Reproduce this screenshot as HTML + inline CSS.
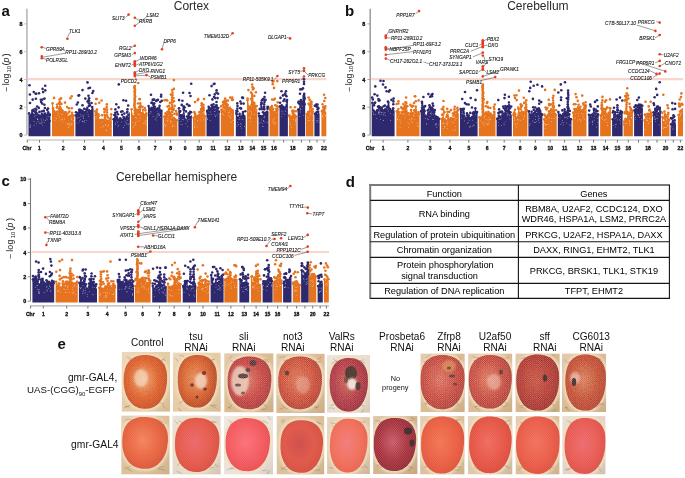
<!DOCTYPE html>
<html><head><meta charset="utf-8"><style>
html,body{margin:0;padding:0;background:#fff;}
body{width:685px;height:478px;overflow:hidden;font-family:"Liberation Sans",sans-serif;}
svg{display:block;font-family:"Liberation Sans",sans-serif;will-change:transform;}
</style></head><body>
<svg width="685" height="478" viewBox="0 0 685 478">
<line x1="26.9" y1="8.8" x2="26.9" y2="135.1" stroke="#bcbcbc" stroke-width="1.7"/>
<line x1="24.099999999999998" y1="135.1" x2="26.9" y2="135.1" stroke="#bcbcbc" stroke-width="0.9"/>
<text transform="translate(22.6,137.2) scale(0.9,1)" font-size="6.0" text-anchor="end" font-weight="bold" fill="#111" stroke="#111" stroke-width="0.35">0</text>
<line x1="24.099999999999998" y1="107.3" x2="26.9" y2="107.3" stroke="#bcbcbc" stroke-width="0.9"/>
<text transform="translate(22.6,109.4) scale(0.9,1)" font-size="6.0" text-anchor="end" font-weight="bold" fill="#111" stroke="#111" stroke-width="0.35">2</text>
<line x1="24.099999999999998" y1="79.5" x2="26.9" y2="79.5" stroke="#bcbcbc" stroke-width="0.9"/>
<text transform="translate(22.6,81.6) scale(0.9,1)" font-size="6.0" text-anchor="end" font-weight="bold" fill="#111" stroke="#111" stroke-width="0.35">4</text>
<line x1="24.099999999999998" y1="51.7" x2="26.9" y2="51.7" stroke="#bcbcbc" stroke-width="0.9"/>
<text transform="translate(22.6,53.8) scale(0.9,1)" font-size="6.0" text-anchor="end" font-weight="bold" fill="#111" stroke="#111" stroke-width="0.35">6</text>
<line x1="24.099999999999998" y1="23.9" x2="26.9" y2="23.9" stroke="#bcbcbc" stroke-width="0.9"/>
<text transform="translate(22.6,26.0) scale(0.9,1)" font-size="6.0" text-anchor="end" font-weight="bold" fill="#111" stroke="#111" stroke-width="0.35">8</text>
<line x1="27.9" y1="79.1" x2="326.3" y2="79.1" stroke="#f9d6cc" stroke-width="2.2"/>
<line x1="27.0" y1="140.0" x2="326.3" y2="140.0" stroke="#b4b4b4" stroke-width="1.1"/>
<line x1="27.3" y1="140.0" x2="27.3" y2="142.6" stroke="#666" stroke-width="0.9"/>
<text transform="translate(27.0,150.2) scale(0.85,1)" font-size="6.0" text-anchor="middle" font-weight="bold" fill="#111" stroke="#111" stroke-width="0.35">Chr</text>
<line x1="39.5" y1="140.0" x2="39.5" y2="142.6" stroke="#666" stroke-width="0.9"/>
<text transform="translate(39.5,150.2) scale(0.85,1)" font-size="6.0" text-anchor="middle" font-weight="bold" fill="#111" stroke="#111" stroke-width="0.35">1</text>
<line x1="63.1" y1="140.0" x2="63.1" y2="142.6" stroke="#666" stroke-width="0.9"/>
<text transform="translate(63.1,150.2) scale(0.85,1)" font-size="6.0" text-anchor="middle" font-weight="bold" fill="#111" stroke="#111" stroke-width="0.35">2</text>
<line x1="84.5" y1="140.0" x2="84.5" y2="142.6" stroke="#666" stroke-width="0.9"/>
<text transform="translate(84.5,150.2) scale(0.85,1)" font-size="6.0" text-anchor="middle" font-weight="bold" fill="#111" stroke="#111" stroke-width="0.35">3</text>
<line x1="103.3" y1="140.0" x2="103.3" y2="142.6" stroke="#666" stroke-width="0.9"/>
<text transform="translate(103.3,150.2) scale(0.85,1)" font-size="6.0" text-anchor="middle" font-weight="bold" fill="#111" stroke="#111" stroke-width="0.35">4</text>
<line x1="121.4" y1="140.0" x2="121.4" y2="142.6" stroke="#666" stroke-width="0.9"/>
<text transform="translate(121.4,150.2) scale(0.85,1)" font-size="6.0" text-anchor="middle" font-weight="bold" fill="#111" stroke="#111" stroke-width="0.35">5</text>
<line x1="138.9" y1="140.0" x2="138.9" y2="142.6" stroke="#666" stroke-width="0.9"/>
<text transform="translate(138.9,150.2) scale(0.85,1)" font-size="6.0" text-anchor="middle" font-weight="bold" fill="#111" stroke="#111" stroke-width="0.35">6</text>
<line x1="155.2" y1="140.0" x2="155.2" y2="142.6" stroke="#666" stroke-width="0.9"/>
<text transform="translate(155.2,150.2) scale(0.85,1)" font-size="6.0" text-anchor="middle" font-weight="bold" fill="#111" stroke="#111" stroke-width="0.35">7</text>
<line x1="170.6" y1="140.0" x2="170.6" y2="142.6" stroke="#666" stroke-width="0.9"/>
<text transform="translate(170.6,150.2) scale(0.85,1)" font-size="6.0" text-anchor="middle" font-weight="bold" fill="#111" stroke="#111" stroke-width="0.35">8</text>
<line x1="185.1" y1="140.0" x2="185.1" y2="142.6" stroke="#666" stroke-width="0.9"/>
<text transform="translate(185.1,150.2) scale(0.85,1)" font-size="6.0" text-anchor="middle" font-weight="bold" fill="#111" stroke="#111" stroke-width="0.35">9</text>
<line x1="199.2" y1="140.0" x2="199.2" y2="142.6" stroke="#666" stroke-width="0.9"/>
<text transform="translate(199.2,150.2) scale(0.85,1)" font-size="6.0" text-anchor="middle" font-weight="bold" fill="#111" stroke="#111" stroke-width="0.35">10</text>
<line x1="213.1" y1="140.0" x2="213.1" y2="142.6" stroke="#666" stroke-width="0.9"/>
<text transform="translate(213.1,150.2) scale(0.85,1)" font-size="6.0" text-anchor="middle" font-weight="bold" fill="#111" stroke="#111" stroke-width="0.35">11</text>
<line x1="227.4" y1="140.0" x2="227.4" y2="142.6" stroke="#666" stroke-width="0.9"/>
<text transform="translate(227.4,150.2) scale(0.85,1)" font-size="6.0" text-anchor="middle" font-weight="bold" fill="#111" stroke="#111" stroke-width="0.35">12</text>
<line x1="240.8" y1="140.0" x2="240.8" y2="142.6" stroke="#666" stroke-width="0.9"/>
<text transform="translate(240.8,150.2) scale(0.85,1)" font-size="6.0" text-anchor="middle" font-weight="bold" fill="#111" stroke="#111" stroke-width="0.35">13</text>
<line x1="252.2" y1="140.0" x2="252.2" y2="142.6" stroke="#666" stroke-width="0.9"/>
<text transform="translate(252.2,150.2) scale(0.85,1)" font-size="6.0" text-anchor="middle" font-weight="bold" fill="#111" stroke="#111" stroke-width="0.35">14</text>
<line x1="263.5" y1="140.0" x2="263.5" y2="142.6" stroke="#666" stroke-width="0.9"/>
<text transform="translate(263.5,150.2) scale(0.85,1)" font-size="6.0" text-anchor="middle" font-weight="bold" fill="#111" stroke="#111" stroke-width="0.35">15</text>
<line x1="273.9" y1="140.0" x2="273.9" y2="142.6" stroke="#666" stroke-width="0.9"/>
<text transform="translate(273.9,150.2) scale(0.85,1)" font-size="6.0" text-anchor="middle" font-weight="bold" fill="#111" stroke="#111" stroke-width="0.35">16</text>
<line x1="283.7" y1="140.0" x2="283.7" y2="142.6" stroke="#666" stroke-width="0.9"/>
<line x1="292.8" y1="140.0" x2="292.8" y2="142.6" stroke="#666" stroke-width="0.9"/>
<text transform="translate(292.8,150.2) scale(0.85,1)" font-size="6.0" text-anchor="middle" font-weight="bold" fill="#111" stroke="#111" stroke-width="0.35">18</text>
<line x1="301.4" y1="140.0" x2="301.4" y2="142.6" stroke="#666" stroke-width="0.9"/>
<line x1="309.7" y1="140.0" x2="309.7" y2="142.6" stroke="#666" stroke-width="0.9"/>
<text transform="translate(309.7,150.2) scale(0.85,1)" font-size="6.0" text-anchor="middle" font-weight="bold" fill="#111" stroke="#111" stroke-width="0.35">20</text>
<line x1="317.0" y1="140.0" x2="317.0" y2="142.6" stroke="#666" stroke-width="0.9"/>
<line x1="323.9" y1="140.0" x2="323.9" y2="142.6" stroke="#666" stroke-width="0.9"/>
<text transform="translate(323.9,150.2) scale(0.85,1)" font-size="6.0" text-anchor="middle" font-weight="bold" fill="#111" stroke="#111" stroke-width="0.35">22</text>
<path d="M28.5,136.3 L28.5,113.0 L29.1,113.0 L29.9,115.8 L30.7,114.8 L31.5,110.6 L32.3,110.2 L33.1,112.7 L33.9,114.4 L34.7,114.0 L35.5,111.4 L36.3,110.7 L37.1,113.1 L37.9,115.3 L38.7,114.9 L39.5,114.4 L40.2,116.0 L41.0,115.5 L41.8,113.8 L42.6,114.6 L43.4,115.8 L44.2,115.1 L45.0,114.5 L45.8,115.2 L46.6,114.7 L47.4,112.3 L48.2,111.8 L49.0,113.4 L49.8,114.4 L50.4,114.4 L50.4,136.3Z" fill="#2e296e"/>
<g fill="#fff" opacity="0.85"><circle cx="35.9" cy="115.2" r="0.42"/><circle cx="39.3" cy="123.1" r="0.42"/><circle cx="43.3" cy="119.9" r="0.42"/><circle cx="40.2" cy="123.7" r="0.42"/><circle cx="38.1" cy="121.5" r="0.42"/><circle cx="34.4" cy="116.2" r="0.42"/><circle cx="42.6" cy="125.1" r="0.42"/><circle cx="41.7" cy="121.0" r="0.42"/><circle cx="47.6" cy="119.8" r="0.42"/><circle cx="46.3" cy="118.8" r="0.42"/><circle cx="44.5" cy="122.1" r="0.42"/><circle cx="48.8" cy="116.7" r="0.42"/><circle cx="34.1" cy="125.3" r="0.42"/><circle cx="30.3" cy="124.8" r="0.42"/><circle cx="29.8" cy="127.1" r="0.42"/><circle cx="41.4" cy="122.9" r="0.42"/><circle cx="34.0" cy="121.7" r="0.42"/><circle cx="37.6" cy="119.6" r="0.42"/><circle cx="36.5" cy="123.4" r="0.42"/><circle cx="30.6" cy="127.0" r="0.42"/><circle cx="37.9" cy="119.7" r="0.42"/><circle cx="37.7" cy="119.4" r="0.42"/><circle cx="45.6" cy="120.5" r="0.42"/><circle cx="41.1" cy="119.0" r="0.42"/><circle cx="30.3" cy="125.8" r="0.42"/><circle cx="37.2" cy="118.4" r="0.42"/><circle cx="47.0" cy="116.3" r="0.42"/><circle cx="42.2" cy="122.8" r="0.42"/></g>
<g fill="#2e296e"><circle cx="36.3" cy="109.8" r="1.3"/><circle cx="41.1" cy="102.0" r="1.3"/><circle cx="44.4" cy="104.7" r="1.3"/><circle cx="33.2" cy="110.8" r="1.3"/><circle cx="34.8" cy="111.9" r="1.3"/><circle cx="35.4" cy="108.7" r="1.3"/><circle cx="37.2" cy="106.6" r="1.3"/><circle cx="38.8" cy="107.9" r="1.3"/><circle cx="39.4" cy="111.9" r="1.3"/><circle cx="41.6" cy="111.5" r="1.3"/><circle cx="42.7" cy="114.5" r="1.3"/><circle cx="43.7" cy="110.9" r="1.3"/><circle cx="45.0" cy="113.5" r="1.3"/><circle cx="47.2" cy="109.9" r="1.3"/><circle cx="48.0" cy="108.6" r="1.3"/><circle cx="49.7" cy="114.5" r="1.3"/><circle cx="29.5" cy="85.2" r="1.3"/><circle cx="29.9" cy="94.5" r="1.3"/><circle cx="30.0" cy="103.0" r="1.3"/><circle cx="33.8" cy="92.1" r="1.3"/><circle cx="36.2" cy="93.8" r="1.3"/><circle cx="35.9" cy="98.8" r="1.3"/><circle cx="39.0" cy="93.2" r="1.3"/><circle cx="42.6" cy="88.9" r="1.3"/><circle cx="43.1" cy="92.1" r="1.3"/><circle cx="42.4" cy="99.6" r="1.3"/><circle cx="44.5" cy="98.6" r="1.3"/><circle cx="42.2" cy="103.6" r="1.3"/><circle cx="44.9" cy="108.0" r="1.3"/><circle cx="49.6" cy="121.0" r="1.3"/><circle cx="33.4" cy="109.9" r="1.3"/><circle cx="40.8" cy="99.8" r="1.3"/><circle cx="45.3" cy="90.4" r="1.3"/><circle cx="35.7" cy="93.8" r="1.3"/><circle cx="43.4" cy="111.1" r="1.3"/><circle cx="32.7" cy="99.6" r="1.3"/><circle cx="45.2" cy="85.7" r="1.3"/><circle cx="29.1" cy="113.4" r="1.3"/><circle cx="30.7" cy="115.2" r="1.3"/><circle cx="32.3" cy="110.6" r="1.3"/><circle cx="33.9" cy="114.8" r="1.3"/><circle cx="35.5" cy="111.8" r="1.3"/><circle cx="37.1" cy="113.5" r="1.3"/><circle cx="38.7" cy="115.3" r="1.3"/><circle cx="40.2" cy="116.4" r="1.3"/><circle cx="41.8" cy="114.2" r="1.3"/><circle cx="43.4" cy="116.2" r="1.3"/><circle cx="45.0" cy="114.9" r="1.3"/><circle cx="46.6" cy="115.1" r="1.3"/><circle cx="48.2" cy="112.2" r="1.3"/><circle cx="49.8" cy="114.8" r="1.3"/></g>
<path d="M52.0,136.3 L52.0,103.0 L52.6,103.0 L53.4,107.4 L54.2,110.7 L55.0,112.0 L55.8,112.1 L56.6,110.6 L57.4,111.2 L58.3,110.9 L59.1,108.6 L59.9,109.4 L60.7,110.2 L61.5,110.5 L62.3,109.9 L63.1,109.9 L63.9,113.3 L64.7,114.2 L65.5,111.9 L66.3,110.9 L67.1,113.9 L67.9,116.5 L68.8,116.4 L69.6,116.0 L70.4,115.3 L71.2,113.9 L72.0,112.4 L72.8,113.4 L73.6,115.1 L74.2,115.1 L74.2,136.3Z" fill="#e6741f"/>
<g fill="#fff" opacity="0.85"><circle cx="59.4" cy="116.8" r="0.42"/><circle cx="58.4" cy="113.0" r="0.42"/><circle cx="71.4" cy="118.1" r="0.42"/><circle cx="64.5" cy="119.0" r="0.42"/><circle cx="53.0" cy="107.9" r="0.42"/><circle cx="62.5" cy="114.6" r="0.42"/><circle cx="55.2" cy="120.2" r="0.42"/><circle cx="62.5" cy="119.7" r="0.42"/><circle cx="67.0" cy="123.8" r="0.42"/><circle cx="55.9" cy="117.8" r="0.42"/><circle cx="70.0" cy="125.8" r="0.42"/><circle cx="62.8" cy="121.8" r="0.42"/><circle cx="57.7" cy="115.0" r="0.42"/><circle cx="69.1" cy="125.3" r="0.42"/><circle cx="65.9" cy="114.7" r="0.42"/><circle cx="71.0" cy="124.7" r="0.42"/><circle cx="71.5" cy="124.1" r="0.42"/><circle cx="73.3" cy="120.6" r="0.42"/><circle cx="67.8" cy="124.1" r="0.42"/><circle cx="68.8" cy="124.0" r="0.42"/><circle cx="62.0" cy="118.8" r="0.42"/><circle cx="69.4" cy="123.5" r="0.42"/><circle cx="61.1" cy="114.2" r="0.42"/><circle cx="56.6" cy="118.4" r="0.42"/><circle cx="60.8" cy="120.0" r="0.42"/><circle cx="68.5" cy="127.5" r="0.42"/><circle cx="72.0" cy="123.3" r="0.42"/><circle cx="71.3" cy="119.2" r="0.42"/></g>
<g fill="#e6741f"><circle cx="54.1" cy="97.9" r="1.3"/><circle cx="64.2" cy="112.3" r="1.3"/><circle cx="68.7" cy="112.5" r="1.3"/><circle cx="53.1" cy="108.2" r="1.3"/><circle cx="56.0" cy="114.4" r="1.3"/><circle cx="56.9" cy="107.6" r="1.3"/><circle cx="59.1" cy="103.3" r="1.3"/><circle cx="60.7" cy="108.3" r="1.3"/><circle cx="61.4" cy="103.9" r="1.3"/><circle cx="65.6" cy="113.8" r="1.3"/><circle cx="67.1" cy="107.0" r="1.3"/><circle cx="69.3" cy="111.6" r="1.3"/><circle cx="71.8" cy="108.2" r="1.3"/><circle cx="59.8" cy="107.0" r="1.3"/><circle cx="59.7" cy="104.5" r="1.3"/><circle cx="59.8" cy="102.0" r="1.3"/><circle cx="59.6" cy="99.6" r="1.3"/><circle cx="57.2" cy="107.0" r="1.3"/><circle cx="57.1" cy="104.6" r="1.3"/><circle cx="71.7" cy="96.2" r="1.3"/><circle cx="70.4" cy="98.3" r="1.3"/><circle cx="65.0" cy="102.6" r="1.3"/><circle cx="61.0" cy="98.4" r="1.3"/><circle cx="68.9" cy="108.2" r="1.3"/><circle cx="52.6" cy="103.4" r="1.3"/><circle cx="54.2" cy="111.1" r="1.3"/><circle cx="55.8" cy="112.5" r="1.3"/><circle cx="57.4" cy="111.6" r="1.3"/><circle cx="59.1" cy="109.0" r="1.3"/><circle cx="60.7" cy="110.6" r="1.3"/><circle cx="62.3" cy="110.3" r="1.3"/><circle cx="63.9" cy="113.7" r="1.3"/><circle cx="65.5" cy="112.3" r="1.3"/><circle cx="67.1" cy="114.3" r="1.3"/><circle cx="68.8" cy="116.8" r="1.3"/><circle cx="70.4" cy="115.7" r="1.3"/><circle cx="72.0" cy="112.8" r="1.3"/><circle cx="73.6" cy="115.5" r="1.3"/></g>
<path d="M75.4,136.3 L75.4,114.8 L76.0,114.8 L76.8,112.7 L77.6,112.6 L78.4,111.1 L79.2,109.4 L80.0,110.6 L80.9,111.3 L81.7,110.5 L82.5,110.5 L83.3,111.5 L84.1,111.7 L84.9,112.0 L85.7,111.6 L86.5,109.0 L87.3,107.3 L88.1,109.4 L89.0,109.9 L89.8,109.4 L90.6,110.8 L91.4,108.8 L92.2,106.6 L93.0,108.2 L93.6,108.2 L93.6,136.3Z" fill="#2e296e"/>
<g fill="#fff" opacity="0.85"><circle cx="83.3" cy="118.7" r="0.42"/><circle cx="78.6" cy="113.2" r="0.42"/><circle cx="83.8" cy="121.3" r="0.42"/><circle cx="82.9" cy="116.6" r="0.42"/><circle cx="79.7" cy="121.0" r="0.42"/><circle cx="82.2" cy="121.1" r="0.42"/><circle cx="80.9" cy="116.1" r="0.42"/><circle cx="86.5" cy="120.3" r="0.42"/><circle cx="80.9" cy="114.2" r="0.42"/><circle cx="84.7" cy="122.6" r="0.42"/><circle cx="79.0" cy="117.7" r="0.42"/><circle cx="80.7" cy="119.8" r="0.42"/><circle cx="84.5" cy="120.7" r="0.42"/><circle cx="88.6" cy="116.4" r="0.42"/><circle cx="84.1" cy="114.0" r="0.42"/><circle cx="78.0" cy="123.1" r="0.42"/><circle cx="83.4" cy="117.2" r="0.42"/><circle cx="82.7" cy="121.5" r="0.42"/><circle cx="77.6" cy="117.9" r="0.42"/><circle cx="83.1" cy="115.7" r="0.42"/><circle cx="86.4" cy="112.7" r="0.42"/><circle cx="87.7" cy="111.9" r="0.42"/><circle cx="88.1" cy="114.7" r="0.42"/></g>
<g fill="#2e296e"><circle cx="77.9" cy="102.5" r="1.3"/><circle cx="78.5" cy="95.6" r="1.3"/><circle cx="79.1" cy="95.3" r="1.3"/><circle cx="79.9" cy="109.7" r="1.3"/><circle cx="92.4" cy="93.0" r="1.3"/><circle cx="93.2" cy="91.1" r="1.3"/><circle cx="76.0" cy="112.2" r="1.3"/><circle cx="76.8" cy="104.5" r="1.3"/><circle cx="81.0" cy="110.4" r="1.3"/><circle cx="82.5" cy="105.2" r="1.3"/><circle cx="83.6" cy="113.2" r="1.3"/><circle cx="84.2" cy="108.7" r="1.3"/><circle cx="85.8" cy="109.5" r="1.3"/><circle cx="90.5" cy="114.7" r="1.3"/><circle cx="91.5" cy="103.0" r="1.3"/><circle cx="87.5" cy="82.4" r="1.3"/><circle cx="88.9" cy="105.9" r="1.3"/><circle cx="88.9" cy="103.3" r="1.3"/><circle cx="89.1" cy="100.8" r="1.3"/><circle cx="89.1" cy="98.3" r="1.3"/><circle cx="88.5" cy="95.8" r="1.3"/><circle cx="85.3" cy="98.6" r="1.3"/><circle cx="89.9" cy="105.4" r="1.3"/><circle cx="90.0" cy="87.8" r="1.3"/><circle cx="88.5" cy="100.4" r="1.3"/><circle cx="82.5" cy="90.1" r="1.3"/><circle cx="88.6" cy="88.2" r="1.3"/><circle cx="87.5" cy="101.5" r="1.3"/><circle cx="76.0" cy="115.2" r="1.3"/><circle cx="77.6" cy="113.0" r="1.3"/><circle cx="79.2" cy="109.8" r="1.3"/><circle cx="80.9" cy="111.7" r="1.3"/><circle cx="82.5" cy="110.9" r="1.3"/><circle cx="84.1" cy="112.1" r="1.3"/><circle cx="85.7" cy="112.0" r="1.3"/><circle cx="87.3" cy="107.7" r="1.3"/><circle cx="89.0" cy="110.3" r="1.3"/><circle cx="90.6" cy="111.2" r="1.3"/><circle cx="92.2" cy="107.0" r="1.3"/></g>
<path d="M94.8,136.3 L94.8,111.0 L95.4,111.0 L96.2,110.4 L97.0,109.1 L97.8,112.1 L98.6,115.9 L99.3,118.4 L100.1,119.9 L100.9,119.2 L101.7,119.4 L102.5,119.8 L103.3,119.7 L104.1,119.3 L104.9,117.0 L105.7,116.6 L106.5,120.1 L107.2,121.9 L108.0,120.6 L108.8,119.6 L109.6,118.3 L110.4,116.6 L111.2,114.0 L111.8,114.0 L111.8,136.3Z" fill="#e6741f"/>
<g fill="#fff" opacity="0.85"><circle cx="99.4" cy="122.5" r="0.42"/><circle cx="106.2" cy="130.0" r="0.42"/><circle cx="108.4" cy="124.2" r="0.42"/><circle cx="107.4" cy="126.7" r="0.42"/><circle cx="102.0" cy="122.2" r="0.42"/><circle cx="96.1" cy="116.8" r="0.42"/><circle cx="97.2" cy="113.0" r="0.42"/><circle cx="96.0" cy="118.8" r="0.42"/><circle cx="109.2" cy="121.3" r="0.42"/><circle cx="108.5" cy="125.5" r="0.42"/><circle cx="101.1" cy="127.7" r="0.42"/><circle cx="105.6" cy="125.7" r="0.42"/><circle cx="105.8" cy="124.5" r="0.42"/><circle cx="97.1" cy="116.6" r="0.42"/><circle cx="106.8" cy="130.3" r="0.42"/><circle cx="103.9" cy="125.8" r="0.42"/><circle cx="110.9" cy="120.2" r="0.42"/><circle cx="103.6" cy="126.8" r="0.42"/><circle cx="110.4" cy="128.2" r="0.42"/><circle cx="105.9" cy="120.8" r="0.42"/></g>
<g fill="#e6741f"><circle cx="96.7" cy="99.0" r="1.3"/><circle cx="99.2" cy="102.7" r="1.3"/><circle cx="105.8" cy="109.7" r="1.3"/><circle cx="95.6" cy="103.8" r="1.3"/><circle cx="96.3" cy="112.5" r="1.3"/><circle cx="98.4" cy="114.2" r="1.3"/><circle cx="100.4" cy="122.2" r="1.3"/><circle cx="107.8" cy="117.4" r="1.3"/><circle cx="111.3" cy="109.1" r="1.3"/><circle cx="104.5" cy="114.8" r="1.3"/><circle cx="104.5" cy="111.9" r="1.3"/><circle cx="104.4" cy="109.0" r="1.3"/><circle cx="107.1" cy="114.8" r="1.3"/><circle cx="107.0" cy="112.2" r="1.3"/><circle cx="107.1" cy="109.6" r="1.3"/><circle cx="106.7" cy="107.0" r="1.3"/><circle cx="106.8" cy="104.4" r="1.3"/><circle cx="96.2" cy="99.0" r="1.3"/><circle cx="105.7" cy="115.8" r="1.3"/><circle cx="101.6" cy="100.5" r="1.3"/><circle cx="95.7" cy="115.1" r="1.3"/><circle cx="104.2" cy="109.1" r="1.3"/><circle cx="102.0" cy="115.3" r="1.3"/><circle cx="95.4" cy="111.4" r="1.3"/><circle cx="97.0" cy="109.5" r="1.3"/><circle cx="98.6" cy="116.3" r="1.3"/><circle cx="100.1" cy="120.3" r="1.3"/><circle cx="101.7" cy="119.8" r="1.3"/><circle cx="103.3" cy="120.1" r="1.3"/><circle cx="104.9" cy="117.4" r="1.3"/><circle cx="106.5" cy="120.5" r="1.3"/><circle cx="108.0" cy="121.0" r="1.3"/><circle cx="109.6" cy="118.7" r="1.3"/><circle cx="111.2" cy="114.4" r="1.3"/></g>
<path d="M113.0,136.3 L113.0,118.8 L113.6,118.8 L114.4,116.0 L115.2,112.4 L116.1,112.6 L116.9,116.8 L117.7,119.0 L118.5,119.5 L119.3,119.3 L120.2,117.8 L121.0,118.2 L121.8,119.6 L122.6,119.1 L123.5,116.7 L124.3,116.3 L125.1,118.2 L125.9,118.0 L126.7,116.3 L127.6,115.3 L128.4,114.4 L129.2,112.2 L129.8,112.2 L129.8,136.3Z" fill="#2e296e"/>
<g fill="#fff" opacity="0.85"><circle cx="126.0" cy="120.3" r="0.42"/><circle cx="126.9" cy="123.7" r="0.42"/><circle cx="125.9" cy="120.1" r="0.42"/><circle cx="123.6" cy="127.5" r="0.42"/><circle cx="128.9" cy="123.9" r="0.42"/><circle cx="115.3" cy="124.5" r="0.42"/><circle cx="128.2" cy="124.3" r="0.42"/><circle cx="126.9" cy="124.6" r="0.42"/><circle cx="118.1" cy="126.0" r="0.42"/><circle cx="116.9" cy="121.1" r="0.42"/><circle cx="128.7" cy="116.6" r="0.42"/><circle cx="127.3" cy="120.2" r="0.42"/><circle cx="116.4" cy="118.3" r="0.42"/><circle cx="125.5" cy="121.4" r="0.42"/><circle cx="118.3" cy="125.1" r="0.42"/><circle cx="121.6" cy="121.9" r="0.42"/><circle cx="125.9" cy="122.2" r="0.42"/><circle cx="117.7" cy="122.3" r="0.42"/><circle cx="115.3" cy="122.9" r="0.42"/><circle cx="124.7" cy="125.3" r="0.42"/><circle cx="124.3" cy="121.1" r="0.42"/></g>
<g fill="#2e296e"><circle cx="116.3" cy="104.3" r="1.3"/><circle cx="118.6" cy="107.4" r="1.3"/><circle cx="122.4" cy="111.3" r="1.3"/><circle cx="123.4" cy="100.3" r="1.3"/><circle cx="126.1" cy="100.8" r="1.3"/><circle cx="127.0" cy="112.5" r="1.3"/><circle cx="128.2" cy="105.5" r="1.3"/><circle cx="114.3" cy="115.0" r="1.3"/><circle cx="115.4" cy="109.4" r="1.3"/><circle cx="117.0" cy="119.3" r="1.3"/><circle cx="121.7" cy="119.9" r="1.3"/><circle cx="124.3" cy="113.6" r="1.3"/><circle cx="125.1" cy="120.5" r="1.3"/><circle cx="127.3" cy="111.8" r="1.3"/><circle cx="118.8" cy="84.4" r="1.3"/><circle cx="117.9" cy="114.3" r="1.3"/><circle cx="121.1" cy="111.7" r="1.3"/><circle cx="117.1" cy="112.1" r="1.3"/><circle cx="122.1" cy="114.7" r="1.3"/><circle cx="127.5" cy="109.3" r="1.3"/><circle cx="113.6" cy="119.2" r="1.3"/><circle cx="115.2" cy="112.8" r="1.3"/><circle cx="116.9" cy="117.2" r="1.3"/><circle cx="118.5" cy="119.9" r="1.3"/><circle cx="120.2" cy="118.2" r="1.3"/><circle cx="121.8" cy="120.0" r="1.3"/><circle cx="123.5" cy="117.1" r="1.3"/><circle cx="125.1" cy="118.6" r="1.3"/><circle cx="126.7" cy="116.7" r="1.3"/><circle cx="128.4" cy="114.8" r="1.3"/></g>
<path d="M131.0,136.3 L131.0,108.9 L131.6,108.9 L132.4,113.1 L133.2,115.8 L134.1,115.6 L134.9,113.1 L135.7,112.4 L136.5,111.7 L137.3,110.1 L138.1,110.4 L138.9,110.5 L139.8,109.5 L140.6,109.9 L141.4,112.9 L142.2,111.5 L143.0,109.4 L143.9,112.9 L144.7,114.5 L145.5,114.0 L146.3,114.9 L146.9,114.9 L146.9,136.3Z" fill="#e6741f"/>
<g fill="#fff" opacity="0.85"><circle cx="138.6" cy="114.1" r="0.42"/><circle cx="137.0" cy="113.2" r="0.42"/><circle cx="140.0" cy="114.7" r="0.42"/><circle cx="137.3" cy="121.6" r="0.42"/><circle cx="146.0" cy="121.7" r="0.42"/><circle cx="135.4" cy="117.5" r="0.42"/><circle cx="146.1" cy="124.6" r="0.42"/><circle cx="136.2" cy="118.0" r="0.42"/><circle cx="135.7" cy="124.0" r="0.42"/><circle cx="138.5" cy="114.6" r="0.42"/><circle cx="143.5" cy="123.7" r="0.42"/><circle cx="133.4" cy="127.0" r="0.42"/><circle cx="140.8" cy="117.9" r="0.42"/><circle cx="134.5" cy="125.2" r="0.42"/><circle cx="135.3" cy="122.5" r="0.42"/><circle cx="144.1" cy="122.0" r="0.42"/><circle cx="139.8" cy="120.8" r="0.42"/><circle cx="145.2" cy="123.7" r="0.42"/><circle cx="145.9" cy="120.2" r="0.42"/><circle cx="132.3" cy="122.3" r="0.42"/></g>
<g fill="#e6741f"><circle cx="139.9" cy="99.0" r="1.3"/><circle cx="144.8" cy="108.1" r="1.3"/><circle cx="135.0" cy="110.8" r="1.3"/><circle cx="135.9" cy="109.8" r="1.3"/><circle cx="138.3" cy="111.7" r="1.3"/><circle cx="139.1" cy="107.2" r="1.3"/><circle cx="140.3" cy="106.4" r="1.3"/><circle cx="142.5" cy="106.8" r="1.3"/><circle cx="145.4" cy="110.4" r="1.3"/><circle cx="146.3" cy="113.3" r="1.3"/><circle cx="138.3" cy="83.0" r="1.3"/><circle cx="135.1" cy="113.3" r="1.3"/><circle cx="135.1" cy="112.0" r="1.3"/><circle cx="134.9" cy="110.7" r="1.3"/><circle cx="134.9" cy="109.4" r="1.3"/><circle cx="134.9" cy="108.1" r="1.3"/><circle cx="134.5" cy="106.8" r="1.3"/><circle cx="134.5" cy="105.5" r="1.3"/><circle cx="134.4" cy="104.2" r="1.3"/><circle cx="134.6" cy="102.9" r="1.3"/><circle cx="134.8" cy="101.6" r="1.3"/><circle cx="134.8" cy="100.3" r="1.3"/><circle cx="134.7" cy="99.0" r="1.3"/><circle cx="134.7" cy="97.7" r="1.3"/><circle cx="135.2" cy="96.4" r="1.3"/><circle cx="134.7" cy="95.1" r="1.3"/><circle cx="134.9" cy="93.8" r="1.3"/><circle cx="134.8" cy="92.5" r="1.3"/><circle cx="134.6" cy="91.2" r="1.3"/><circle cx="135.1" cy="89.9" r="1.3"/><circle cx="134.6" cy="88.6" r="1.3"/><circle cx="134.3" cy="87.3" r="1.3"/><circle cx="134.8" cy="86.0" r="1.3"/><circle cx="139.8" cy="110.1" r="1.3"/><circle cx="140.4" cy="107.8" r="1.3"/><circle cx="140.5" cy="105.5" r="1.3"/><circle cx="137.6" cy="109.8" r="1.3"/><circle cx="140.2" cy="103.4" r="1.3"/><circle cx="137.9" cy="103.5" r="1.3"/><circle cx="139.6" cy="99.3" r="1.3"/><circle cx="131.6" cy="109.3" r="1.3"/><circle cx="133.2" cy="116.2" r="1.3"/><circle cx="134.9" cy="113.5" r="1.3"/><circle cx="136.5" cy="112.1" r="1.3"/><circle cx="138.1" cy="110.8" r="1.3"/><circle cx="139.8" cy="109.9" r="1.3"/><circle cx="141.4" cy="113.3" r="1.3"/><circle cx="143.0" cy="109.8" r="1.3"/><circle cx="144.7" cy="114.9" r="1.3"/><circle cx="146.3" cy="115.3" r="1.3"/></g>
<path d="M148.0,136.3 L148.0,105.6 L148.6,105.6 L149.4,107.1 L150.2,108.3 L150.9,108.1 L151.7,107.4 L152.5,107.0 L153.3,104.4 L154.1,103.2 L154.9,106.4 L155.6,108.6 L156.4,108.7 L157.2,107.9 L158.0,108.0 L158.8,107.4 L159.6,105.5 L160.3,107.8 L161.1,110.5 L161.9,109.6 L162.5,109.6 L162.5,136.3Z" fill="#2e296e"/>
<g fill="#fff" opacity="0.85"><circle cx="158.9" cy="115.6" r="0.42"/><circle cx="159.6" cy="115.3" r="0.42"/><circle cx="156.8" cy="117.8" r="0.42"/><circle cx="151.5" cy="111.9" r="0.42"/><circle cx="159.6" cy="114.3" r="0.42"/><circle cx="149.9" cy="113.5" r="0.42"/><circle cx="158.2" cy="113.8" r="0.42"/><circle cx="157.4" cy="111.6" r="0.42"/><circle cx="159.3" cy="111.8" r="0.42"/><circle cx="155.1" cy="119.0" r="0.42"/><circle cx="158.1" cy="113.4" r="0.42"/><circle cx="157.0" cy="116.0" r="0.42"/><circle cx="150.4" cy="111.8" r="0.42"/><circle cx="160.7" cy="117.4" r="0.42"/><circle cx="159.8" cy="110.2" r="0.42"/><circle cx="156.6" cy="120.1" r="0.42"/><circle cx="157.9" cy="114.2" r="0.42"/><circle cx="153.2" cy="116.4" r="0.42"/></g>
<g fill="#2e296e"><circle cx="151.0" cy="94.8" r="1.3"/><circle cx="152.7" cy="99.9" r="1.3"/><circle cx="153.4" cy="99.8" r="1.3"/><circle cx="157.9" cy="99.8" r="1.3"/><circle cx="156.2" cy="100.9" r="1.3"/><circle cx="157.3" cy="100.2" r="1.3"/><circle cx="158.8" cy="111.1" r="1.3"/><circle cx="161.8" cy="100.7" r="1.3"/><circle cx="154.2" cy="103.4" r="1.3"/><circle cx="154.1" cy="99.6" r="1.3"/><circle cx="161.2" cy="94.8" r="1.3"/><circle cx="152.0" cy="102.7" r="1.3"/><circle cx="151.5" cy="102.9" r="1.3"/><circle cx="161.1" cy="96.6" r="1.3"/><circle cx="160.3" cy="102.0" r="1.3"/><circle cx="148.6" cy="106.0" r="1.3"/><circle cx="150.2" cy="108.7" r="1.3"/><circle cx="151.7" cy="107.8" r="1.3"/><circle cx="153.3" cy="104.8" r="1.3"/><circle cx="154.9" cy="106.8" r="1.3"/><circle cx="156.4" cy="109.1" r="1.3"/><circle cx="158.0" cy="108.4" r="1.3"/><circle cx="159.6" cy="105.9" r="1.3"/><circle cx="161.1" cy="110.9" r="1.3"/></g>
<path d="M163.7,136.3 L163.7,116.1 L164.3,116.1 L165.1,116.2 L165.9,114.1 L166.6,112.4 L167.4,111.4 L168.2,109.7 L169.0,109.2 L169.8,110.1 L170.6,112.4 L171.3,114.0 L172.1,114.7 L172.9,117.6 L173.7,117.5 L174.5,116.7 L175.2,118.8 L176.0,119.3 L176.8,119.9 L177.4,119.9 L177.4,136.3Z" fill="#e6741f"/>
<g fill="#fff" opacity="0.85"><circle cx="170.6" cy="121.3" r="0.42"/><circle cx="171.5" cy="121.6" r="0.42"/><circle cx="167.7" cy="118.3" r="0.42"/><circle cx="172.9" cy="125.0" r="0.42"/><circle cx="171.8" cy="117.6" r="0.42"/><circle cx="170.6" cy="122.8" r="0.42"/><circle cx="166.5" cy="124.3" r="0.42"/><circle cx="168.1" cy="119.9" r="0.42"/><circle cx="172.5" cy="126.5" r="0.42"/><circle cx="165.1" cy="125.8" r="0.42"/><circle cx="166.9" cy="120.4" r="0.42"/><circle cx="170.4" cy="120.3" r="0.42"/><circle cx="168.3" cy="115.3" r="0.42"/><circle cx="174.1" cy="126.2" r="0.42"/><circle cx="167.7" cy="121.1" r="0.42"/><circle cx="165.4" cy="126.4" r="0.42"/><circle cx="164.5" cy="124.2" r="0.42"/></g>
<g fill="#e6741f"><circle cx="164.6" cy="100.2" r="1.3"/><circle cx="167.6" cy="106.6" r="1.3"/><circle cx="172.1" cy="102.2" r="1.3"/><circle cx="173.5" cy="109.9" r="1.3"/><circle cx="176.1" cy="111.0" r="1.3"/><circle cx="166.0" cy="100.1" r="1.3"/><circle cx="169.1" cy="105.8" r="1.3"/><circle cx="169.8" cy="108.2" r="1.3"/><circle cx="172.8" cy="120.1" r="1.3"/><circle cx="174.3" cy="113.7" r="1.3"/><circle cx="176.8" cy="114.8" r="1.3"/><circle cx="173.9" cy="80.1" r="1.3"/><circle cx="173.9" cy="88.9" r="1.3"/><circle cx="173.5" cy="98.0" r="1.3"/><circle cx="174.0" cy="101.0" r="1.3"/><circle cx="172.1" cy="112.0" r="1.3"/><circle cx="172.1" cy="109.6" r="1.3"/><circle cx="172.2" cy="107.1" r="1.3"/><circle cx="172.1" cy="104.7" r="1.3"/><circle cx="172.4" cy="102.3" r="1.3"/><circle cx="171.9" cy="99.8" r="1.3"/><circle cx="172.1" cy="97.4" r="1.3"/><circle cx="172.5" cy="94.9" r="1.3"/><circle cx="172.5" cy="92.5" r="1.3"/><circle cx="172.2" cy="90.1" r="1.3"/><circle cx="173.5" cy="108.5" r="1.3"/><circle cx="172.2" cy="102.0" r="1.3"/><circle cx="165.6" cy="113.2" r="1.3"/><circle cx="174.6" cy="105.9" r="1.3"/><circle cx="176.5" cy="113.4" r="1.3"/><circle cx="171.2" cy="108.8" r="1.3"/><circle cx="170.9" cy="94.6" r="1.3"/><circle cx="167.2" cy="100.4" r="1.3"/><circle cx="169.9" cy="102.9" r="1.3"/><circle cx="164.3" cy="116.5" r="1.3"/><circle cx="165.9" cy="114.5" r="1.3"/><circle cx="167.4" cy="111.8" r="1.3"/><circle cx="169.0" cy="109.6" r="1.3"/><circle cx="170.6" cy="112.8" r="1.3"/><circle cx="172.1" cy="115.1" r="1.3"/><circle cx="173.7" cy="117.9" r="1.3"/><circle cx="175.2" cy="119.2" r="1.3"/><circle cx="176.8" cy="120.3" r="1.3"/></g>
<path d="M178.4,136.3 L178.4,107.8 L179.0,107.8 L179.8,112.8 L180.6,114.8 L181.4,114.8 L182.3,114.9 L183.1,111.8 L183.9,109.6 L184.7,113.2 L185.5,119.3 L186.3,120.4 L187.1,116.2 L187.9,113.1 L188.8,112.8 L189.6,115.1 L190.4,116.7 L191.2,115.2 L191.8,115.2 L191.8,136.3Z" fill="#2e296e"/>
<g fill="#fff" opacity="0.85"><circle cx="182.2" cy="124.3" r="0.42"/><circle cx="183.9" cy="112.0" r="0.42"/><circle cx="179.6" cy="117.7" r="0.42"/><circle cx="179.6" cy="115.3" r="0.42"/><circle cx="185.9" cy="123.4" r="0.42"/><circle cx="182.5" cy="118.8" r="0.42"/><circle cx="187.7" cy="121.0" r="0.42"/><circle cx="187.6" cy="126.3" r="0.42"/><circle cx="189.0" cy="119.4" r="0.42"/><circle cx="182.3" cy="117.1" r="0.42"/><circle cx="181.0" cy="124.3" r="0.42"/><circle cx="183.6" cy="119.8" r="0.42"/><circle cx="182.7" cy="119.3" r="0.42"/><circle cx="183.3" cy="114.7" r="0.42"/><circle cx="181.0" cy="121.3" r="0.42"/><circle cx="179.6" cy="119.2" r="0.42"/></g>
<g fill="#2e296e"><circle cx="184.6" cy="107.5" r="1.3"/><circle cx="187.1" cy="104.2" r="1.3"/><circle cx="179.1" cy="100.1" r="1.3"/><circle cx="181.7" cy="104.9" r="1.3"/><circle cx="182.4" cy="117.5" r="1.3"/><circle cx="183.8" cy="106.5" r="1.3"/><circle cx="188.9" cy="105.8" r="1.3"/><circle cx="189.6" cy="113.7" r="1.3"/><circle cx="190.2" cy="111.9" r="1.3"/><circle cx="191.1" cy="112.3" r="1.3"/><circle cx="191.2" cy="83.8" r="1.3"/><circle cx="189.5" cy="93.0" r="1.3"/><circle cx="190.5" cy="96.0" r="1.3"/><circle cx="180.3" cy="111.0" r="1.3"/><circle cx="182.4" cy="100.8" r="1.3"/><circle cx="179.9" cy="111.7" r="1.3"/><circle cx="185.9" cy="111.4" r="1.3"/><circle cx="183.6" cy="106.7" r="1.3"/><circle cx="183.6" cy="108.9" r="1.3"/><circle cx="183.1" cy="92.7" r="1.3"/><circle cx="189.5" cy="105.7" r="1.3"/><circle cx="179.0" cy="108.2" r="1.3"/><circle cx="180.6" cy="115.2" r="1.3"/><circle cx="182.3" cy="115.3" r="1.3"/><circle cx="183.9" cy="110.0" r="1.3"/><circle cx="185.5" cy="119.7" r="1.3"/><circle cx="187.1" cy="116.6" r="1.3"/><circle cx="188.8" cy="113.2" r="1.3"/><circle cx="190.4" cy="117.1" r="1.3"/></g>
<path d="M193.0,136.3 L193.0,117.4 L193.6,117.4 L194.4,115.5 L195.2,114.4 L196.0,115.2 L196.8,116.1 L197.6,115.6 L198.4,115.2 L199.2,113.7 L200.1,111.3 L200.9,110.0 L201.7,110.3 L202.5,110.3 L203.3,107.4 L204.1,109.3 L204.9,115.9 L205.5,115.9 L205.5,136.3Z" fill="#e6741f"/>
<g fill="#fff" opacity="0.85"><circle cx="197.0" cy="126.9" r="0.42"/><circle cx="194.9" cy="123.0" r="0.42"/><circle cx="204.1" cy="117.1" r="0.42"/><circle cx="194.3" cy="127.5" r="0.42"/><circle cx="203.7" cy="113.0" r="0.42"/><circle cx="197.5" cy="120.3" r="0.42"/><circle cx="200.2" cy="119.9" r="0.42"/><circle cx="202.1" cy="117.1" r="0.42"/><circle cx="203.4" cy="119.9" r="0.42"/><circle cx="197.5" cy="120.9" r="0.42"/><circle cx="194.5" cy="118.8" r="0.42"/><circle cx="195.0" cy="119.1" r="0.42"/><circle cx="202.7" cy="112.8" r="0.42"/><circle cx="194.8" cy="125.6" r="0.42"/><circle cx="200.9" cy="114.1" r="0.42"/><circle cx="203.3" cy="114.2" r="0.42"/></g>
<g fill="#e6741f"><circle cx="201.1" cy="109.0" r="1.3"/><circle cx="204.0" cy="99.0" r="1.3"/><circle cx="194.3" cy="112.0" r="1.3"/><circle cx="195.0" cy="113.6" r="1.3"/><circle cx="199.3" cy="112.2" r="1.3"/><circle cx="201.7" cy="105.2" r="1.3"/><circle cx="202.4" cy="114.8" r="1.3"/><circle cx="203.5" cy="110.1" r="1.3"/><circle cx="203.4" cy="107.4" r="1.3"/><circle cx="203.5" cy="104.8" r="1.3"/><circle cx="201.8" cy="110.1" r="1.3"/><circle cx="202.2" cy="107.8" r="1.3"/><circle cx="202.0" cy="105.5" r="1.3"/><circle cx="201.7" cy="103.2" r="1.3"/><circle cx="198.3" cy="99.0" r="1.3"/><circle cx="195.0" cy="102.1" r="1.3"/><circle cx="202.4" cy="108.1" r="1.3"/><circle cx="197.7" cy="100.3" r="1.3"/><circle cx="203.5" cy="109.4" r="1.3"/><circle cx="193.6" cy="117.8" r="1.3"/><circle cx="195.2" cy="114.8" r="1.3"/><circle cx="196.8" cy="116.5" r="1.3"/><circle cx="198.4" cy="115.6" r="1.3"/><circle cx="200.1" cy="111.7" r="1.3"/><circle cx="201.7" cy="110.7" r="1.3"/><circle cx="203.3" cy="107.8" r="1.3"/><circle cx="204.9" cy="116.3" r="1.3"/></g>
<path d="M206.5,136.3 L206.5,110.6 L207.1,110.6 L207.9,107.7 L208.7,106.3 L209.5,107.1 L210.3,108.2 L211.1,107.0 L211.9,105.7 L212.7,106.5 L213.4,108.6 L214.2,108.4 L215.0,106.6 L215.8,105.4 L216.6,105.0 L217.4,105.9 L218.2,107.6 L219.0,111.5 L219.6,111.5 L219.6,136.3Z" fill="#2e296e"/>
<g fill="#fff" opacity="0.85"><circle cx="214.3" cy="114.8" r="0.42"/><circle cx="217.2" cy="108.8" r="0.42"/><circle cx="218.1" cy="113.0" r="0.42"/><circle cx="217.0" cy="115.0" r="0.42"/><circle cx="210.4" cy="112.0" r="0.42"/><circle cx="215.5" cy="108.5" r="0.42"/><circle cx="207.7" cy="119.5" r="0.42"/><circle cx="215.5" cy="116.1" r="0.42"/><circle cx="215.7" cy="116.2" r="0.42"/><circle cx="207.7" cy="118.6" r="0.42"/><circle cx="210.3" cy="120.4" r="0.42"/><circle cx="212.2" cy="109.7" r="0.42"/><circle cx="208.8" cy="111.6" r="0.42"/><circle cx="215.1" cy="111.2" r="0.42"/><circle cx="211.1" cy="114.3" r="0.42"/><circle cx="208.9" cy="114.7" r="0.42"/><circle cx="214.7" cy="111.7" r="0.42"/></g>
<g fill="#2e296e"><circle cx="209.5" cy="95.3" r="1.3"/><circle cx="211.6" cy="86.1" r="1.3"/><circle cx="213.2" cy="106.7" r="1.3"/><circle cx="218.1" cy="93.8" r="1.3"/><circle cx="207.3" cy="111.6" r="1.3"/><circle cx="212.4" cy="99.4" r="1.3"/><circle cx="214.8" cy="94.4" r="1.3"/><circle cx="216.5" cy="102.0" r="1.3"/><circle cx="219.1" cy="111.7" r="1.3"/><circle cx="214.5" cy="83.8" r="1.3"/><circle cx="216.5" cy="92.6" r="1.3"/><circle cx="214.0" cy="97.0" r="1.3"/><circle cx="215.3" cy="98.1" r="1.3"/><circle cx="213.8" cy="84.0" r="1.3"/><circle cx="211.6" cy="105.0" r="1.3"/><circle cx="217.6" cy="98.1" r="1.3"/><circle cx="213.5" cy="104.3" r="1.3"/><circle cx="215.9" cy="105.9" r="1.3"/><circle cx="216.6" cy="90.2" r="1.3"/><circle cx="207.1" cy="111.0" r="1.3"/><circle cx="208.7" cy="106.7" r="1.3"/><circle cx="210.3" cy="108.6" r="1.3"/><circle cx="211.9" cy="106.1" r="1.3"/><circle cx="213.4" cy="109.0" r="1.3"/><circle cx="215.0" cy="107.0" r="1.3"/><circle cx="216.6" cy="105.4" r="1.3"/><circle cx="218.2" cy="108.0" r="1.3"/></g>
<path d="M220.8,136.3 L220.8,109.4 L221.4,109.4 L222.2,108.5 L223.0,104.4 L223.8,101.4 L224.6,100.2 L225.4,100.1 L226.2,102.8 L227.0,104.1 L227.8,104.7 L228.6,107.8 L229.4,107.5 L230.2,105.9 L231.0,108.8 L231.8,110.6 L232.6,110.0 L233.4,110.8 L234.0,110.8 L234.0,136.3Z" fill="#e6741f"/>
<g fill="#fff" opacity="0.85"><circle cx="225.0" cy="110.9" r="0.42"/><circle cx="229.7" cy="110.8" r="0.42"/><circle cx="224.9" cy="109.7" r="0.42"/><circle cx="222.7" cy="113.9" r="0.42"/><circle cx="230.4" cy="117.8" r="0.42"/><circle cx="230.3" cy="117.4" r="0.42"/><circle cx="228.6" cy="112.3" r="0.42"/><circle cx="231.6" cy="122.6" r="0.42"/><circle cx="229.6" cy="116.2" r="0.42"/><circle cx="223.1" cy="114.2" r="0.42"/><circle cx="233.1" cy="120.7" r="0.42"/><circle cx="223.5" cy="108.9" r="0.42"/><circle cx="223.2" cy="109.7" r="0.42"/><circle cx="228.7" cy="115.3" r="0.42"/><circle cx="229.0" cy="112.7" r="0.42"/><circle cx="224.7" cy="105.6" r="0.42"/><circle cx="231.2" cy="114.2" r="0.42"/></g>
<g fill="#e6741f"><circle cx="227.9" cy="100.6" r="1.3"/><circle cx="232.0" cy="99.7" r="1.3"/><circle cx="221.1" cy="106.4" r="1.3"/><circle cx="223.0" cy="102.1" r="1.3"/><circle cx="225.2" cy="98.6" r="1.3"/><circle cx="226.3" cy="100.7" r="1.3"/><circle cx="230.2" cy="97.6" r="1.3"/><circle cx="224.1" cy="103.5" r="1.3"/><circle cx="232.2" cy="97.6" r="1.3"/><circle cx="232.2" cy="99.9" r="1.3"/><circle cx="226.5" cy="104.4" r="1.3"/><circle cx="232.8" cy="99.8" r="1.3"/><circle cx="221.4" cy="109.8" r="1.3"/><circle cx="223.0" cy="104.8" r="1.3"/><circle cx="224.6" cy="100.6" r="1.3"/><circle cx="226.2" cy="103.2" r="1.3"/><circle cx="227.8" cy="105.1" r="1.3"/><circle cx="229.4" cy="107.9" r="1.3"/><circle cx="231.0" cy="109.2" r="1.3"/><circle cx="232.6" cy="110.4" r="1.3"/></g>
<path d="M235.8,136.3 L235.8,112.6 L236.4,112.6 L237.2,115.9 L238.0,117.3 L238.8,115.3 L239.6,113.5 L240.4,114.4 L241.1,116.5 L241.9,116.9 L242.7,113.7 L243.5,112.1 L244.3,115.6 L245.1,116.8 L245.7,116.8 L245.7,136.3Z" fill="#2e296e"/>
<g fill="#fff" opacity="0.85"><circle cx="238.6" cy="119.1" r="0.42"/><circle cx="239.8" cy="119.4" r="0.42"/><circle cx="239.5" cy="117.5" r="0.42"/><circle cx="241.1" cy="124.4" r="0.42"/><circle cx="238.5" cy="124.5" r="0.42"/><circle cx="240.6" cy="123.2" r="0.42"/><circle cx="237.0" cy="126.0" r="0.42"/><circle cx="237.3" cy="122.6" r="0.42"/><circle cx="241.7" cy="128.1" r="0.42"/><circle cx="244.4" cy="126.5" r="0.42"/><circle cx="242.3" cy="119.7" r="0.42"/><circle cx="240.3" cy="126.4" r="0.42"/></g>
<g fill="#2e296e"><circle cx="243.0" cy="112.0" r="1.3"/><circle cx="245.3" cy="111.2" r="1.3"/><circle cx="236.4" cy="110.7" r="1.3"/><circle cx="236.9" cy="114.3" r="1.3"/><circle cx="238.2" cy="117.9" r="1.3"/><circle cx="241.1" cy="108.6" r="1.3"/><circle cx="242.2" cy="116.3" r="1.3"/><circle cx="237.4" cy="111.2" r="1.3"/><circle cx="237.4" cy="108.6" r="1.3"/><circle cx="237.5" cy="106.0" r="1.3"/><circle cx="237.3" cy="103.4" r="1.3"/><circle cx="242.2" cy="97.6" r="1.3"/><circle cx="243.0" cy="97.9" r="1.3"/><circle cx="241.1" cy="103.6" r="1.3"/><circle cx="240.2" cy="108.1" r="1.3"/><circle cx="243.6" cy="103.6" r="1.3"/><circle cx="240.4" cy="101.5" r="1.3"/><circle cx="236.4" cy="113.0" r="1.3"/><circle cx="238.0" cy="117.7" r="1.3"/><circle cx="239.6" cy="113.9" r="1.3"/><circle cx="241.1" cy="116.9" r="1.3"/><circle cx="242.7" cy="114.1" r="1.3"/><circle cx="244.3" cy="116.0" r="1.3"/></g>
<path d="M247.0,136.3 L247.0,99.8 L247.6,99.8 L248.4,102.5 L249.3,107.7 L250.1,109.6 L250.9,107.7 L251.7,106.1 L252.6,103.6 L253.4,101.7 L254.2,102.5 L255.0,103.4 L255.9,105.9 L256.7,109.1 L257.3,109.1 L257.3,136.3Z" fill="#e6741f"/>
<g fill="#fff" opacity="0.85"><circle cx="248.9" cy="117.6" r="0.42"/><circle cx="251.1" cy="111.7" r="0.42"/><circle cx="247.8" cy="110.4" r="0.42"/><circle cx="251.2" cy="114.7" r="0.42"/><circle cx="250.1" cy="116.2" r="0.42"/><circle cx="249.1" cy="110.9" r="0.42"/><circle cx="251.8" cy="112.9" r="0.42"/><circle cx="250.5" cy="118.7" r="0.42"/><circle cx="250.3" cy="121.4" r="0.42"/><circle cx="256.0" cy="110.0" r="0.42"/><circle cx="248.4" cy="112.0" r="0.42"/><circle cx="250.2" cy="118.4" r="0.42"/><circle cx="254.6" cy="114.3" r="0.42"/></g>
<g fill="#e6741f"><circle cx="255.9" cy="92.3" r="1.3"/><circle cx="247.6" cy="98.5" r="1.3"/><circle cx="250.1" cy="106.6" r="1.3"/><circle cx="251.0" cy="98.7" r="1.3"/><circle cx="251.6" cy="104.6" r="1.3"/><circle cx="252.4" cy="104.7" r="1.3"/><circle cx="254.1" cy="104.1" r="1.3"/><circle cx="256.7" cy="106.0" r="1.3"/><circle cx="252.2" cy="84.5" r="1.3"/><circle cx="252.5" cy="87.0" r="1.3"/><circle cx="252.8" cy="89.5" r="1.3"/><circle cx="252.4" cy="102.7" r="1.3"/><circle cx="252.1" cy="100.4" r="1.3"/><circle cx="252.2" cy="98.2" r="1.3"/><circle cx="252.2" cy="95.9" r="1.3"/><circle cx="252.1" cy="93.7" r="1.3"/><circle cx="252.3" cy="101.7" r="1.3"/><circle cx="251.9" cy="99.8" r="1.3"/><circle cx="254.3" cy="95.9" r="1.3"/><circle cx="253.6" cy="88.4" r="1.3"/><circle cx="248.4" cy="90.1" r="1.3"/><circle cx="251.0" cy="92.5" r="1.3"/><circle cx="247.6" cy="100.2" r="1.3"/><circle cx="249.3" cy="108.1" r="1.3"/><circle cx="250.9" cy="108.1" r="1.3"/><circle cx="252.6" cy="104.0" r="1.3"/><circle cx="254.2" cy="102.9" r="1.3"/><circle cx="255.9" cy="106.3" r="1.3"/></g>
<path d="M258.5,136.3 L258.5,115.6 L259.1,115.6 L259.9,115.2 L260.7,115.6 L261.5,116.1 L262.3,115.8 L263.1,114.1 L263.9,112.6 L264.7,113.0 L265.5,112.4 L266.3,110.9 L267.1,111.4 L267.9,111.7 L268.5,111.7 L268.5,136.3Z" fill="#2e296e"/>
<g fill="#fff" opacity="0.85"><circle cx="262.6" cy="123.8" r="0.42"/><circle cx="261.7" cy="119.9" r="0.42"/><circle cx="264.4" cy="116.2" r="0.42"/><circle cx="263.0" cy="126.7" r="0.42"/><circle cx="263.6" cy="120.5" r="0.42"/><circle cx="263.5" cy="121.3" r="0.42"/><circle cx="259.5" cy="123.1" r="0.42"/><circle cx="261.0" cy="122.4" r="0.42"/><circle cx="264.0" cy="117.7" r="0.42"/><circle cx="262.8" cy="126.3" r="0.42"/><circle cx="264.8" cy="121.9" r="0.42"/><circle cx="267.2" cy="122.5" r="0.42"/><circle cx="264.2" cy="117.2" r="0.42"/></g>
<g fill="#2e296e"><circle cx="265.5" cy="99.9" r="1.3"/><circle cx="267.8" cy="106.8" r="1.3"/><circle cx="258.9" cy="113.5" r="1.3"/><circle cx="259.7" cy="109.1" r="1.3"/><circle cx="263.0" cy="112.3" r="1.3"/><circle cx="264.2" cy="109.1" r="1.3"/><circle cx="264.1" cy="109.3" r="1.3"/><circle cx="264.2" cy="106.8" r="1.3"/><circle cx="264.1" cy="104.4" r="1.3"/><circle cx="264.5" cy="101.9" r="1.3"/><circle cx="263.9" cy="99.5" r="1.3"/><circle cx="264.5" cy="97.0" r="1.3"/><circle cx="261.8" cy="109.3" r="1.3"/><circle cx="261.4" cy="107.0" r="1.3"/><circle cx="261.1" cy="104.8" r="1.3"/><circle cx="261.4" cy="102.5" r="1.3"/><circle cx="261.9" cy="100.2" r="1.3"/><circle cx="265.1" cy="92.7" r="1.3"/><circle cx="267.6" cy="107.4" r="1.3"/><circle cx="261.6" cy="103.4" r="1.3"/><circle cx="263.6" cy="107.9" r="1.3"/><circle cx="267.6" cy="108.9" r="1.3"/><circle cx="262.9" cy="99.1" r="1.3"/><circle cx="259.1" cy="116.0" r="1.3"/><circle cx="260.7" cy="116.0" r="1.3"/><circle cx="262.3" cy="116.2" r="1.3"/><circle cx="263.9" cy="113.0" r="1.3"/><circle cx="265.5" cy="112.8" r="1.3"/><circle cx="267.1" cy="111.8" r="1.3"/></g>
<path d="M269.5,136.3 L269.5,109.2 L270.1,109.2 L270.9,106.1 L271.6,107.7 L272.4,110.0 L273.2,111.1 L273.9,112.8 L274.7,112.3 L275.5,109.6 L276.3,108.4 L277.0,108.2 L277.8,106.3 L278.4,106.3 L278.4,136.3Z" fill="#e6741f"/>
<g fill="#fff" opacity="0.85"><circle cx="276.9" cy="112.6" r="0.42"/><circle cx="275.1" cy="122.3" r="0.42"/><circle cx="273.3" cy="121.0" r="0.42"/><circle cx="275.0" cy="123.3" r="0.42"/><circle cx="270.9" cy="109.1" r="0.42"/><circle cx="272.2" cy="121.8" r="0.42"/><circle cx="274.9" cy="124.1" r="0.42"/><circle cx="274.5" cy="117.9" r="0.42"/><circle cx="273.5" cy="119.6" r="0.42"/><circle cx="275.8" cy="112.5" r="0.42"/><circle cx="273.7" cy="123.6" r="0.42"/></g>
<g fill="#e6741f"><circle cx="270.2" cy="108.1" r="1.3"/><circle cx="271.9" cy="106.1" r="1.3"/><circle cx="273.2" cy="108.9" r="1.3"/><circle cx="273.8" cy="112.5" r="1.3"/><circle cx="274.7" cy="112.2" r="1.3"/><circle cx="275.3" cy="105.2" r="1.3"/><circle cx="277.3" cy="109.6" r="1.3"/><circle cx="277.7" cy="102.4" r="1.3"/><circle cx="273.5" cy="81.1" r="1.3"/><circle cx="274.0" cy="87.9" r="1.3"/><circle cx="272.7" cy="81.7" r="1.3"/><circle cx="272.8" cy="84.3" r="1.3"/><circle cx="273.8" cy="99.7" r="1.3"/><circle cx="274.9" cy="98.7" r="1.3"/><circle cx="276.5" cy="105.8" r="1.3"/><circle cx="270.9" cy="107.3" r="1.3"/><circle cx="277.3" cy="81.1" r="1.3"/><circle cx="272.1" cy="99.5" r="1.3"/><circle cx="270.1" cy="109.6" r="1.3"/><circle cx="271.6" cy="108.1" r="1.3"/><circle cx="273.2" cy="111.5" r="1.3"/><circle cx="274.7" cy="112.7" r="1.3"/><circle cx="276.3" cy="108.8" r="1.3"/><circle cx="277.8" cy="106.7" r="1.3"/></g>
<path d="M279.5,136.3 L279.5,106.0 L280.1,106.0 L280.9,105.0 L281.7,105.0 L282.5,105.3 L283.3,106.5 L284.1,108.0 L284.9,107.5 L285.7,104.1 L286.5,100.8 L287.3,100.7 L287.9,100.7 L287.9,136.3Z" fill="#2e296e"/>
<g fill="#fff" opacity="0.85"><circle cx="282.9" cy="111.9" r="0.42"/><circle cx="285.1" cy="110.9" r="0.42"/><circle cx="282.0" cy="113.9" r="0.42"/><circle cx="285.6" cy="107.9" r="0.42"/><circle cx="284.3" cy="114.2" r="0.42"/><circle cx="281.8" cy="110.9" r="0.42"/><circle cx="281.9" cy="116.7" r="0.42"/><circle cx="285.7" cy="111.1" r="0.42"/><circle cx="286.6" cy="103.7" r="0.42"/><circle cx="286.7" cy="108.3" r="0.42"/></g>
<g fill="#2e296e"><circle cx="281.5" cy="91.3" r="1.3"/><circle cx="283.0" cy="95.4" r="1.3"/><circle cx="285.4" cy="94.9" r="1.3"/><circle cx="286.5" cy="96.2" r="1.3"/><circle cx="280.1" cy="102.7" r="1.3"/><circle cx="284.1" cy="108.2" r="1.3"/><circle cx="287.1" cy="100.0" r="1.3"/><circle cx="286.0" cy="91.3" r="1.3"/><circle cx="280.5" cy="97.9" r="1.3"/><circle cx="284.4" cy="99.4" r="1.3"/><circle cx="283.5" cy="101.0" r="1.3"/><circle cx="285.1" cy="93.6" r="1.3"/><circle cx="280.1" cy="106.4" r="1.3"/><circle cx="281.7" cy="105.4" r="1.3"/><circle cx="283.3" cy="106.9" r="1.3"/><circle cx="284.9" cy="107.9" r="1.3"/><circle cx="286.5" cy="101.2" r="1.3"/></g>
<path d="M289.0,136.3 L289.0,116.2 L289.6,116.2 L290.4,117.0 L291.2,116.7 L292.0,114.4 L292.8,112.4 L293.6,113.9 L294.4,114.7 L295.2,113.4 L296.0,116.1 L296.6,116.1 L296.6,136.3Z" fill="#e6741f"/>
<g fill="#fff" opacity="0.85"><circle cx="290.0" cy="122.6" r="0.42"/><circle cx="291.8" cy="127.4" r="0.42"/><circle cx="295.3" cy="121.5" r="0.42"/><circle cx="290.2" cy="124.5" r="0.42"/><circle cx="295.2" cy="124.1" r="0.42"/><circle cx="295.4" cy="117.6" r="0.42"/><circle cx="295.6" cy="120.4" r="0.42"/><circle cx="293.6" cy="119.6" r="0.42"/><circle cx="295.6" cy="119.7" r="0.42"/></g>
<g fill="#e6741f"><circle cx="290.6" cy="107.3" r="1.3"/><circle cx="292.3" cy="111.1" r="1.3"/><circle cx="289.4" cy="115.2" r="1.3"/><circle cx="294.3" cy="117.8" r="1.3"/><circle cx="296.0" cy="111.3" r="1.3"/><circle cx="295.0" cy="107.3" r="1.3"/><circle cx="292.9" cy="110.6" r="1.3"/><circle cx="294.4" cy="111.3" r="1.3"/><circle cx="293.2" cy="113.3" r="1.3"/><circle cx="289.6" cy="116.6" r="1.3"/><circle cx="291.2" cy="117.1" r="1.3"/><circle cx="292.8" cy="112.8" r="1.3"/><circle cx="294.4" cy="115.1" r="1.3"/><circle cx="296.0" cy="116.5" r="1.3"/></g>
<path d="M297.6,136.3 L297.6,109.1 L298.2,109.1 L299.0,108.3 L299.8,103.9 L300.6,101.2 L301.4,101.1 L302.2,100.7 L303.0,101.5 L303.8,104.4 L304.6,104.0 L305.2,104.0 L305.2,136.3Z" fill="#2e296e"/>
<g fill="#fff" opacity="0.85"><circle cx="300.2" cy="112.1" r="0.42"/><circle cx="299.8" cy="116.4" r="0.42"/><circle cx="300.2" cy="110.9" r="0.42"/><circle cx="303.8" cy="115.7" r="0.42"/><circle cx="302.0" cy="103.1" r="0.42"/><circle cx="301.3" cy="105.7" r="0.42"/><circle cx="300.5" cy="109.0" r="0.42"/><circle cx="300.8" cy="109.0" r="0.42"/><circle cx="302.4" cy="106.6" r="0.42"/></g>
<g fill="#2e296e"><circle cx="298.8" cy="101.5" r="1.3"/><circle cx="302.9" cy="88.2" r="1.3"/><circle cx="303.7" cy="103.0" r="1.3"/><circle cx="298.4" cy="102.7" r="1.3"/><circle cx="300.0" cy="93.8" r="1.3"/><circle cx="300.9" cy="100.1" r="1.3"/><circle cx="304.8" cy="98.4" r="1.3"/><circle cx="304.0" cy="79.3" r="1.3"/><circle cx="304.0" cy="81.7" r="1.3"/><circle cx="304.0" cy="84.0" r="1.3"/><circle cx="303.8" cy="104.3" r="1.3"/><circle cx="304.2" cy="103.0" r="1.3"/><circle cx="303.7" cy="101.7" r="1.3"/><circle cx="304.0" cy="100.4" r="1.3"/><circle cx="303.7" cy="99.1" r="1.3"/><circle cx="303.8" cy="97.8" r="1.3"/><circle cx="303.9" cy="96.5" r="1.3"/><circle cx="303.9" cy="95.2" r="1.3"/><circle cx="304.2" cy="93.9" r="1.3"/><circle cx="302.4" cy="103.3" r="1.3"/><circle cx="304.0" cy="96.6" r="1.3"/><circle cx="301.8" cy="104.3" r="1.3"/><circle cx="300.0" cy="103.5" r="1.3"/><circle cx="302.0" cy="89.3" r="1.3"/><circle cx="300.3" cy="89.4" r="1.3"/><circle cx="298.2" cy="109.5" r="1.3"/><circle cx="299.8" cy="104.3" r="1.3"/><circle cx="301.4" cy="101.5" r="1.3"/><circle cx="303.0" cy="101.9" r="1.3"/><circle cx="304.6" cy="104.4" r="1.3"/></g>
<path d="M306.0,136.3 L306.0,113.6 L306.6,113.6 L307.4,111.4 L308.1,111.6 L308.9,110.0 L309.7,104.9 L310.5,103.1 L311.2,106.2 L312.0,110.2 L312.8,111.2 L313.4,111.2 L313.4,136.3Z" fill="#e6741f"/>
<g fill="#fff" opacity="0.85"><circle cx="312.1" cy="115.7" r="0.42"/><circle cx="310.3" cy="112.2" r="0.42"/><circle cx="308.2" cy="117.5" r="0.42"/><circle cx="308.5" cy="120.7" r="0.42"/><circle cx="310.3" cy="113.1" r="0.42"/><circle cx="310.5" cy="114.0" r="0.42"/><circle cx="312.6" cy="120.2" r="0.42"/><circle cx="309.1" cy="120.3" r="0.42"/><circle cx="310.1" cy="109.9" r="0.42"/></g>
<g fill="#e6741f"><circle cx="310.6" cy="102.7" r="1.3"/><circle cx="309.7" cy="99.9" r="1.3"/><circle cx="311.3" cy="101.9" r="1.3"/><circle cx="311.9" cy="112.4" r="1.3"/><circle cx="312.7" cy="109.1" r="1.3"/><circle cx="308.6" cy="97.6" r="1.3"/><circle cx="311.4" cy="102.0" r="1.3"/><circle cx="308.6" cy="103.8" r="1.3"/><circle cx="310.4" cy="107.5" r="1.3"/><circle cx="311.4" cy="104.2" r="1.3"/><circle cx="306.6" cy="114.0" r="1.3"/><circle cx="308.1" cy="112.0" r="1.3"/><circle cx="309.7" cy="105.3" r="1.3"/><circle cx="311.2" cy="106.6" r="1.3"/><circle cx="312.8" cy="111.6" r="1.3"/></g>
<path d="M314.4,136.3 L314.4,113.3 L315.0,113.3 L315.8,112.2 L316.6,111.9 L317.4,111.5 L318.2,111.3 L319.0,113.2 L319.6,113.2 L319.6,136.3Z" fill="#2e296e"/>
<g fill="#fff" opacity="0.85"><circle cx="317.0" cy="122.3" r="0.42"/><circle cx="317.7" cy="120.8" r="0.42"/><circle cx="317.5" cy="113.7" r="0.42"/><circle cx="317.1" cy="118.3" r="0.42"/><circle cx="316.8" cy="120.5" r="0.42"/><circle cx="318.2" cy="121.8" r="0.42"/></g>
<g fill="#2e296e"><circle cx="314.8" cy="105.8" r="1.3"/><circle cx="316.5" cy="106.6" r="1.3"/><circle cx="317.5" cy="109.5" r="1.3"/><circle cx="318.4" cy="108.4" r="1.3"/><circle cx="316.3" cy="104.5" r="1.3"/><circle cx="317.9" cy="107.5" r="1.3"/><circle cx="315.6" cy="105.5" r="1.3"/><circle cx="317.5" cy="104.6" r="1.3"/><circle cx="315.0" cy="113.7" r="1.3"/><circle cx="316.6" cy="112.3" r="1.3"/><circle cx="318.2" cy="111.7" r="1.3"/></g>
<path d="M321.4,136.3 L321.4,110.8 L322.0,110.8 L322.7,108.9 L323.5,106.9 L324.2,105.8 L325.0,107.8 L325.7,111.7 L326.3,111.7 L326.3,136.3Z" fill="#e6741f"/>
<g fill="#fff" opacity="0.85"><circle cx="323.3" cy="118.1" r="0.42"/><circle cx="325.4" cy="115.6" r="0.42"/><circle cx="325.3" cy="115.8" r="0.42"/><circle cx="322.3" cy="116.0" r="0.42"/><circle cx="322.3" cy="116.4" r="0.42"/><circle cx="323.9" cy="114.4" r="0.42"/></g>
<g fill="#e6741f"><circle cx="322.3" cy="110.9" r="1.3"/><circle cx="323.4" cy="106.9" r="1.3"/><circle cx="324.1" cy="94.8" r="1.3"/><circle cx="325.3" cy="98.0" r="1.3"/><circle cx="322.5" cy="104.3" r="1.3"/><circle cx="324.3" cy="101.0" r="1.3"/><circle cx="325.3" cy="106.4" r="1.3"/><circle cx="323.8" cy="108.9" r="1.3"/><circle cx="322.0" cy="111.2" r="1.3"/><circle cx="323.5" cy="107.3" r="1.3"/><circle cx="325.0" cy="108.2" r="1.3"/></g>
<line x1="370.2" y1="8.8" x2="370.2" y2="135.1" stroke="#9a9a9a" stroke-width="1.5"/>
<line x1="367.4" y1="135.1" x2="370.2" y2="135.1" stroke="#9a9a9a" stroke-width="0.9"/>
<text transform="translate(365.3,137.2) scale(0.9,1)" font-size="6.0" text-anchor="end" font-weight="bold" fill="#111" stroke="#111" stroke-width="0.35">0</text>
<line x1="367.4" y1="107.3" x2="370.2" y2="107.3" stroke="#9a9a9a" stroke-width="0.9"/>
<text transform="translate(365.3,109.4) scale(0.9,1)" font-size="6.0" text-anchor="end" font-weight="bold" fill="#111" stroke="#111" stroke-width="0.35">2</text>
<line x1="367.4" y1="79.5" x2="370.2" y2="79.5" stroke="#9a9a9a" stroke-width="0.9"/>
<text transform="translate(365.3,81.6) scale(0.9,1)" font-size="6.0" text-anchor="end" font-weight="bold" fill="#111" stroke="#111" stroke-width="0.35">4</text>
<line x1="367.4" y1="51.7" x2="370.2" y2="51.7" stroke="#9a9a9a" stroke-width="0.9"/>
<text transform="translate(365.3,53.8) scale(0.9,1)" font-size="6.0" text-anchor="end" font-weight="bold" fill="#111" stroke="#111" stroke-width="0.35">6</text>
<line x1="367.4" y1="23.9" x2="370.2" y2="23.9" stroke="#9a9a9a" stroke-width="0.9"/>
<text transform="translate(365.3,26.0) scale(0.9,1)" font-size="6.0" text-anchor="end" font-weight="bold" fill="#111" stroke="#111" stroke-width="0.35">8</text>
<line x1="371.2" y1="79.1" x2="683.0" y2="79.1" stroke="#f9d6cc" stroke-width="2.2"/>
<line x1="370.2" y1="140.0" x2="683.0" y2="140.0" stroke="#b4b4b4" stroke-width="1.1"/>
<line x1="370.5" y1="140.0" x2="370.5" y2="142.6" stroke="#666" stroke-width="0.9"/>
<text transform="translate(370.2,150.2) scale(0.85,1)" font-size="6.0" text-anchor="middle" font-weight="bold" fill="#111" stroke="#111" stroke-width="0.35">Chr</text>
<line x1="383.1" y1="140.0" x2="383.1" y2="142.6" stroke="#666" stroke-width="0.9"/>
<text transform="translate(383.1,150.2) scale(0.85,1)" font-size="6.0" text-anchor="middle" font-weight="bold" fill="#111" stroke="#111" stroke-width="0.35">1</text>
<line x1="407.9" y1="140.0" x2="407.9" y2="142.6" stroke="#666" stroke-width="0.9"/>
<text transform="translate(407.9,150.2) scale(0.85,1)" font-size="6.0" text-anchor="middle" font-weight="bold" fill="#111" stroke="#111" stroke-width="0.35">2</text>
<line x1="430.2" y1="140.0" x2="430.2" y2="142.6" stroke="#666" stroke-width="0.9"/>
<text transform="translate(430.2,150.2) scale(0.85,1)" font-size="6.0" text-anchor="middle" font-weight="bold" fill="#111" stroke="#111" stroke-width="0.35">3</text>
<line x1="449.9" y1="140.0" x2="449.9" y2="142.6" stroke="#666" stroke-width="0.9"/>
<text transform="translate(449.9,150.2) scale(0.85,1)" font-size="6.0" text-anchor="middle" font-weight="bold" fill="#111" stroke="#111" stroke-width="0.35">4</text>
<line x1="468.8" y1="140.0" x2="468.8" y2="142.6" stroke="#666" stroke-width="0.9"/>
<text transform="translate(468.8,150.2) scale(0.85,1)" font-size="6.0" text-anchor="middle" font-weight="bold" fill="#111" stroke="#111" stroke-width="0.35">5</text>
<line x1="487.2" y1="140.0" x2="487.2" y2="142.6" stroke="#666" stroke-width="0.9"/>
<text transform="translate(487.2,150.2) scale(0.85,1)" font-size="6.0" text-anchor="middle" font-weight="bold" fill="#111" stroke="#111" stroke-width="0.35">6</text>
<line x1="504.2" y1="140.0" x2="504.2" y2="142.6" stroke="#666" stroke-width="0.9"/>
<text transform="translate(504.2,150.2) scale(0.85,1)" font-size="6.0" text-anchor="middle" font-weight="bold" fill="#111" stroke="#111" stroke-width="0.35">7</text>
<line x1="520.2" y1="140.0" x2="520.2" y2="142.6" stroke="#666" stroke-width="0.9"/>
<text transform="translate(520.2,150.2) scale(0.85,1)" font-size="6.0" text-anchor="middle" font-weight="bold" fill="#111" stroke="#111" stroke-width="0.35">8</text>
<line x1="535.4" y1="140.0" x2="535.4" y2="142.6" stroke="#666" stroke-width="0.9"/>
<text transform="translate(535.4,150.2) scale(0.85,1)" font-size="6.0" text-anchor="middle" font-weight="bold" fill="#111" stroke="#111" stroke-width="0.35">9</text>
<line x1="550.2" y1="140.0" x2="550.2" y2="142.6" stroke="#666" stroke-width="0.9"/>
<text transform="translate(550.2,150.2) scale(0.85,1)" font-size="6.0" text-anchor="middle" font-weight="bold" fill="#111" stroke="#111" stroke-width="0.35">10</text>
<line x1="564.6" y1="140.0" x2="564.6" y2="142.6" stroke="#666" stroke-width="0.9"/>
<text transform="translate(564.6,150.2) scale(0.85,1)" font-size="6.0" text-anchor="middle" font-weight="bold" fill="#111" stroke="#111" stroke-width="0.35">11</text>
<line x1="579.6" y1="140.0" x2="579.6" y2="142.6" stroke="#666" stroke-width="0.9"/>
<text transform="translate(579.6,150.2) scale(0.85,1)" font-size="6.0" text-anchor="middle" font-weight="bold" fill="#111" stroke="#111" stroke-width="0.35">12</text>
<line x1="593.6" y1="140.0" x2="593.6" y2="142.6" stroke="#666" stroke-width="0.9"/>
<text transform="translate(593.6,150.2) scale(0.85,1)" font-size="6.0" text-anchor="middle" font-weight="bold" fill="#111" stroke="#111" stroke-width="0.35">13</text>
<line x1="605.5" y1="140.0" x2="605.5" y2="142.6" stroke="#666" stroke-width="0.9"/>
<text transform="translate(605.5,150.2) scale(0.85,1)" font-size="6.0" text-anchor="middle" font-weight="bold" fill="#111" stroke="#111" stroke-width="0.35">14</text>
<line x1="617.4" y1="140.0" x2="617.4" y2="142.6" stroke="#666" stroke-width="0.9"/>
<text transform="translate(617.4,150.2) scale(0.85,1)" font-size="6.0" text-anchor="middle" font-weight="bold" fill="#111" stroke="#111" stroke-width="0.35">15</text>
<line x1="628.3" y1="140.0" x2="628.3" y2="142.6" stroke="#666" stroke-width="0.9"/>
<text transform="translate(628.3,150.2) scale(0.85,1)" font-size="6.0" text-anchor="middle" font-weight="bold" fill="#111" stroke="#111" stroke-width="0.35">16</text>
<line x1="638.5" y1="140.0" x2="638.5" y2="142.6" stroke="#666" stroke-width="0.9"/>
<line x1="648.0" y1="140.0" x2="648.0" y2="142.6" stroke="#666" stroke-width="0.9"/>
<text transform="translate(648.0,150.2) scale(0.85,1)" font-size="6.0" text-anchor="middle" font-weight="bold" fill="#111" stroke="#111" stroke-width="0.35">18</text>
<line x1="657.0" y1="140.0" x2="657.0" y2="142.6" stroke="#666" stroke-width="0.9"/>
<line x1="665.6" y1="140.0" x2="665.6" y2="142.6" stroke="#666" stroke-width="0.9"/>
<text transform="translate(665.6,150.2) scale(0.85,1)" font-size="6.0" text-anchor="middle" font-weight="bold" fill="#111" stroke="#111" stroke-width="0.35">20</text>
<line x1="673.3" y1="140.0" x2="673.3" y2="142.6" stroke="#666" stroke-width="0.9"/>
<line x1="680.4" y1="140.0" x2="680.4" y2="142.6" stroke="#666" stroke-width="0.9"/>
<text transform="translate(680.4,150.2) scale(0.85,1)" font-size="6.0" text-anchor="middle" font-weight="bold" fill="#111" stroke="#111" stroke-width="0.35">22</text>
<path d="M371.7,136.3 L371.7,102.4 L372.3,102.4 L373.1,107.1 L373.9,110.4 L374.7,111.2 L375.5,111.8 L376.3,111.0 L377.1,109.9 L377.9,108.4 L378.7,105.8 L379.5,104.9 L380.3,107.0 L381.1,108.3 L381.9,107.3 L382.7,108.6 L383.5,110.1 L384.4,108.9 L385.2,109.0 L386.0,109.3 L386.8,106.7 L387.6,104.3 L388.4,102.1 L389.2,103.2 L390.0,108.6 L390.8,111.5 L391.6,110.6 L392.4,108.2 L393.2,108.0 L394.0,110.2 L394.6,110.2 L394.6,136.3Z" fill="#2e296e"/>
<g fill="#fff" opacity="0.85"><circle cx="373.5" cy="113.2" r="0.42"/><circle cx="379.2" cy="112.3" r="0.42"/><circle cx="385.2" cy="112.8" r="0.42"/><circle cx="383.9" cy="114.9" r="0.42"/><circle cx="388.4" cy="111.1" r="0.42"/><circle cx="385.4" cy="115.4" r="0.42"/><circle cx="382.9" cy="112.8" r="0.42"/><circle cx="381.3" cy="112.7" r="0.42"/><circle cx="379.7" cy="110.0" r="0.42"/><circle cx="390.6" cy="113.7" r="0.42"/><circle cx="380.6" cy="119.3" r="0.42"/><circle cx="383.6" cy="120.6" r="0.42"/><circle cx="378.7" cy="111.6" r="0.42"/><circle cx="383.7" cy="114.1" r="0.42"/><circle cx="376.7" cy="118.7" r="0.42"/><circle cx="379.1" cy="113.9" r="0.42"/><circle cx="378.5" cy="113.4" r="0.42"/><circle cx="381.0" cy="114.6" r="0.42"/><circle cx="387.9" cy="109.1" r="0.42"/><circle cx="384.4" cy="112.9" r="0.42"/><circle cx="372.6" cy="111.8" r="0.42"/><circle cx="373.8" cy="114.3" r="0.42"/><circle cx="393.8" cy="114.6" r="0.42"/><circle cx="378.7" cy="112.5" r="0.42"/><circle cx="375.7" cy="114.7" r="0.42"/><circle cx="390.6" cy="120.5" r="0.42"/><circle cx="380.0" cy="111.8" r="0.42"/><circle cx="383.7" cy="120.2" r="0.42"/><circle cx="381.1" cy="112.3" r="0.42"/></g>
<g fill="#2e296e"><circle cx="372.8" cy="99.4" r="1.3"/><circle cx="374.6" cy="94.3" r="1.3"/><circle cx="388.9" cy="91.6" r="1.3"/><circle cx="372.2" cy="97.6" r="1.3"/><circle cx="377.3" cy="95.6" r="1.3"/><circle cx="378.0" cy="106.8" r="1.3"/><circle cx="378.5" cy="99.1" r="1.3"/><circle cx="379.5" cy="100.4" r="1.3"/><circle cx="383.7" cy="106.3" r="1.3"/><circle cx="384.9" cy="105.5" r="1.3"/><circle cx="386.0" cy="114.0" r="1.3"/><circle cx="386.6" cy="91.3" r="1.3"/><circle cx="387.9" cy="101.6" r="1.3"/><circle cx="390.7" cy="110.6" r="1.3"/><circle cx="391.5" cy="99.9" r="1.3"/><circle cx="380.5" cy="80.7" r="1.3"/><circle cx="383.5" cy="81.0" r="1.3"/><circle cx="383.0" cy="84.5" r="1.3"/><circle cx="385.5" cy="87.4" r="1.3"/><circle cx="393.3" cy="104.2" r="1.3"/><circle cx="393.4" cy="101.4" r="1.3"/><circle cx="393.6" cy="98.6" r="1.3"/><circle cx="375.1" cy="102.5" r="1.3"/><circle cx="374.6" cy="103.2" r="1.3"/><circle cx="378.7" cy="100.4" r="1.3"/><circle cx="389.8" cy="90.2" r="1.3"/><circle cx="373.9" cy="105.2" r="1.3"/><circle cx="373.5" cy="105.3" r="1.3"/><circle cx="375.3" cy="86.4" r="1.3"/><circle cx="372.3" cy="102.8" r="1.3"/><circle cx="373.9" cy="110.8" r="1.3"/><circle cx="375.5" cy="112.2" r="1.3"/><circle cx="377.1" cy="110.3" r="1.3"/><circle cx="378.7" cy="106.2" r="1.3"/><circle cx="380.3" cy="107.4" r="1.3"/><circle cx="381.9" cy="107.7" r="1.3"/><circle cx="383.5" cy="110.5" r="1.3"/><circle cx="385.2" cy="109.4" r="1.3"/><circle cx="386.8" cy="107.1" r="1.3"/><circle cx="388.4" cy="102.5" r="1.3"/><circle cx="390.0" cy="109.0" r="1.3"/><circle cx="391.6" cy="111.0" r="1.3"/><circle cx="393.2" cy="108.4" r="1.3"/></g>
<path d="M396.3,136.3 L396.3,110.8 L396.9,110.8 L397.7,109.6 L398.4,108.7 L399.2,112.1 L400.0,115.7 L400.8,114.2 L401.6,111.6 L402.4,110.7 L403.2,108.3 L403.9,106.8 L404.7,107.0 L405.5,103.8 L406.3,102.5 L407.1,107.5 L407.9,113.1 L408.7,115.9 L409.4,115.4 L410.2,112.4 L411.0,109.6 L411.8,110.5 L412.6,113.0 L413.4,111.6 L414.2,109.9 L414.9,109.1 L415.7,106.1 L416.5,106.7 L417.3,113.1 L418.1,116.1 L418.9,113.9 L419.5,113.9 L419.5,136.3Z" fill="#e6741f"/>
<g fill="#fff" opacity="0.85"><circle cx="417.2" cy="123.1" r="0.42"/><circle cx="411.7" cy="118.5" r="0.42"/><circle cx="405.0" cy="114.3" r="0.42"/><circle cx="397.7" cy="119.0" r="0.42"/><circle cx="397.3" cy="119.5" r="0.42"/><circle cx="409.1" cy="123.9" r="0.42"/><circle cx="412.0" cy="119.1" r="0.42"/><circle cx="411.1" cy="121.0" r="0.42"/><circle cx="408.6" cy="127.2" r="0.42"/><circle cx="413.3" cy="115.0" r="0.42"/><circle cx="406.8" cy="109.7" r="0.42"/><circle cx="412.7" cy="122.5" r="0.42"/><circle cx="400.1" cy="127.4" r="0.42"/><circle cx="408.1" cy="122.2" r="0.42"/><circle cx="414.9" cy="119.3" r="0.42"/><circle cx="414.7" cy="113.7" r="0.42"/><circle cx="403.9" cy="110.0" r="0.42"/><circle cx="403.0" cy="113.4" r="0.42"/><circle cx="416.9" cy="113.4" r="0.42"/><circle cx="413.8" cy="116.0" r="0.42"/><circle cx="418.2" cy="126.7" r="0.42"/><circle cx="398.6" cy="116.6" r="0.42"/><circle cx="417.7" cy="125.3" r="0.42"/><circle cx="400.1" cy="120.9" r="0.42"/><circle cx="405.0" cy="117.8" r="0.42"/><circle cx="399.9" cy="119.8" r="0.42"/><circle cx="414.0" cy="112.8" r="0.42"/><circle cx="409.7" cy="119.3" r="0.42"/><circle cx="403.0" cy="114.5" r="0.42"/><circle cx="400.4" cy="122.9" r="0.42"/></g>
<g fill="#e6741f"><circle cx="396.7" cy="104.1" r="1.3"/><circle cx="403.4" cy="104.1" r="1.3"/><circle cx="415.1" cy="96.2" r="1.3"/><circle cx="398.4" cy="103.5" r="1.3"/><circle cx="399.2" cy="112.4" r="1.3"/><circle cx="401.0" cy="114.9" r="1.3"/><circle cx="401.3" cy="107.4" r="1.3"/><circle cx="402.1" cy="108.4" r="1.3"/><circle cx="404.6" cy="107.3" r="1.3"/><circle cx="406.1" cy="97.5" r="1.3"/><circle cx="407.3" cy="106.0" r="1.3"/><circle cx="408.6" cy="113.3" r="1.3"/><circle cx="410.4" cy="104.9" r="1.3"/><circle cx="411.8" cy="106.5" r="1.3"/><circle cx="413.1" cy="105.7" r="1.3"/><circle cx="414.0" cy="103.0" r="1.3"/><circle cx="415.8" cy="101.3" r="1.3"/><circle cx="417.9" cy="117.7" r="1.3"/><circle cx="418.6" cy="112.1" r="1.3"/><circle cx="404.9" cy="105.6" r="1.3"/><circle cx="405.5" cy="102.2" r="1.3"/><circle cx="414.9" cy="96.2" r="1.3"/><circle cx="412.0" cy="106.6" r="1.3"/><circle cx="407.0" cy="106.2" r="1.3"/><circle cx="418.6" cy="100.4" r="1.3"/><circle cx="398.4" cy="101.2" r="1.3"/><circle cx="396.9" cy="111.2" r="1.3"/><circle cx="398.4" cy="109.1" r="1.3"/><circle cx="400.0" cy="116.1" r="1.3"/><circle cx="401.6" cy="112.0" r="1.3"/><circle cx="403.2" cy="108.7" r="1.3"/><circle cx="404.7" cy="107.4" r="1.3"/><circle cx="406.3" cy="102.9" r="1.3"/><circle cx="407.9" cy="113.5" r="1.3"/><circle cx="409.4" cy="115.8" r="1.3"/><circle cx="411.0" cy="110.0" r="1.3"/><circle cx="412.6" cy="113.4" r="1.3"/><circle cx="414.2" cy="110.3" r="1.3"/><circle cx="415.7" cy="106.5" r="1.3"/><circle cx="417.3" cy="113.5" r="1.3"/><circle cx="418.9" cy="114.3" r="1.3"/></g>
<path d="M420.7,136.3 L420.7,111.1 L421.3,111.1 L422.1,107.8 L422.9,110.4 L423.8,111.6 L424.6,110.9 L425.4,114.0 L426.2,116.1 L427.0,113.6 L427.8,109.8 L428.6,107.0 L429.4,104.9 L430.2,104.6 L431.0,107.1 L431.9,108.6 L432.7,108.7 L433.5,109.8 L434.3,111.6 L435.1,113.8 L435.9,116.1 L436.7,117.7 L437.5,117.0 L438.3,116.7 L439.2,118.4 L439.8,118.4 L439.8,136.3Z" fill="#2e296e"/>
<g fill="#fff" opacity="0.85"><circle cx="429.6" cy="110.3" r="0.42"/><circle cx="435.7" cy="123.9" r="0.42"/><circle cx="436.3" cy="124.9" r="0.42"/><circle cx="436.4" cy="123.2" r="0.42"/><circle cx="433.8" cy="114.1" r="0.42"/><circle cx="429.6" cy="109.0" r="0.42"/><circle cx="431.8" cy="112.0" r="0.42"/><circle cx="426.8" cy="123.7" r="0.42"/><circle cx="428.4" cy="110.4" r="0.42"/><circle cx="432.7" cy="119.4" r="0.42"/><circle cx="435.1" cy="125.0" r="0.42"/><circle cx="426.4" cy="124.4" r="0.42"/><circle cx="430.5" cy="113.2" r="0.42"/><circle cx="438.8" cy="124.9" r="0.42"/><circle cx="432.4" cy="110.8" r="0.42"/><circle cx="430.1" cy="113.7" r="0.42"/><circle cx="436.9" cy="127.5" r="0.42"/><circle cx="433.3" cy="119.4" r="0.42"/><circle cx="431.7" cy="114.0" r="0.42"/><circle cx="428.7" cy="111.2" r="0.42"/><circle cx="429.9" cy="116.2" r="0.42"/><circle cx="427.6" cy="119.0" r="0.42"/><circle cx="425.4" cy="118.4" r="0.42"/><circle cx="428.6" cy="119.3" r="0.42"/></g>
<g fill="#2e296e"><circle cx="421.4" cy="110.9" r="1.3"/><circle cx="425.2" cy="106.0" r="1.3"/><circle cx="428.4" cy="94.1" r="1.3"/><circle cx="421.9" cy="101.7" r="1.3"/><circle cx="423.6" cy="107.4" r="1.3"/><circle cx="430.2" cy="96.8" r="1.3"/><circle cx="432.0" cy="108.1" r="1.3"/><circle cx="433.2" cy="105.8" r="1.3"/><circle cx="434.8" cy="110.0" r="1.3"/><circle cx="436.7" cy="117.2" r="1.3"/><circle cx="424.1" cy="110.1" r="1.3"/><circle cx="424.0" cy="107.4" r="1.3"/><circle cx="422.5" cy="110.1" r="1.3"/><circle cx="422.0" cy="107.7" r="1.3"/><circle cx="422.3" cy="105.4" r="1.3"/><circle cx="422.1" cy="103.0" r="1.3"/><circle cx="432.5" cy="94.1" r="1.3"/><circle cx="431.5" cy="95.0" r="1.3"/><circle cx="432.3" cy="110.3" r="1.3"/><circle cx="432.0" cy="96.3" r="1.3"/><circle cx="432.7" cy="103.6" r="1.3"/><circle cx="423.4" cy="97.0" r="1.3"/><circle cx="421.3" cy="111.5" r="1.3"/><circle cx="422.9" cy="110.8" r="1.3"/><circle cx="424.6" cy="111.3" r="1.3"/><circle cx="426.2" cy="116.5" r="1.3"/><circle cx="427.8" cy="110.2" r="1.3"/><circle cx="429.4" cy="105.3" r="1.3"/><circle cx="431.0" cy="107.5" r="1.3"/><circle cx="432.7" cy="109.1" r="1.3"/><circle cx="434.3" cy="112.0" r="1.3"/><circle cx="435.9" cy="116.5" r="1.3"/><circle cx="437.5" cy="117.4" r="1.3"/><circle cx="439.2" cy="118.8" r="1.3"/></g>
<path d="M441.0,136.3 L441.0,118.7 L441.6,118.7 L442.4,116.4 L443.2,114.2 L444.0,117.4 L444.8,120.9 L445.6,121.3 L446.3,120.7 L447.1,118.3 L447.9,116.1 L448.7,116.9 L449.5,119.7 L450.3,119.3 L451.1,117.7 L451.9,118.5 L452.7,118.3 L453.4,117.2 L454.2,118.6 L455.0,120.9 L455.8,116.8 L456.6,108.5 L457.4,107.5 L458.2,113.4 L458.8,113.4 L458.8,136.3Z" fill="#e6741f"/>
<g fill="#fff" opacity="0.85"><circle cx="454.7" cy="130.8" r="0.42"/><circle cx="454.3" cy="122.3" r="0.42"/><circle cx="447.2" cy="123.9" r="0.42"/><circle cx="455.4" cy="129.3" r="0.42"/><circle cx="447.0" cy="120.8" r="0.42"/><circle cx="456.5" cy="118.4" r="0.42"/><circle cx="451.5" cy="121.8" r="0.42"/><circle cx="444.9" cy="126.9" r="0.42"/><circle cx="443.0" cy="123.5" r="0.42"/><circle cx="446.2" cy="123.5" r="0.42"/><circle cx="447.1" cy="128.6" r="0.42"/><circle cx="443.2" cy="123.8" r="0.42"/><circle cx="447.9" cy="122.8" r="0.42"/><circle cx="443.8" cy="128.3" r="0.42"/><circle cx="452.2" cy="130.2" r="0.42"/><circle cx="453.9" cy="122.5" r="0.42"/><circle cx="443.7" cy="122.9" r="0.42"/><circle cx="454.0" cy="123.0" r="0.42"/><circle cx="444.5" cy="126.5" r="0.42"/><circle cx="447.3" cy="121.4" r="0.42"/><circle cx="455.1" cy="126.6" r="0.42"/><circle cx="447.4" cy="125.2" r="0.42"/></g>
<g fill="#e6741f"><circle cx="444.3" cy="111.9" r="1.3"/><circle cx="446.3" cy="116.7" r="1.3"/><circle cx="455.3" cy="122.4" r="1.3"/><circle cx="441.8" cy="109.1" r="1.3"/><circle cx="443.4" cy="106.9" r="1.3"/><circle cx="444.7" cy="119.4" r="1.3"/><circle cx="447.3" cy="116.0" r="1.3"/><circle cx="450.3" cy="118.7" r="1.3"/><circle cx="451.0" cy="110.1" r="1.3"/><circle cx="451.8" cy="123.6" r="1.3"/><circle cx="452.9" cy="113.5" r="1.3"/><circle cx="453.4" cy="115.8" r="1.3"/><circle cx="454.4" cy="112.9" r="1.3"/><circle cx="455.9" cy="115.6" r="1.3"/><circle cx="457.9" cy="110.4" r="1.3"/><circle cx="447.4" cy="114.6" r="1.3"/><circle cx="447.5" cy="111.7" r="1.3"/><circle cx="447.2" cy="108.7" r="1.3"/><circle cx="454.5" cy="114.6" r="1.3"/><circle cx="454.8" cy="112.0" r="1.3"/><circle cx="454.5" cy="109.4" r="1.3"/><circle cx="454.7" cy="106.8" r="1.3"/><circle cx="443.5" cy="101.0" r="1.3"/><circle cx="443.2" cy="109.6" r="1.3"/><circle cx="442.1" cy="114.7" r="1.3"/><circle cx="444.1" cy="112.5" r="1.3"/><circle cx="456.8" cy="112.4" r="1.3"/><circle cx="449.3" cy="111.9" r="1.3"/><circle cx="441.6" cy="119.1" r="1.3"/><circle cx="443.2" cy="114.6" r="1.3"/><circle cx="444.8" cy="121.3" r="1.3"/><circle cx="446.3" cy="121.1" r="1.3"/><circle cx="447.9" cy="116.5" r="1.3"/><circle cx="449.5" cy="120.1" r="1.3"/><circle cx="451.1" cy="118.1" r="1.3"/><circle cx="452.7" cy="118.7" r="1.3"/><circle cx="454.2" cy="119.0" r="1.3"/><circle cx="455.8" cy="117.2" r="1.3"/><circle cx="457.4" cy="107.9" r="1.3"/></g>
<path d="M460.0,136.3 L460.0,108.7 L460.6,108.7 L461.4,108.5 L462.3,108.7 L463.1,109.9 L463.9,108.3 L464.7,111.4 L465.5,117.4 L466.4,117.4 L467.2,114.9 L468.0,114.2 L468.8,115.2 L469.6,116.7 L470.4,117.7 L471.3,117.1 L472.1,116.6 L472.9,116.4 L473.7,115.0 L474.5,110.5 L475.4,108.0 L476.2,110.8 L477.0,111.7 L477.6,111.7 L477.6,136.3Z" fill="#2e296e"/>
<g fill="#fff" opacity="0.85"><circle cx="469.1" cy="120.6" r="0.42"/><circle cx="461.8" cy="111.0" r="0.42"/><circle cx="464.7" cy="120.9" r="0.42"/><circle cx="470.3" cy="126.2" r="0.42"/><circle cx="475.7" cy="114.8" r="0.42"/><circle cx="464.8" cy="117.5" r="0.42"/><circle cx="474.2" cy="124.9" r="0.42"/><circle cx="472.3" cy="120.2" r="0.42"/><circle cx="464.6" cy="114.2" r="0.42"/><circle cx="469.3" cy="127.0" r="0.42"/><circle cx="470.7" cy="126.8" r="0.42"/><circle cx="462.7" cy="113.7" r="0.42"/><circle cx="463.9" cy="114.3" r="0.42"/><circle cx="467.4" cy="123.3" r="0.42"/><circle cx="465.1" cy="118.6" r="0.42"/><circle cx="473.4" cy="125.2" r="0.42"/><circle cx="476.4" cy="122.3" r="0.42"/><circle cx="472.7" cy="126.1" r="0.42"/><circle cx="461.4" cy="118.1" r="0.42"/><circle cx="461.5" cy="113.8" r="0.42"/><circle cx="468.0" cy="122.5" r="0.42"/><circle cx="462.6" cy="111.8" r="0.42"/></g>
<g fill="#2e296e"><circle cx="461.4" cy="110.6" r="1.3"/><circle cx="462.2" cy="99.0" r="1.3"/><circle cx="472.0" cy="107.5" r="1.3"/><circle cx="463.0" cy="116.1" r="1.3"/><circle cx="464.9" cy="103.1" r="1.3"/><circle cx="467.0" cy="113.4" r="1.3"/><circle cx="473.8" cy="112.3" r="1.3"/><circle cx="475.5" cy="99.9" r="1.3"/><circle cx="477.0" cy="90.3" r="1.3"/><circle cx="465.0" cy="92.0" r="1.3"/><circle cx="466.6" cy="104.3" r="1.3"/><circle cx="468.6" cy="104.5" r="1.3"/><circle cx="470.3" cy="112.9" r="1.3"/><circle cx="473.3" cy="112.8" r="1.3"/><circle cx="472.8" cy="113.6" r="1.3"/><circle cx="470.7" cy="98.0" r="1.3"/><circle cx="460.6" cy="109.1" r="1.3"/><circle cx="462.3" cy="109.1" r="1.3"/><circle cx="463.9" cy="108.7" r="1.3"/><circle cx="465.5" cy="117.8" r="1.3"/><circle cx="467.2" cy="115.3" r="1.3"/><circle cx="468.8" cy="115.6" r="1.3"/><circle cx="470.4" cy="118.1" r="1.3"/><circle cx="472.1" cy="117.0" r="1.3"/><circle cx="473.7" cy="115.4" r="1.3"/><circle cx="475.4" cy="108.4" r="1.3"/><circle cx="477.0" cy="112.1" r="1.3"/></g>
<path d="M478.8,136.3 L478.8,116.9 L479.4,116.9 L480.3,118.0 L481.1,117.1 L481.9,113.3 L482.7,111.6 L483.5,113.0 L484.3,113.5 L485.1,113.2 L485.9,112.1 L486.8,111.4 L487.6,113.4 L488.4,115.0 L489.2,115.0 L490.0,115.0 L490.8,114.8 L491.6,114.7 L492.4,115.1 L493.2,113.7 L494.1,111.3 L494.9,111.2 L495.5,111.2 L495.5,136.3Z" fill="#e6741f"/>
<g fill="#fff" opacity="0.85"><circle cx="484.1" cy="123.2" r="0.42"/><circle cx="484.1" cy="116.5" r="0.42"/><circle cx="483.7" cy="121.4" r="0.42"/><circle cx="487.7" cy="124.0" r="0.42"/><circle cx="489.6" cy="119.9" r="0.42"/><circle cx="490.0" cy="119.7" r="0.42"/><circle cx="480.2" cy="120.6" r="0.42"/><circle cx="487.9" cy="120.1" r="0.42"/><circle cx="490.3" cy="119.1" r="0.42"/><circle cx="479.9" cy="127.7" r="0.42"/><circle cx="484.3" cy="125.8" r="0.42"/><circle cx="486.2" cy="123.1" r="0.42"/><circle cx="485.5" cy="115.8" r="0.42"/><circle cx="482.6" cy="124.1" r="0.42"/><circle cx="486.1" cy="119.3" r="0.42"/><circle cx="488.8" cy="123.9" r="0.42"/><circle cx="488.7" cy="117.8" r="0.42"/><circle cx="484.2" cy="118.0" r="0.42"/><circle cx="488.9" cy="122.4" r="0.42"/><circle cx="481.9" cy="122.8" r="0.42"/><circle cx="487.8" cy="124.8" r="0.42"/></g>
<g fill="#e6741f"><circle cx="483.5" cy="99.0" r="1.3"/><circle cx="486.9" cy="103.1" r="1.3"/><circle cx="485.8" cy="106.3" r="1.3"/><circle cx="487.8" cy="106.9" r="1.3"/><circle cx="488.4" cy="111.9" r="1.3"/><circle cx="489.3" cy="113.8" r="1.3"/><circle cx="490.1" cy="113.9" r="1.3"/><circle cx="490.7" cy="113.8" r="1.3"/><circle cx="482.8" cy="86.6" r="1.3"/><circle cx="482.8" cy="93.9" r="1.3"/><circle cx="483.0" cy="111.8" r="1.3"/><circle cx="483.1" cy="110.5" r="1.3"/><circle cx="482.6" cy="109.2" r="1.3"/><circle cx="482.7" cy="107.9" r="1.3"/><circle cx="482.8" cy="106.6" r="1.3"/><circle cx="482.7" cy="105.3" r="1.3"/><circle cx="482.7" cy="104.0" r="1.3"/><circle cx="483.3" cy="102.7" r="1.3"/><circle cx="482.7" cy="101.4" r="1.3"/><circle cx="482.9" cy="100.1" r="1.3"/><circle cx="482.6" cy="98.8" r="1.3"/><circle cx="482.7" cy="97.5" r="1.3"/><circle cx="483.1" cy="96.2" r="1.3"/><circle cx="482.7" cy="94.9" r="1.3"/><circle cx="483.1" cy="93.6" r="1.3"/><circle cx="483.1" cy="92.3" r="1.3"/><circle cx="482.7" cy="91.0" r="1.3"/><circle cx="482.7" cy="89.7" r="1.3"/><circle cx="482.8" cy="88.4" r="1.3"/><circle cx="482.5" cy="87.1" r="1.3"/><circle cx="482.6" cy="85.8" r="1.3"/><circle cx="483.0" cy="84.5" r="1.3"/><circle cx="494.3" cy="108.9" r="1.3"/><circle cx="493.9" cy="106.7" r="1.3"/><circle cx="494.8" cy="104.5" r="1.3"/><circle cx="483.6" cy="99.7" r="1.3"/><circle cx="487.3" cy="102.1" r="1.3"/><circle cx="490.4" cy="108.0" r="1.3"/><circle cx="488.4" cy="107.6" r="1.3"/><circle cx="479.4" cy="117.3" r="1.3"/><circle cx="481.1" cy="117.5" r="1.3"/><circle cx="482.7" cy="112.0" r="1.3"/><circle cx="484.3" cy="113.9" r="1.3"/><circle cx="485.9" cy="112.5" r="1.3"/><circle cx="487.6" cy="113.8" r="1.3"/><circle cx="489.2" cy="115.4" r="1.3"/><circle cx="490.8" cy="115.2" r="1.3"/><circle cx="492.4" cy="115.5" r="1.3"/><circle cx="494.1" cy="111.7" r="1.3"/></g>
<path d="M496.6,136.3 L496.6,118.4 L497.2,118.4 L498.0,115.7 L498.9,115.1 L499.7,116.0 L500.5,116.5 L501.3,114.4 L502.1,111.2 L503.0,111.6 L503.8,113.3 L504.6,112.1 L505.4,110.1 L506.2,110.0 L507.1,110.3 L507.9,108.0 L508.7,106.0 L509.5,107.9 L510.4,111.9 L511.2,114.5 L511.8,114.5 L511.8,136.3Z" fill="#2e296e"/>
<g fill="#fff" opacity="0.85"><circle cx="504.6" cy="114.9" r="0.42"/><circle cx="507.5" cy="113.9" r="0.42"/><circle cx="498.5" cy="125.3" r="0.42"/><circle cx="508.1" cy="114.5" r="0.42"/><circle cx="505.3" cy="121.8" r="0.42"/><circle cx="501.5" cy="116.0" r="0.42"/><circle cx="497.8" cy="119.2" r="0.42"/><circle cx="509.9" cy="115.5" r="0.42"/><circle cx="506.9" cy="112.8" r="0.42"/><circle cx="509.8" cy="118.9" r="0.42"/><circle cx="500.1" cy="119.7" r="0.42"/><circle cx="499.6" cy="119.2" r="0.42"/><circle cx="502.2" cy="113.9" r="0.42"/><circle cx="498.2" cy="122.3" r="0.42"/><circle cx="507.3" cy="115.8" r="0.42"/><circle cx="501.5" cy="125.6" r="0.42"/><circle cx="504.1" cy="124.9" r="0.42"/><circle cx="504.0" cy="123.8" r="0.42"/><circle cx="501.2" cy="118.2" r="0.42"/></g>
<g fill="#2e296e"><circle cx="500.6" cy="111.7" r="1.3"/><circle cx="511.2" cy="106.5" r="1.3"/><circle cx="498.3" cy="113.0" r="1.3"/><circle cx="499.5" cy="112.4" r="1.3"/><circle cx="501.3" cy="112.2" r="1.3"/><circle cx="503.2" cy="106.6" r="1.3"/><circle cx="503.9" cy="115.4" r="1.3"/><circle cx="505.6" cy="109.1" r="1.3"/><circle cx="506.0" cy="108.4" r="1.3"/><circle cx="507.0" cy="107.3" r="1.3"/><circle cx="507.8" cy="106.4" r="1.3"/><circle cx="508.9" cy="96.7" r="1.3"/><circle cx="510.0" cy="108.3" r="1.3"/><circle cx="509.1" cy="105.4" r="1.3"/><circle cx="508.9" cy="102.5" r="1.3"/><circle cx="503.9" cy="108.3" r="1.3"/><circle cx="504.9" cy="94.8" r="1.3"/><circle cx="499.1" cy="109.4" r="1.3"/><circle cx="505.3" cy="108.9" r="1.3"/><circle cx="505.4" cy="106.0" r="1.3"/><circle cx="498.3" cy="100.1" r="1.3"/><circle cx="504.5" cy="98.1" r="1.3"/><circle cx="497.2" cy="118.8" r="1.3"/><circle cx="498.9" cy="115.5" r="1.3"/><circle cx="500.5" cy="116.9" r="1.3"/><circle cx="502.1" cy="111.6" r="1.3"/><circle cx="503.8" cy="113.7" r="1.3"/><circle cx="505.4" cy="110.5" r="1.3"/><circle cx="507.1" cy="110.7" r="1.3"/><circle cx="508.7" cy="106.4" r="1.3"/><circle cx="510.4" cy="112.3" r="1.3"/></g>
<path d="M513.0,136.3 L513.0,114.8 L513.6,114.8 L514.4,114.8 L515.3,113.8 L516.1,115.7 L516.9,117.4 L517.7,113.1 L518.5,108.6 L519.4,110.8 L520.2,113.0 L521.0,112.1 L521.8,111.1 L522.6,111.1 L523.5,113.0 L524.3,111.9 L525.1,107.6 L525.9,107.1 L526.8,109.9 L527.4,109.9 L527.4,136.3Z" fill="#e6741f"/>
<g fill="#fff" opacity="0.85"><circle cx="514.7" cy="120.6" r="0.42"/><circle cx="521.9" cy="114.0" r="0.42"/><circle cx="516.3" cy="127.4" r="0.42"/><circle cx="519.0" cy="114.3" r="0.42"/><circle cx="517.6" cy="119.5" r="0.42"/><circle cx="515.8" cy="125.0" r="0.42"/><circle cx="520.3" cy="120.2" r="0.42"/><circle cx="514.6" cy="119.0" r="0.42"/><circle cx="514.4" cy="117.3" r="0.42"/><circle cx="515.0" cy="123.8" r="0.42"/><circle cx="523.6" cy="119.3" r="0.42"/><circle cx="524.4" cy="115.0" r="0.42"/><circle cx="517.3" cy="123.2" r="0.42"/><circle cx="524.5" cy="116.2" r="0.42"/><circle cx="518.2" cy="120.0" r="0.42"/><circle cx="522.0" cy="114.4" r="0.42"/><circle cx="524.4" cy="116.3" r="0.42"/><circle cx="523.5" cy="118.1" r="0.42"/></g>
<g fill="#e6741f"><circle cx="523.6" cy="112.3" r="1.3"/><circle cx="513.7" cy="113.7" r="1.3"/><circle cx="514.4" cy="112.3" r="1.3"/><circle cx="515.0" cy="109.7" r="1.3"/><circle cx="520.5" cy="113.8" r="1.3"/><circle cx="521.2" cy="105.8" r="1.3"/><circle cx="522.0" cy="105.5" r="1.3"/><circle cx="524.2" cy="102.9" r="1.3"/><circle cx="520.6" cy="109.3" r="1.3"/><circle cx="521.2" cy="106.9" r="1.3"/><circle cx="520.7" cy="104.4" r="1.3"/><circle cx="526.1" cy="109.3" r="1.3"/><circle cx="526.2" cy="107.0" r="1.3"/><circle cx="526.2" cy="104.7" r="1.3"/><circle cx="525.6" cy="102.5" r="1.3"/><circle cx="526.2" cy="100.2" r="1.3"/><circle cx="519.0" cy="90.6" r="1.3"/><circle cx="523.8" cy="97.8" r="1.3"/><circle cx="516.4" cy="95.2" r="1.3"/><circle cx="515.0" cy="98.0" r="1.3"/><circle cx="518.3" cy="107.5" r="1.3"/><circle cx="516.7" cy="100.1" r="1.3"/><circle cx="514.4" cy="95.6" r="1.3"/><circle cx="513.6" cy="115.2" r="1.3"/><circle cx="515.3" cy="114.2" r="1.3"/><circle cx="516.9" cy="117.8" r="1.3"/><circle cx="518.5" cy="109.0" r="1.3"/><circle cx="520.2" cy="113.4" r="1.3"/><circle cx="521.8" cy="111.5" r="1.3"/><circle cx="523.5" cy="113.4" r="1.3"/><circle cx="525.1" cy="108.0" r="1.3"/><circle cx="526.8" cy="110.3" r="1.3"/></g>
<path d="M528.4,136.3 L528.4,111.0 L529.0,111.0 L529.8,113.5 L530.6,115.4 L531.4,114.6 L532.2,114.0 L533.0,113.7 L533.8,112.8 L534.6,111.5 L535.4,111.4 L536.2,113.3 L537.0,113.3 L537.8,112.2 L538.6,111.5 L539.4,111.3 L540.2,111.5 L541.0,111.7 L541.8,113.8 L542.4,113.8 L542.4,136.3Z" fill="#2e296e"/>
<g fill="#fff" opacity="0.85"><circle cx="535.5" cy="122.3" r="0.42"/><circle cx="538.4" cy="116.8" r="0.42"/><circle cx="538.3" cy="120.2" r="0.42"/><circle cx="538.4" cy="118.9" r="0.42"/><circle cx="530.2" cy="123.8" r="0.42"/><circle cx="529.2" cy="118.3" r="0.42"/><circle cx="534.1" cy="122.1" r="0.42"/><circle cx="539.2" cy="122.2" r="0.42"/><circle cx="534.2" cy="122.1" r="0.42"/><circle cx="536.7" cy="121.6" r="0.42"/><circle cx="529.6" cy="116.2" r="0.42"/><circle cx="534.3" cy="114.2" r="0.42"/><circle cx="529.7" cy="125.0" r="0.42"/><circle cx="535.8" cy="116.5" r="0.42"/><circle cx="535.4" cy="119.5" r="0.42"/><circle cx="538.8" cy="115.9" r="0.42"/><circle cx="539.2" cy="118.6" r="0.42"/><circle cx="532.6" cy="120.9" r="0.42"/></g>
<g fill="#2e296e"><circle cx="532.9" cy="98.9" r="1.3"/><circle cx="536.3" cy="110.8" r="1.3"/><circle cx="537.0" cy="109.0" r="1.3"/><circle cx="530.3" cy="114.5" r="1.3"/><circle cx="531.6" cy="111.8" r="1.3"/><circle cx="533.8" cy="109.9" r="1.3"/><circle cx="535.2" cy="107.5" r="1.3"/><circle cx="537.9" cy="110.9" r="1.3"/><circle cx="538.7" cy="110.4" r="1.3"/><circle cx="539.2" cy="100.6" r="1.3"/><circle cx="540.0" cy="110.5" r="1.3"/><circle cx="541.2" cy="102.0" r="1.3"/><circle cx="541.7" cy="114.9" r="1.3"/><circle cx="530.7" cy="81.7" r="1.3"/><circle cx="542.1" cy="86.4" r="1.3"/><circle cx="538.8" cy="108.2" r="1.3"/><circle cx="539.2" cy="103.8" r="1.3"/><circle cx="533.2" cy="107.3" r="1.3"/><circle cx="530.2" cy="87.9" r="1.3"/><circle cx="539.0" cy="109.3" r="1.3"/><circle cx="533.7" cy="85.7" r="1.3"/><circle cx="537.4" cy="84.8" r="1.3"/><circle cx="529.3" cy="91.3" r="1.3"/><circle cx="529.0" cy="111.4" r="1.3"/><circle cx="530.6" cy="115.8" r="1.3"/><circle cx="532.2" cy="114.4" r="1.3"/><circle cx="533.8" cy="113.2" r="1.3"/><circle cx="535.4" cy="111.8" r="1.3"/><circle cx="537.0" cy="113.7" r="1.3"/><circle cx="538.6" cy="111.9" r="1.3"/><circle cx="540.2" cy="111.9" r="1.3"/><circle cx="541.8" cy="114.2" r="1.3"/></g>
<path d="M543.7,136.3 L543.7,118.9 L544.3,118.9 L545.0,117.0 L545.8,116.1 L546.6,116.5 L547.4,115.8 L548.2,113.4 L549.0,111.0 L549.8,110.5 L550.6,111.7 L551.4,113.9 L552.2,113.3 L553.0,108.6 L553.8,106.4 L554.5,109.7 L555.3,113.6 L556.1,114.2 L556.7,114.2 L556.7,136.3Z" fill="#e6741f"/>
<g fill="#fff" opacity="0.85"><circle cx="546.6" cy="124.4" r="0.42"/><circle cx="549.2" cy="118.0" r="0.42"/><circle cx="549.6" cy="112.7" r="0.42"/><circle cx="545.5" cy="125.0" r="0.42"/><circle cx="554.1" cy="118.4" r="0.42"/><circle cx="545.1" cy="128.7" r="0.42"/><circle cx="551.6" cy="121.5" r="0.42"/><circle cx="551.5" cy="118.6" r="0.42"/><circle cx="548.6" cy="124.2" r="0.42"/><circle cx="546.3" cy="118.9" r="0.42"/><circle cx="545.5" cy="119.4" r="0.42"/><circle cx="555.8" cy="116.9" r="0.42"/><circle cx="544.5" cy="123.7" r="0.42"/><circle cx="548.9" cy="117.2" r="0.42"/><circle cx="553.8" cy="109.1" r="0.42"/><circle cx="545.9" cy="124.8" r="0.42"/></g>
<g fill="#e6741f"><circle cx="544.3" cy="114.6" r="1.3"/><circle cx="547.2" cy="108.1" r="1.3"/><circle cx="549.3" cy="105.3" r="1.3"/><circle cx="551.2" cy="104.4" r="1.3"/><circle cx="545.1" cy="115.5" r="1.3"/><circle cx="546.5" cy="117.5" r="1.3"/><circle cx="548.2" cy="114.7" r="1.3"/><circle cx="550.0" cy="111.3" r="1.3"/><circle cx="552.1" cy="115.4" r="1.3"/><circle cx="554.7" cy="89.9" r="1.3"/><circle cx="555.3" cy="115.2" r="1.3"/><circle cx="556.1" cy="110.2" r="1.3"/><circle cx="552.5" cy="110.2" r="1.3"/><circle cx="552.9" cy="106.9" r="1.3"/><circle cx="553.7" cy="110.2" r="1.3"/><circle cx="553.6" cy="107.8" r="1.3"/><circle cx="553.3" cy="105.3" r="1.3"/><circle cx="553.3" cy="102.9" r="1.3"/><circle cx="553.1" cy="100.5" r="1.3"/><circle cx="552.9" cy="98.1" r="1.3"/><circle cx="553.4" cy="95.7" r="1.3"/><circle cx="545.1" cy="89.9" r="1.3"/><circle cx="548.7" cy="99.8" r="1.3"/><circle cx="545.6" cy="107.5" r="1.3"/><circle cx="549.1" cy="104.0" r="1.3"/><circle cx="552.7" cy="111.1" r="1.3"/><circle cx="551.1" cy="109.4" r="1.3"/><circle cx="546.3" cy="109.5" r="1.3"/><circle cx="544.3" cy="119.3" r="1.3"/><circle cx="545.8" cy="116.5" r="1.3"/><circle cx="547.4" cy="116.2" r="1.3"/><circle cx="549.0" cy="111.4" r="1.3"/><circle cx="550.6" cy="112.1" r="1.3"/><circle cx="552.2" cy="113.7" r="1.3"/><circle cx="553.8" cy="106.8" r="1.3"/><circle cx="555.3" cy="114.0" r="1.3"/></g>
<path d="M557.8,136.3 L557.8,111.7 L558.4,111.7 L559.2,113.4 L559.9,114.8 L560.7,115.8 L561.5,116.4 L562.3,115.3 L563.1,113.7 L563.8,110.0 L564.6,109.0 L565.4,112.9 L566.2,112.8 L567.0,108.5 L567.7,107.0 L568.5,109.6 L569.3,114.0 L570.1,117.4 L570.9,118.8 L571.5,118.8 L571.5,136.3Z" fill="#2e296e"/>
<g fill="#fff" opacity="0.85"><circle cx="565.0" cy="117.2" r="0.42"/><circle cx="560.5" cy="117.8" r="0.42"/><circle cx="570.5" cy="125.2" r="0.42"/><circle cx="562.5" cy="120.4" r="0.42"/><circle cx="564.5" cy="116.8" r="0.42"/><circle cx="565.0" cy="117.7" r="0.42"/><circle cx="558.7" cy="117.4" r="0.42"/><circle cx="568.0" cy="116.8" r="0.42"/><circle cx="563.2" cy="124.9" r="0.42"/><circle cx="566.2" cy="122.9" r="0.42"/><circle cx="566.3" cy="117.1" r="0.42"/><circle cx="563.2" cy="122.6" r="0.42"/><circle cx="569.3" cy="124.8" r="0.42"/><circle cx="567.7" cy="118.1" r="0.42"/><circle cx="568.9" cy="116.6" r="0.42"/><circle cx="562.0" cy="122.9" r="0.42"/><circle cx="560.3" cy="124.3" r="0.42"/></g>
<g fill="#2e296e"><circle cx="558.3" cy="92.5" r="1.3"/><circle cx="559.9" cy="114.9" r="1.3"/><circle cx="561.6" cy="115.8" r="1.3"/><circle cx="565.3" cy="111.9" r="1.3"/><circle cx="563.3" cy="116.4" r="1.3"/><circle cx="566.0" cy="114.2" r="1.3"/><circle cx="568.4" cy="108.4" r="1.3"/><circle cx="565.0" cy="82.2" r="1.3"/><circle cx="568.0" cy="110.9" r="1.3"/><circle cx="568.3" cy="108.7" r="1.3"/><circle cx="567.9" cy="106.4" r="1.3"/><circle cx="567.8" cy="104.2" r="1.3"/><circle cx="567.8" cy="101.9" r="1.3"/><circle cx="568.1" cy="99.6" r="1.3"/><circle cx="568.2" cy="97.4" r="1.3"/><circle cx="568.3" cy="95.1" r="1.3"/><circle cx="568.1" cy="92.9" r="1.3"/><circle cx="568.1" cy="90.6" r="1.3"/><circle cx="566.8" cy="98.2" r="1.3"/><circle cx="562.3" cy="110.4" r="1.3"/><circle cx="560.8" cy="84.4" r="1.3"/><circle cx="569.8" cy="110.9" r="1.3"/><circle cx="559.2" cy="105.5" r="1.3"/><circle cx="561.1" cy="97.5" r="1.3"/><circle cx="561.0" cy="100.0" r="1.3"/><circle cx="561.3" cy="90.2" r="1.3"/><circle cx="558.4" cy="112.1" r="1.3"/><circle cx="559.9" cy="115.2" r="1.3"/><circle cx="561.5" cy="116.8" r="1.3"/><circle cx="563.1" cy="114.1" r="1.3"/><circle cx="564.6" cy="109.4" r="1.3"/><circle cx="566.2" cy="113.2" r="1.3"/><circle cx="567.7" cy="107.4" r="1.3"/><circle cx="569.3" cy="114.4" r="1.3"/><circle cx="570.9" cy="119.2" r="1.3"/></g>
<path d="M572.7,136.3 L572.7,112.2 L573.3,112.2 L574.1,110.5 L574.9,109.0 L575.7,108.2 L576.5,108.8 L577.3,108.5 L578.0,107.0 L578.8,107.1 L579.6,107.8 L580.4,108.5 L581.2,110.3 L582.0,111.0 L582.8,109.9 L583.6,108.4 L584.3,107.4 L585.1,106.5 L585.9,105.2 L586.5,105.2 L586.5,136.3Z" fill="#e6741f"/>
<g fill="#fff" opacity="0.85"><circle cx="583.1" cy="116.8" r="0.42"/><circle cx="583.9" cy="114.9" r="0.42"/><circle cx="583.0" cy="114.1" r="0.42"/><circle cx="585.6" cy="109.9" r="0.42"/><circle cx="574.3" cy="118.2" r="0.42"/><circle cx="584.3" cy="119.2" r="0.42"/><circle cx="577.7" cy="120.1" r="0.42"/><circle cx="579.6" cy="119.3" r="0.42"/><circle cx="578.1" cy="113.4" r="0.42"/><circle cx="580.2" cy="120.0" r="0.42"/><circle cx="578.4" cy="115.9" r="0.42"/><circle cx="575.6" cy="117.8" r="0.42"/><circle cx="581.5" cy="113.5" r="0.42"/><circle cx="582.9" cy="118.6" r="0.42"/><circle cx="580.8" cy="121.6" r="0.42"/><circle cx="575.6" cy="113.9" r="0.42"/><circle cx="584.1" cy="110.7" r="0.42"/></g>
<g fill="#e6741f"><circle cx="575.4" cy="104.3" r="1.3"/><circle cx="578.6" cy="104.7" r="1.3"/><circle cx="574.4" cy="109.0" r="1.3"/><circle cx="577.8" cy="100.9" r="1.3"/><circle cx="580.4" cy="106.7" r="1.3"/><circle cx="582.8" cy="109.7" r="1.3"/><circle cx="583.6" cy="104.9" r="1.3"/><circle cx="585.3" cy="106.9" r="1.3"/><circle cx="585.6" cy="102.2" r="1.3"/><circle cx="573.8" cy="104.2" r="1.3"/><circle cx="575.6" cy="94.1" r="1.3"/><circle cx="584.5" cy="105.2" r="1.3"/><circle cx="582.2" cy="95.6" r="1.3"/><circle cx="576.5" cy="97.3" r="1.3"/><circle cx="583.4" cy="103.2" r="1.3"/><circle cx="573.3" cy="112.6" r="1.3"/><circle cx="574.9" cy="109.4" r="1.3"/><circle cx="576.5" cy="109.2" r="1.3"/><circle cx="578.0" cy="107.4" r="1.3"/><circle cx="579.6" cy="108.2" r="1.3"/><circle cx="581.2" cy="110.7" r="1.3"/><circle cx="582.8" cy="110.3" r="1.3"/><circle cx="584.3" cy="107.8" r="1.3"/><circle cx="585.9" cy="105.6" r="1.3"/></g>
<path d="M588.4,136.3 L588.4,114.5 L589.0,114.5 L589.8,116.8 L590.7,115.0 L591.5,114.4 L592.3,114.1 L593.2,110.9 L594.0,109.6 L594.8,112.0 L595.7,116.1 L596.5,117.1 L597.3,114.9 L598.1,115.3 L598.7,115.3 L598.7,136.3Z" fill="#2e296e"/>
<g fill="#fff" opacity="0.85"><circle cx="594.0" cy="113.3" r="0.42"/><circle cx="596.6" cy="127.0" r="0.42"/><circle cx="597.9" cy="122.7" r="0.42"/><circle cx="592.1" cy="121.5" r="0.42"/><circle cx="589.2" cy="122.4" r="0.42"/><circle cx="597.3" cy="118.7" r="0.42"/><circle cx="592.5" cy="124.7" r="0.42"/><circle cx="594.2" cy="114.8" r="0.42"/><circle cx="591.5" cy="116.6" r="0.42"/><circle cx="594.1" cy="120.2" r="0.42"/><circle cx="594.2" cy="117.3" r="0.42"/><circle cx="592.7" cy="122.4" r="0.42"/><circle cx="592.3" cy="121.1" r="0.42"/></g>
<g fill="#2e296e"><circle cx="589.2" cy="110.6" r="1.3"/><circle cx="590.0" cy="121.3" r="1.3"/><circle cx="590.8" cy="106.5" r="1.3"/><circle cx="592.6" cy="114.8" r="1.3"/><circle cx="595.0" cy="101.9" r="1.3"/><circle cx="595.6" cy="113.6" r="1.3"/><circle cx="597.5" cy="111.1" r="1.3"/><circle cx="597.9" cy="114.3" r="1.3"/><circle cx="596.2" cy="111.4" r="1.3"/><circle cx="596.9" cy="100.3" r="1.3"/><circle cx="597.8" cy="106.4" r="1.3"/><circle cx="595.7" cy="109.5" r="1.3"/><circle cx="590.2" cy="104.6" r="1.3"/><circle cx="593.9" cy="108.7" r="1.3"/><circle cx="589.0" cy="114.9" r="1.3"/><circle cx="590.7" cy="115.4" r="1.3"/><circle cx="592.3" cy="114.5" r="1.3"/><circle cx="594.0" cy="110.0" r="1.3"/><circle cx="595.7" cy="116.5" r="1.3"/><circle cx="597.3" cy="115.3" r="1.3"/></g>
<path d="M600.1,136.3 L600.1,115.0 L600.7,115.0 L601.5,110.6 L602.3,109.8 L603.1,110.8 L603.9,111.4 L604.7,111.0 L605.5,109.1 L606.3,110.7 L607.1,114.1 L607.9,114.4 L608.7,112.3 L609.5,109.6 L610.3,107.8 L610.9,107.8 L610.9,136.3Z" fill="#e6741f"/>
<g fill="#fff" opacity="0.85"><circle cx="602.4" cy="116.7" r="0.42"/><circle cx="607.8" cy="125.1" r="0.42"/><circle cx="606.5" cy="115.0" r="0.42"/><circle cx="607.2" cy="125.7" r="0.42"/><circle cx="602.4" cy="119.4" r="0.42"/><circle cx="606.1" cy="119.1" r="0.42"/><circle cx="604.7" cy="120.2" r="0.42"/><circle cx="601.9" cy="117.3" r="0.42"/><circle cx="601.2" cy="118.4" r="0.42"/><circle cx="605.1" cy="119.6" r="0.42"/><circle cx="606.9" cy="122.7" r="0.42"/><circle cx="604.3" cy="115.6" r="0.42"/><circle cx="606.3" cy="113.8" r="0.42"/></g>
<g fill="#e6741f"><circle cx="603.1" cy="108.8" r="1.3"/><circle cx="601.7" cy="105.4" r="1.3"/><circle cx="603.9" cy="109.3" r="1.3"/><circle cx="604.8" cy="113.8" r="1.3"/><circle cx="606.2" cy="108.8" r="1.3"/><circle cx="609.6" cy="108.1" r="1.3"/><circle cx="601.9" cy="107.4" r="1.3"/><circle cx="602.0" cy="105.1" r="1.3"/><circle cx="601.8" cy="102.8" r="1.3"/><circle cx="602.4" cy="100.4" r="1.3"/><circle cx="607.2" cy="107.4" r="1.3"/><circle cx="602.5" cy="96.9" r="1.3"/><circle cx="605.0" cy="101.8" r="1.3"/><circle cx="606.1" cy="100.2" r="1.3"/><circle cx="601.4" cy="108.7" r="1.3"/><circle cx="610.0" cy="99.4" r="1.3"/><circle cx="600.7" cy="115.4" r="1.3"/><circle cx="602.3" cy="110.2" r="1.3"/><circle cx="603.9" cy="111.8" r="1.3"/><circle cx="605.5" cy="109.5" r="1.3"/><circle cx="607.1" cy="114.5" r="1.3"/><circle cx="608.7" cy="112.7" r="1.3"/><circle cx="610.3" cy="108.2" r="1.3"/></g>
<path d="M612.1,136.3 L612.1,118.8 L612.7,118.8 L613.5,115.3 L614.3,114.7 L615.0,116.4 L615.8,116.1 L616.6,114.7 L617.4,115.2 L618.1,115.7 L618.9,115.1 L619.7,114.2 L620.4,112.9 L621.2,112.4 L622.0,111.7 L622.6,111.7 L622.6,136.3Z" fill="#2e296e"/>
<g fill="#fff" opacity="0.85"><circle cx="620.4" cy="123.8" r="0.42"/><circle cx="616.5" cy="117.4" r="0.42"/><circle cx="613.6" cy="125.3" r="0.42"/><circle cx="617.4" cy="119.9" r="0.42"/><circle cx="619.6" cy="119.8" r="0.42"/><circle cx="615.7" cy="126.9" r="0.42"/><circle cx="616.2" cy="124.2" r="0.42"/><circle cx="615.9" cy="118.7" r="0.42"/><circle cx="620.3" cy="120.9" r="0.42"/><circle cx="620.7" cy="115.7" r="0.42"/><circle cx="615.6" cy="124.5" r="0.42"/><circle cx="620.4" cy="118.5" r="0.42"/><circle cx="614.2" cy="118.1" r="0.42"/></g>
<g fill="#2e296e"><circle cx="622.3" cy="100.5" r="1.3"/><circle cx="612.8" cy="112.5" r="1.3"/><circle cx="613.3" cy="111.1" r="1.3"/><circle cx="614.0" cy="107.7" r="1.3"/><circle cx="614.9" cy="114.5" r="1.3"/><circle cx="618.1" cy="115.4" r="1.3"/><circle cx="620.5" cy="111.1" r="1.3"/><circle cx="621.1" cy="112.9" r="1.3"/><circle cx="617.4" cy="112.3" r="1.3"/><circle cx="617.7" cy="109.9" r="1.3"/><circle cx="617.4" cy="107.5" r="1.3"/><circle cx="617.4" cy="105.2" r="1.3"/><circle cx="620.0" cy="97.6" r="1.3"/><circle cx="616.6" cy="99.5" r="1.3"/><circle cx="615.0" cy="112.7" r="1.3"/><circle cx="619.7" cy="113.1" r="1.3"/><circle cx="615.0" cy="112.3" r="1.3"/><circle cx="617.4" cy="110.1" r="1.3"/><circle cx="612.7" cy="119.2" r="1.3"/><circle cx="614.3" cy="115.1" r="1.3"/><circle cx="615.8" cy="116.5" r="1.3"/><circle cx="617.4" cy="115.6" r="1.3"/><circle cx="618.9" cy="115.5" r="1.3"/><circle cx="620.4" cy="113.3" r="1.3"/><circle cx="622.0" cy="112.1" r="1.3"/></g>
<path d="M623.6,136.3 L623.6,121.2 L624.2,121.2 L625.0,116.9 L625.8,119.3 L626.7,119.6 L627.5,113.3 L628.3,110.8 L629.1,114.3 L629.9,115.0 L630.7,109.6 L631.5,106.8 L632.3,111.7 L632.9,111.7 L632.9,136.3Z" fill="#e6741f"/>
<g fill="#fff" opacity="0.85"><circle cx="629.9" cy="125.6" r="0.42"/><circle cx="629.6" cy="121.8" r="0.42"/><circle cx="631.6" cy="117.7" r="0.42"/><circle cx="629.8" cy="123.0" r="0.42"/><circle cx="631.2" cy="111.6" r="0.42"/><circle cx="629.5" cy="120.4" r="0.42"/><circle cx="626.1" cy="123.2" r="0.42"/><circle cx="625.0" cy="123.3" r="0.42"/><circle cx="631.9" cy="111.9" r="0.42"/><circle cx="631.4" cy="117.9" r="0.42"/><circle cx="631.7" cy="117.4" r="0.42"/><circle cx="625.6" cy="123.6" r="0.42"/></g>
<g fill="#e6741f"><circle cx="624.8" cy="100.4" r="1.3"/><circle cx="624.3" cy="124.6" r="1.3"/><circle cx="625.6" cy="118.9" r="1.3"/><circle cx="627.4" cy="112.0" r="1.3"/><circle cx="629.7" cy="112.6" r="1.3"/><circle cx="630.7" cy="108.8" r="1.3"/><circle cx="632.6" cy="110.6" r="1.3"/><circle cx="627.3" cy="88.2" r="1.3"/><circle cx="626.7" cy="113.6" r="1.3"/><circle cx="626.6" cy="111.3" r="1.3"/><circle cx="626.3" cy="109.1" r="1.3"/><circle cx="626.5" cy="106.8" r="1.3"/><circle cx="626.5" cy="104.6" r="1.3"/><circle cx="626.8" cy="102.4" r="1.3"/><circle cx="626.8" cy="100.1" r="1.3"/><circle cx="626.4" cy="97.9" r="1.3"/><circle cx="626.4" cy="95.7" r="1.3"/><circle cx="626.7" cy="93.4" r="1.3"/><circle cx="624.7" cy="113.3" r="1.3"/><circle cx="629.5" cy="103.8" r="1.3"/><circle cx="628.4" cy="98.5" r="1.3"/><circle cx="628.0" cy="95.4" r="1.3"/><circle cx="625.1" cy="100.3" r="1.3"/><circle cx="629.9" cy="107.0" r="1.3"/><circle cx="625.2" cy="96.1" r="1.3"/><circle cx="625.3" cy="111.8" r="1.3"/><circle cx="624.2" cy="121.6" r="1.3"/><circle cx="625.8" cy="119.7" r="1.3"/><circle cx="627.5" cy="113.7" r="1.3"/><circle cx="629.1" cy="114.7" r="1.3"/><circle cx="630.7" cy="110.0" r="1.3"/><circle cx="632.3" cy="112.1" r="1.3"/></g>
<path d="M634.1,136.3 L634.1,110.0 L634.7,110.0 L635.5,108.1 L636.4,108.5 L637.2,109.0 L638.0,106.7 L638.9,105.4 L639.7,106.3 L640.6,107.2 L641.4,107.8 L642.3,107.8 L642.9,107.8 L642.9,136.3Z" fill="#2e296e"/>
<g fill="#fff" opacity="0.85"><circle cx="639.5" cy="117.4" r="0.42"/><circle cx="638.6" cy="114.9" r="0.42"/><circle cx="638.5" cy="115.3" r="0.42"/><circle cx="635.6" cy="117.7" r="0.42"/><circle cx="638.1" cy="115.0" r="0.42"/><circle cx="637.8" cy="114.7" r="0.42"/><circle cx="635.7" cy="119.8" r="0.42"/><circle cx="641.4" cy="119.6" r="0.42"/><circle cx="634.9" cy="114.9" r="0.42"/><circle cx="640.3" cy="114.5" r="0.42"/><circle cx="641.9" cy="113.7" r="0.42"/></g>
<g fill="#2e296e"><circle cx="637.3" cy="100.0" r="1.3"/><circle cx="634.5" cy="107.1" r="1.3"/><circle cx="635.7" cy="105.4" r="1.3"/><circle cx="638.0" cy="105.9" r="1.3"/><circle cx="639.5" cy="106.0" r="1.3"/><circle cx="640.9" cy="104.9" r="1.3"/><circle cx="642.3" cy="105.7" r="1.3"/><circle cx="638.9" cy="97.6" r="1.3"/><circle cx="638.9" cy="104.5" r="1.3"/><circle cx="636.6" cy="106.1" r="1.3"/><circle cx="641.3" cy="105.7" r="1.3"/><circle cx="634.7" cy="110.4" r="1.3"/><circle cx="636.4" cy="108.9" r="1.3"/><circle cx="638.0" cy="107.1" r="1.3"/><circle cx="639.7" cy="106.7" r="1.3"/><circle cx="641.4" cy="108.2" r="1.3"/></g>
<path d="M644.0,136.3 L644.0,120.6 L644.6,120.6 L645.5,118.2 L646.3,116.8 L647.1,114.6 L648.0,113.4 L648.8,115.2 L649.7,113.6 L650.5,109.7 L651.4,112.3 L652.0,112.3 L652.0,136.3Z" fill="#e6741f"/>
<g fill="#fff" opacity="0.85"><circle cx="647.6" cy="120.7" r="0.42"/><circle cx="646.4" cy="120.2" r="0.42"/><circle cx="647.7" cy="118.0" r="0.42"/><circle cx="650.9" cy="119.0" r="0.42"/><circle cx="647.6" cy="120.3" r="0.42"/><circle cx="649.6" cy="118.5" r="0.42"/><circle cx="645.1" cy="129.5" r="0.42"/><circle cx="650.5" cy="121.3" r="0.42"/><circle cx="646.3" cy="119.0" r="0.42"/><circle cx="648.5" cy="123.5" r="0.42"/></g>
<g fill="#e6741f"><circle cx="644.9" cy="119.7" r="1.3"/><circle cx="645.3" cy="115.4" r="1.3"/><circle cx="648.7" cy="106.4" r="1.3"/><circle cx="649.5" cy="109.9" r="1.3"/><circle cx="650.7" cy="101.7" r="1.3"/><circle cx="651.7" cy="115.4" r="1.3"/><circle cx="645.5" cy="101.7" r="1.3"/><circle cx="649.3" cy="110.5" r="1.3"/><circle cx="644.9" cy="114.5" r="1.3"/><circle cx="647.6" cy="114.5" r="1.3"/><circle cx="647.2" cy="114.3" r="1.3"/><circle cx="644.6" cy="121.0" r="1.3"/><circle cx="646.3" cy="117.2" r="1.3"/><circle cx="648.0" cy="113.8" r="1.3"/><circle cx="649.7" cy="114.0" r="1.3"/><circle cx="651.4" cy="112.7" r="1.3"/></g>
<path d="M653.0,136.3 L653.0,111.9 L653.6,111.9 L654.4,111.9 L655.3,109.9 L656.1,108.1 L657.0,109.2 L657.8,110.8 L658.7,112.9 L659.5,113.1 L660.3,111.1 L660.9,111.1 L660.9,136.3Z" fill="#2e296e"/>
<g fill="#fff" opacity="0.85"><circle cx="657.0" cy="114.9" r="0.42"/><circle cx="655.6" cy="121.2" r="0.42"/><circle cx="657.7" cy="118.4" r="0.42"/><circle cx="657.1" cy="112.6" r="0.42"/><circle cx="654.2" cy="117.4" r="0.42"/><circle cx="654.0" cy="118.9" r="0.42"/><circle cx="656.0" cy="118.5" r="0.42"/><circle cx="654.5" cy="116.7" r="0.42"/><circle cx="655.2" cy="119.5" r="0.42"/><circle cx="659.0" cy="124.9" r="0.42"/></g>
<g fill="#2e296e"><circle cx="657.0" cy="106.9" r="1.3"/><circle cx="653.7" cy="103.3" r="1.3"/><circle cx="655.2" cy="108.7" r="1.3"/><circle cx="657.9" cy="106.6" r="1.3"/><circle cx="658.4" cy="108.9" r="1.3"/><circle cx="659.7" cy="109.6" r="1.3"/><circle cx="656.2" cy="88.9" r="1.3"/><circle cx="659.7" cy="82.3" r="1.3"/><circle cx="654.6" cy="97.3" r="1.3"/><circle cx="654.1" cy="105.0" r="1.3"/><circle cx="657.2" cy="94.9" r="1.3"/><circle cx="659.5" cy="108.3" r="1.3"/><circle cx="659.8" cy="107.8" r="1.3"/><circle cx="657.0" cy="109.7" r="1.3"/><circle cx="653.6" cy="112.3" r="1.3"/><circle cx="655.3" cy="110.3" r="1.3"/><circle cx="657.0" cy="109.6" r="1.3"/><circle cx="658.7" cy="113.3" r="1.3"/><circle cx="660.3" cy="111.5" r="1.3"/></g>
<path d="M661.8,136.3 L661.8,116.7 L662.4,116.7 L663.2,121.2 L664.0,121.7 L664.8,122.1 L665.6,124.2 L666.5,121.9 L667.3,116.1 L668.1,115.8 L668.9,119.6 L669.5,119.6 L669.5,136.3Z" fill="#e6741f"/>
<g fill="#fff" opacity="0.85"><circle cx="667.9" cy="120.6" r="0.42"/><circle cx="668.3" cy="119.3" r="0.42"/><circle cx="668.0" cy="125.6" r="0.42"/><circle cx="666.1" cy="127.7" r="0.42"/><circle cx="663.1" cy="127.0" r="0.42"/><circle cx="664.3" cy="127.7" r="0.42"/><circle cx="665.0" cy="127.3" r="0.42"/><circle cx="667.1" cy="126.6" r="0.42"/><circle cx="663.5" cy="128.7" r="0.42"/></g>
<g fill="#e6741f"><circle cx="662.3" cy="112.9" r="1.3"/><circle cx="663.7" cy="118.3" r="1.3"/><circle cx="665.1" cy="116.6" r="1.3"/><circle cx="665.4" cy="119.7" r="1.3"/><circle cx="666.2" cy="121.4" r="1.3"/><circle cx="667.5" cy="105.4" r="1.3"/><circle cx="668.3" cy="112.7" r="1.3"/><circle cx="669.1" cy="119.9" r="1.3"/><circle cx="663.3" cy="94.8" r="1.3"/><circle cx="664.5" cy="111.6" r="1.3"/><circle cx="668.2" cy="114.6" r="1.3"/><circle cx="668.1" cy="108.2" r="1.3"/><circle cx="665.1" cy="114.3" r="1.3"/><circle cx="665.2" cy="115.2" r="1.3"/><circle cx="665.6" cy="117.0" r="1.3"/><circle cx="665.8" cy="117.4" r="1.3"/><circle cx="662.4" cy="117.1" r="1.3"/><circle cx="664.0" cy="122.1" r="1.3"/><circle cx="665.6" cy="124.6" r="1.3"/><circle cx="667.3" cy="116.5" r="1.3"/><circle cx="668.9" cy="120.0" r="1.3"/></g>
<path d="M670.6,136.3 L670.6,123.7 L671.2,123.7 L672.0,120.7 L672.9,120.5 L673.7,121.9 L674.5,122.7 L675.4,124.1 L676.0,124.1 L676.0,136.3Z" fill="#2e296e"/>
<g fill="#fff" opacity="0.85"><circle cx="672.8" cy="129.6" r="0.42"/><circle cx="671.8" cy="126.8" r="0.42"/><circle cx="673.5" cy="128.1" r="0.42"/></g>
<g fill="#2e296e"><circle cx="671.0" cy="118.0" r="1.3"/><circle cx="671.8" cy="118.6" r="1.3"/><circle cx="673.5" cy="115.3" r="1.3"/><circle cx="674.7" cy="120.4" r="1.3"/><circle cx="672.3" cy="103.1" r="1.3"/><circle cx="674.2" cy="116.6" r="1.3"/><circle cx="675.1" cy="108.9" r="1.3"/><circle cx="672.6" cy="109.3" r="1.3"/><circle cx="673.2" cy="117.6" r="1.3"/><circle cx="675.1" cy="103.8" r="1.3"/><circle cx="671.2" cy="124.1" r="1.3"/><circle cx="672.9" cy="120.9" r="1.3"/><circle cx="674.5" cy="123.1" r="1.3"/></g>
<path d="M677.9,136.3 L677.9,114.6 L678.5,114.6 L679.3,113.2 L680.0,111.1 L680.8,110.6 L681.6,109.6 L682.4,107.9 L683.0,107.9 L683.0,136.3Z" fill="#e6741f"/>
<g fill="#fff" opacity="0.85"><circle cx="681.2" cy="112.5" r="0.42"/><circle cx="680.7" cy="114.5" r="0.42"/><circle cx="680.9" cy="113.6" r="0.42"/><circle cx="680.4" cy="115.9" r="0.42"/><circle cx="681.4" cy="120.1" r="0.42"/><circle cx="679.1" cy="116.5" r="0.42"/></g>
<g fill="#e6741f"><circle cx="679.3" cy="106.3" r="1.3"/><circle cx="681.6" cy="103.7" r="1.3"/><circle cx="680.7" cy="104.9" r="1.3"/><circle cx="682.4" cy="104.6" r="1.3"/><circle cx="681.4" cy="93.4" r="1.3"/><circle cx="679.1" cy="103.7" r="1.3"/><circle cx="679.8" cy="106.4" r="1.3"/><circle cx="679.1" cy="103.7" r="1.3"/><circle cx="681.0" cy="97.1" r="1.3"/><circle cx="679.7" cy="99.5" r="1.3"/><circle cx="678.5" cy="115.0" r="1.3"/><circle cx="680.0" cy="111.5" r="1.3"/><circle cx="681.6" cy="110.0" r="1.3"/></g>
<line x1="30.5" y1="178.2" x2="30.5" y2="301.2" stroke="#7a7a7a" stroke-width="1.1"/>
<line x1="27.7" y1="301.2" x2="30.5" y2="301.2" stroke="#7a7a7a" stroke-width="0.9"/>
<text transform="translate(26.2,303.3) scale(0.9,1)" font-size="6.0" text-anchor="end" font-weight="bold" fill="#111" stroke="#111" stroke-width="0.35">0</text>
<line x1="27.7" y1="276.8" x2="30.5" y2="276.8" stroke="#7a7a7a" stroke-width="0.9"/>
<text transform="translate(26.2,278.9) scale(0.9,1)" font-size="6.0" text-anchor="end" font-weight="bold" fill="#111" stroke="#111" stroke-width="0.35">2</text>
<line x1="27.7" y1="252.4" x2="30.5" y2="252.4" stroke="#7a7a7a" stroke-width="0.9"/>
<text transform="translate(26.2,254.5) scale(0.9,1)" font-size="6.0" text-anchor="end" font-weight="bold" fill="#111" stroke="#111" stroke-width="0.35">4</text>
<line x1="27.7" y1="228.0" x2="30.5" y2="228.0" stroke="#7a7a7a" stroke-width="0.9"/>
<text transform="translate(26.2,230.1) scale(0.9,1)" font-size="6.0" text-anchor="end" font-weight="bold" fill="#111" stroke="#111" stroke-width="0.35">6</text>
<line x1="27.7" y1="203.6" x2="30.5" y2="203.6" stroke="#7a7a7a" stroke-width="0.9"/>
<text transform="translate(26.2,205.7) scale(0.9,1)" font-size="6.0" text-anchor="end" font-weight="bold" fill="#111" stroke="#111" stroke-width="0.35">8</text>
<line x1="27.7" y1="179.2" x2="30.5" y2="179.2" stroke="#7a7a7a" stroke-width="0.9"/>
<text transform="translate(26.2,181.3) scale(0.9,1)" font-size="6.0" text-anchor="end" font-weight="bold" fill="#111" stroke="#111" stroke-width="0.35">10</text>
<line x1="31.5" y1="252.0" x2="329.0" y2="252.0" stroke="#f9d6cc" stroke-width="2.2"/>
<line x1="30.3" y1="305.9" x2="329.0" y2="305.9" stroke="#b4b4b4" stroke-width="1.1"/>
<line x1="30.6" y1="305.9" x2="30.6" y2="308.5" stroke="#666" stroke-width="0.9"/>
<text transform="translate(30.3,315.7) scale(0.85,1)" font-size="6.0" text-anchor="middle" font-weight="bold" fill="#111" stroke="#111" stroke-width="0.35">Chr</text>
<line x1="43.3" y1="305.9" x2="43.3" y2="308.5" stroke="#666" stroke-width="0.9"/>
<text transform="translate(43.3,315.7) scale(0.85,1)" font-size="6.0" text-anchor="middle" font-weight="bold" fill="#111" stroke="#111" stroke-width="0.35">1</text>
<line x1="66.7" y1="305.9" x2="66.7" y2="308.5" stroke="#666" stroke-width="0.9"/>
<text transform="translate(66.7,315.7) scale(0.85,1)" font-size="6.0" text-anchor="middle" font-weight="bold" fill="#111" stroke="#111" stroke-width="0.35">2</text>
<line x1="87.9" y1="305.9" x2="87.9" y2="308.5" stroke="#666" stroke-width="0.9"/>
<text transform="translate(87.9,315.7) scale(0.85,1)" font-size="6.0" text-anchor="middle" font-weight="bold" fill="#111" stroke="#111" stroke-width="0.35">3</text>
<line x1="107.1" y1="305.9" x2="107.1" y2="308.5" stroke="#666" stroke-width="0.9"/>
<text transform="translate(107.1,315.7) scale(0.85,1)" font-size="6.0" text-anchor="middle" font-weight="bold" fill="#111" stroke="#111" stroke-width="0.35">4</text>
<line x1="125.6" y1="305.9" x2="125.6" y2="308.5" stroke="#666" stroke-width="0.9"/>
<text transform="translate(125.6,315.7) scale(0.85,1)" font-size="6.0" text-anchor="middle" font-weight="bold" fill="#111" stroke="#111" stroke-width="0.35">5</text>
<line x1="142.7" y1="305.9" x2="142.7" y2="308.5" stroke="#666" stroke-width="0.9"/>
<text transform="translate(142.7,315.7) scale(0.85,1)" font-size="6.0" text-anchor="middle" font-weight="bold" fill="#111" stroke="#111" stroke-width="0.35">6</text>
<line x1="159.5" y1="305.9" x2="159.5" y2="308.5" stroke="#666" stroke-width="0.9"/>
<text transform="translate(159.5,315.7) scale(0.85,1)" font-size="6.0" text-anchor="middle" font-weight="bold" fill="#111" stroke="#111" stroke-width="0.35">7</text>
<line x1="174.2" y1="305.9" x2="174.2" y2="308.5" stroke="#666" stroke-width="0.9"/>
<text transform="translate(174.2,315.7) scale(0.85,1)" font-size="6.0" text-anchor="middle" font-weight="bold" fill="#111" stroke="#111" stroke-width="0.35">8</text>
<line x1="189.4" y1="305.9" x2="189.4" y2="308.5" stroke="#666" stroke-width="0.9"/>
<text transform="translate(189.4,315.7) scale(0.85,1)" font-size="6.0" text-anchor="middle" font-weight="bold" fill="#111" stroke="#111" stroke-width="0.35">9</text>
<line x1="203.0" y1="305.9" x2="203.0" y2="308.5" stroke="#666" stroke-width="0.9"/>
<text transform="translate(203.0,315.7) scale(0.85,1)" font-size="6.0" text-anchor="middle" font-weight="bold" fill="#111" stroke="#111" stroke-width="0.35">10</text>
<line x1="217.1" y1="305.9" x2="217.1" y2="308.5" stroke="#666" stroke-width="0.9"/>
<text transform="translate(217.1,315.7) scale(0.85,1)" font-size="6.0" text-anchor="middle" font-weight="bold" fill="#111" stroke="#111" stroke-width="0.35">11</text>
<line x1="230.9" y1="305.9" x2="230.9" y2="308.5" stroke="#666" stroke-width="0.9"/>
<text transform="translate(230.9,315.7) scale(0.85,1)" font-size="6.0" text-anchor="middle" font-weight="bold" fill="#111" stroke="#111" stroke-width="0.35">12</text>
<line x1="244.3" y1="305.9" x2="244.3" y2="308.5" stroke="#666" stroke-width="0.9"/>
<text transform="translate(244.3,315.7) scale(0.85,1)" font-size="6.0" text-anchor="middle" font-weight="bold" fill="#111" stroke="#111" stroke-width="0.35">13</text>
<line x1="256.1" y1="305.9" x2="256.1" y2="308.5" stroke="#666" stroke-width="0.9"/>
<text transform="translate(256.1,315.7) scale(0.85,1)" font-size="6.0" text-anchor="middle" font-weight="bold" fill="#111" stroke="#111" stroke-width="0.35">14</text>
<line x1="267.6" y1="305.9" x2="267.6" y2="308.5" stroke="#666" stroke-width="0.9"/>
<text transform="translate(267.6,315.7) scale(0.85,1)" font-size="6.0" text-anchor="middle" font-weight="bold" fill="#111" stroke="#111" stroke-width="0.35">15</text>
<line x1="277.6" y1="305.9" x2="277.6" y2="308.5" stroke="#666" stroke-width="0.9"/>
<text transform="translate(277.6,315.7) scale(0.85,1)" font-size="6.0" text-anchor="middle" font-weight="bold" fill="#111" stroke="#111" stroke-width="0.35">16</text>
<line x1="287.3" y1="305.9" x2="287.3" y2="308.5" stroke="#666" stroke-width="0.9"/>
<line x1="296.6" y1="305.9" x2="296.6" y2="308.5" stroke="#666" stroke-width="0.9"/>
<text transform="translate(296.6,315.7) scale(0.85,1)" font-size="6.0" text-anchor="middle" font-weight="bold" fill="#111" stroke="#111" stroke-width="0.35">18</text>
<line x1="304.9" y1="305.9" x2="304.9" y2="308.5" stroke="#666" stroke-width="0.9"/>
<line x1="312.7" y1="305.9" x2="312.7" y2="308.5" stroke="#666" stroke-width="0.9"/>
<text transform="translate(312.7,315.7) scale(0.85,1)" font-size="6.0" text-anchor="middle" font-weight="bold" fill="#111" stroke="#111" stroke-width="0.35">20</text>
<line x1="320.2" y1="305.9" x2="320.2" y2="308.5" stroke="#666" stroke-width="0.9"/>
<line x1="326.4" y1="305.9" x2="326.4" y2="308.5" stroke="#666" stroke-width="0.9"/>
<text transform="translate(326.4,315.7) scale(0.85,1)" font-size="6.0" text-anchor="middle" font-weight="bold" fill="#111" stroke="#111" stroke-width="0.35">22</text>
<path d="M32.4,302.4 L32.4,278.9 L33.0,278.9 L33.8,279.3 L34.6,277.5 L35.4,278.3 L36.2,279.0 L37.0,278.4 L37.8,281.0 L38.6,283.4 L39.3,284.4 L40.1,282.0 L40.9,279.1 L41.7,279.8 L42.5,278.3 L43.3,278.0 L44.1,282.1 L44.9,284.1 L45.7,283.4 L46.5,282.1 L47.3,281.0 L48.1,282.3 L48.9,281.9 L49.7,280.6 L50.5,282.7 L51.3,282.6 L52.0,280.5 L52.8,281.0 L53.6,282.8 L54.2,282.8 L54.2,302.4Z" fill="#2e296e"/>
<g fill="#fff" opacity="0.85"><circle cx="38.8" cy="292.2" r="0.42"/><circle cx="38.3" cy="293.1" r="0.42"/><circle cx="50.4" cy="291.2" r="0.42"/><circle cx="37.2" cy="285.4" r="0.42"/><circle cx="33.8" cy="281.6" r="0.42"/><circle cx="42.1" cy="283.1" r="0.42"/><circle cx="36.9" cy="285.8" r="0.42"/><circle cx="35.3" cy="287.3" r="0.42"/><circle cx="49.6" cy="285.1" r="0.42"/><circle cx="39.1" cy="289.9" r="0.42"/><circle cx="47.1" cy="291.0" r="0.42"/><circle cx="49.7" cy="286.6" r="0.42"/><circle cx="38.8" cy="289.4" r="0.42"/><circle cx="37.4" cy="283.3" r="0.42"/><circle cx="46.8" cy="286.5" r="0.42"/><circle cx="38.4" cy="291.7" r="0.42"/><circle cx="38.1" cy="284.6" r="0.42"/><circle cx="37.6" cy="289.6" r="0.42"/><circle cx="44.2" cy="292.5" r="0.42"/><circle cx="46.7" cy="287.2" r="0.42"/><circle cx="35.1" cy="281.5" r="0.42"/><circle cx="48.6" cy="288.7" r="0.42"/><circle cx="39.7" cy="292.0" r="0.42"/><circle cx="50.3" cy="287.6" r="0.42"/><circle cx="47.0" cy="290.0" r="0.42"/><circle cx="37.7" cy="285.5" r="0.42"/><circle cx="50.9" cy="290.6" r="0.42"/><circle cx="39.3" cy="293.5" r="0.42"/></g>
<g fill="#2e296e"><circle cx="38.6" cy="262.5" r="1.3"/><circle cx="45.9" cy="273.9" r="1.3"/><circle cx="51.9" cy="273.6" r="1.3"/><circle cx="33.0" cy="276.1" r="1.3"/><circle cx="33.8" cy="280.7" r="1.3"/><circle cx="35.7" cy="276.6" r="1.3"/><circle cx="36.3" cy="281.1" r="1.3"/><circle cx="37.9" cy="284.0" r="1.3"/><circle cx="41.0" cy="272.0" r="1.3"/><circle cx="41.6" cy="282.4" r="1.3"/><circle cx="43.1" cy="268.6" r="1.3"/><circle cx="44.9" cy="285.1" r="1.3"/><circle cx="46.5" cy="280.2" r="1.3"/><circle cx="49.0" cy="282.1" r="1.3"/><circle cx="49.8" cy="276.3" r="1.3"/><circle cx="51.2" cy="275.1" r="1.3"/><circle cx="53.7" cy="281.5" r="1.3"/><circle cx="38.8" cy="279.2" r="1.3"/><circle cx="39.1" cy="276.9" r="1.3"/><circle cx="38.8" cy="274.6" r="1.3"/><circle cx="38.7" cy="272.3" r="1.3"/><circle cx="38.7" cy="270.0" r="1.3"/><circle cx="50.3" cy="259.0" r="1.3"/><circle cx="49.9" cy="272.0" r="1.3"/><circle cx="38.4" cy="276.1" r="1.3"/><circle cx="36.3" cy="278.4" r="1.3"/><circle cx="51.4" cy="265.6" r="1.3"/><circle cx="36.1" cy="280.2" r="1.3"/><circle cx="36.1" cy="261.5" r="1.3"/><circle cx="50.9" cy="261.6" r="1.3"/><circle cx="33.0" cy="279.3" r="1.3"/><circle cx="34.6" cy="277.9" r="1.3"/><circle cx="36.2" cy="279.4" r="1.3"/><circle cx="37.8" cy="281.4" r="1.3"/><circle cx="39.3" cy="284.8" r="1.3"/><circle cx="40.9" cy="279.5" r="1.3"/><circle cx="42.5" cy="278.7" r="1.3"/><circle cx="44.1" cy="282.5" r="1.3"/><circle cx="45.7" cy="283.8" r="1.3"/><circle cx="47.3" cy="281.4" r="1.3"/><circle cx="48.9" cy="282.3" r="1.3"/><circle cx="50.5" cy="283.1" r="1.3"/><circle cx="52.0" cy="280.9" r="1.3"/><circle cx="53.6" cy="283.2" r="1.3"/></g>
<path d="M55.6,302.4 L55.6,281.3 L56.2,281.3 L57.0,284.0 L57.8,285.4 L58.6,285.0 L59.4,286.1 L60.3,288.1 L61.1,287.4 L61.9,285.1 L62.7,283.1 L63.5,282.3 L64.3,283.6 L65.1,283.4 L65.9,281.7 L66.7,281.4 L67.5,281.5 L68.3,282.1 L69.1,284.1 L69.9,284.3 L70.7,283.0 L71.5,283.4 L72.3,283.1 L73.1,281.4 L73.9,283.4 L74.7,285.8 L75.6,283.0 L76.4,280.5 L77.2,281.4 L77.8,281.4 L77.8,302.4Z" fill="#e6741f"/>
<g fill="#fff" opacity="0.85"><circle cx="74.2" cy="286.0" r="0.42"/><circle cx="57.3" cy="291.2" r="0.42"/><circle cx="67.9" cy="285.3" r="0.42"/><circle cx="64.2" cy="285.7" r="0.42"/><circle cx="65.3" cy="285.7" r="0.42"/><circle cx="58.8" cy="291.2" r="0.42"/><circle cx="57.8" cy="290.8" r="0.42"/><circle cx="72.4" cy="289.6" r="0.42"/><circle cx="64.5" cy="289.6" r="0.42"/><circle cx="75.2" cy="294.3" r="0.42"/><circle cx="65.4" cy="292.5" r="0.42"/><circle cx="72.5" cy="293.6" r="0.42"/><circle cx="73.7" cy="291.1" r="0.42"/><circle cx="67.7" cy="286.6" r="0.42"/><circle cx="73.9" cy="292.7" r="0.42"/><circle cx="60.8" cy="292.7" r="0.42"/><circle cx="67.0" cy="289.5" r="0.42"/><circle cx="76.2" cy="286.2" r="0.42"/><circle cx="63.8" cy="288.8" r="0.42"/><circle cx="73.0" cy="284.8" r="0.42"/><circle cx="59.4" cy="289.9" r="0.42"/><circle cx="67.9" cy="287.5" r="0.42"/><circle cx="72.9" cy="287.3" r="0.42"/><circle cx="72.0" cy="292.8" r="0.42"/><circle cx="65.7" cy="286.6" r="0.42"/><circle cx="67.0" cy="292.1" r="0.42"/><circle cx="69.6" cy="292.4" r="0.42"/></g>
<g fill="#e6741f"><circle cx="56.3" cy="271.7" r="1.3"/><circle cx="60.0" cy="279.4" r="1.3"/><circle cx="63.7" cy="277.1" r="1.3"/><circle cx="66.1" cy="277.1" r="1.3"/><circle cx="70.6" cy="277.3" r="1.3"/><circle cx="58.6" cy="283.8" r="1.3"/><circle cx="59.4" cy="283.6" r="1.3"/><circle cx="61.9" cy="278.0" r="1.3"/><circle cx="62.9" cy="281.3" r="1.3"/><circle cx="64.0" cy="283.9" r="1.3"/><circle cx="66.6" cy="281.7" r="1.3"/><circle cx="69.3" cy="284.6" r="1.3"/><circle cx="73.1" cy="275.3" r="1.3"/><circle cx="73.7" cy="278.5" r="1.3"/><circle cx="74.9" cy="289.1" r="1.3"/><circle cx="77.3" cy="277.0" r="1.3"/><circle cx="71.4" cy="282.2" r="1.3"/><circle cx="71.6" cy="279.4" r="1.3"/><circle cx="71.3" cy="276.5" r="1.3"/><circle cx="71.4" cy="273.6" r="1.3"/><circle cx="70.1" cy="282.2" r="1.3"/><circle cx="70.1" cy="280.0" r="1.3"/><circle cx="70.0" cy="277.7" r="1.3"/><circle cx="70.3" cy="275.4" r="1.3"/><circle cx="69.7" cy="273.2" r="1.3"/><circle cx="70.3" cy="270.9" r="1.3"/><circle cx="70.4" cy="268.6" r="1.3"/><circle cx="62.1" cy="259.7" r="1.3"/><circle cx="68.4" cy="277.8" r="1.3"/><circle cx="59.6" cy="261.2" r="1.3"/><circle cx="65.5" cy="277.3" r="1.3"/><circle cx="59.6" cy="275.9" r="1.3"/><circle cx="68.3" cy="282.4" r="1.3"/><circle cx="72.0" cy="260.1" r="1.3"/><circle cx="60.0" cy="270.1" r="1.3"/><circle cx="56.2" cy="281.7" r="1.3"/><circle cx="57.8" cy="285.8" r="1.3"/><circle cx="59.4" cy="286.5" r="1.3"/><circle cx="61.1" cy="287.8" r="1.3"/><circle cx="62.7" cy="283.5" r="1.3"/><circle cx="64.3" cy="284.0" r="1.3"/><circle cx="65.9" cy="282.1" r="1.3"/><circle cx="67.5" cy="281.9" r="1.3"/><circle cx="69.1" cy="284.5" r="1.3"/><circle cx="70.7" cy="283.4" r="1.3"/><circle cx="72.3" cy="283.5" r="1.3"/><circle cx="73.9" cy="283.8" r="1.3"/><circle cx="75.6" cy="283.4" r="1.3"/><circle cx="77.2" cy="281.8" r="1.3"/></g>
<path d="M78.9,302.4 L78.9,282.6 L79.5,282.6 L80.3,279.4 L81.1,279.3 L81.9,282.0 L82.7,283.5 L83.5,283.9 L84.3,283.4 L85.1,282.8 L85.9,283.8 L86.7,287.5 L87.5,288.3 L88.3,285.9 L89.1,283.2 L89.9,280.1 L90.8,280.5 L91.6,282.6 L92.4,283.4 L93.2,284.5 L94.0,284.5 L94.8,283.9 L95.6,285.8 L96.4,288.5 L97.0,288.5 L97.0,302.4Z" fill="#2e296e"/>
<g fill="#fff" opacity="0.85"><circle cx="93.6" cy="294.8" r="0.42"/><circle cx="88.3" cy="288.0" r="0.42"/><circle cx="81.3" cy="287.3" r="0.42"/><circle cx="92.3" cy="287.1" r="0.42"/><circle cx="87.6" cy="294.6" r="0.42"/><circle cx="85.4" cy="290.2" r="0.42"/><circle cx="83.6" cy="289.1" r="0.42"/><circle cx="83.8" cy="290.6" r="0.42"/><circle cx="83.0" cy="285.5" r="0.42"/><circle cx="85.3" cy="287.9" r="0.42"/><circle cx="82.4" cy="293.3" r="0.42"/><circle cx="80.6" cy="288.3" r="0.42"/><circle cx="89.3" cy="291.3" r="0.42"/><circle cx="83.9" cy="293.1" r="0.42"/><circle cx="88.2" cy="288.4" r="0.42"/><circle cx="83.0" cy="291.4" r="0.42"/><circle cx="94.2" cy="287.6" r="0.42"/><circle cx="85.5" cy="292.9" r="0.42"/><circle cx="92.2" cy="294.2" r="0.42"/><circle cx="80.4" cy="288.2" r="0.42"/><circle cx="87.6" cy="296.2" r="0.42"/><circle cx="79.8" cy="287.2" r="0.42"/></g>
<g fill="#2e296e"><circle cx="79.7" cy="277.0" r="1.3"/><circle cx="85.7" cy="269.5" r="1.3"/><circle cx="94.9" cy="276.2" r="1.3"/><circle cx="80.3" cy="277.8" r="1.3"/><circle cx="82.6" cy="278.1" r="1.3"/><circle cx="83.3" cy="282.3" r="1.3"/><circle cx="89.2" cy="286.8" r="1.3"/><circle cx="93.0" cy="282.7" r="1.3"/><circle cx="93.8" cy="282.0" r="1.3"/><circle cx="95.3" cy="284.7" r="1.3"/><circle cx="96.2" cy="284.2" r="1.3"/><circle cx="91.5" cy="281.6" r="1.3"/><circle cx="91.2" cy="278.9" r="1.3"/><circle cx="91.4" cy="276.2" r="1.3"/><circle cx="91.6" cy="273.5" r="1.3"/><circle cx="84.4" cy="281.6" r="1.3"/><circle cx="84.9" cy="278.9" r="1.3"/><circle cx="84.9" cy="276.1" r="1.3"/><circle cx="84.7" cy="273.4" r="1.3"/><circle cx="83.2" cy="269.5" r="1.3"/><circle cx="84.3" cy="280.3" r="1.3"/><circle cx="85.8" cy="276.6" r="1.3"/><circle cx="93.5" cy="279.1" r="1.3"/><circle cx="89.6" cy="279.4" r="1.3"/><circle cx="82.7" cy="270.4" r="1.3"/><circle cx="79.5" cy="283.0" r="1.3"/><circle cx="81.1" cy="279.7" r="1.3"/><circle cx="82.7" cy="283.9" r="1.3"/><circle cx="84.3" cy="283.8" r="1.3"/><circle cx="85.9" cy="284.2" r="1.3"/><circle cx="87.5" cy="288.7" r="1.3"/><circle cx="89.1" cy="283.6" r="1.3"/><circle cx="90.8" cy="280.9" r="1.3"/><circle cx="92.4" cy="283.8" r="1.3"/><circle cx="94.0" cy="284.9" r="1.3"/><circle cx="95.6" cy="286.2" r="1.3"/></g>
<path d="M98.6,302.4 L98.6,287.3 L99.2,287.3 L100.0,284.1 L100.8,284.2 L101.6,287.3 L102.3,288.3 L103.1,288.3 L103.9,288.3 L104.7,287.2 L105.5,286.2 L106.3,286.2 L107.1,286.8 L107.9,286.9 L108.6,287.3 L109.4,288.1 L110.2,287.4 L111.0,286.5 L111.8,287.5 L112.6,286.9 L113.4,285.2 L114.2,285.9 L114.9,287.0 L115.5,287.0 L115.5,302.4Z" fill="#e6741f"/>
<g fill="#fff" opacity="0.85"><circle cx="107.1" cy="293.4" r="0.42"/><circle cx="100.7" cy="294.0" r="0.42"/><circle cx="103.9" cy="292.5" r="0.42"/><circle cx="113.7" cy="293.8" r="0.42"/><circle cx="105.5" cy="295.0" r="0.42"/><circle cx="100.1" cy="293.8" r="0.42"/><circle cx="106.8" cy="295.9" r="0.42"/><circle cx="110.5" cy="290.6" r="0.42"/><circle cx="106.5" cy="297.2" r="0.42"/><circle cx="105.4" cy="296.8" r="0.42"/><circle cx="113.5" cy="294.1" r="0.42"/><circle cx="104.1" cy="297.2" r="0.42"/><circle cx="109.5" cy="293.6" r="0.42"/><circle cx="112.2" cy="294.7" r="0.42"/><circle cx="107.2" cy="289.1" r="0.42"/><circle cx="105.5" cy="292.4" r="0.42"/><circle cx="107.2" cy="292.6" r="0.42"/><circle cx="99.9" cy="295.3" r="0.42"/><circle cx="106.1" cy="295.1" r="0.42"/></g>
<g fill="#e6741f"><circle cx="103.8" cy="283.7" r="1.3"/><circle cx="111.3" cy="281.2" r="1.3"/><circle cx="99.9" cy="280.7" r="1.3"/><circle cx="100.6" cy="281.2" r="1.3"/><circle cx="101.5" cy="284.4" r="1.3"/><circle cx="102.8" cy="282.0" r="1.3"/><circle cx="105.7" cy="286.7" r="1.3"/><circle cx="106.3" cy="278.6" r="1.3"/><circle cx="108.0" cy="285.5" r="1.3"/><circle cx="109.7" cy="285.9" r="1.3"/><circle cx="111.6" cy="289.3" r="1.3"/><circle cx="112.6" cy="285.4" r="1.3"/><circle cx="113.3" cy="281.2" r="1.3"/><circle cx="114.8" cy="285.8" r="1.3"/><circle cx="107.9" cy="283.7" r="1.3"/><circle cx="107.5" cy="280.9" r="1.3"/><circle cx="108.2" cy="278.0" r="1.3"/><circle cx="107.6" cy="275.2" r="1.3"/><circle cx="100.5" cy="283.7" r="1.3"/><circle cx="100.7" cy="281.3" r="1.3"/><circle cx="101.2" cy="278.9" r="1.3"/><circle cx="100.8" cy="276.5" r="1.3"/><circle cx="100.9" cy="274.2" r="1.3"/><circle cx="100.7" cy="271.8" r="1.3"/><circle cx="110.5" cy="261.6" r="1.3"/><circle cx="101.0" cy="283.1" r="1.3"/><circle cx="102.4" cy="271.7" r="1.3"/><circle cx="103.9" cy="271.2" r="1.3"/><circle cx="100.8" cy="284.6" r="1.3"/><circle cx="109.1" cy="283.2" r="1.3"/><circle cx="113.5" cy="283.8" r="1.3"/><circle cx="107.1" cy="271.4" r="1.3"/><circle cx="99.2" cy="287.7" r="1.3"/><circle cx="100.8" cy="284.6" r="1.3"/><circle cx="102.3" cy="288.7" r="1.3"/><circle cx="103.9" cy="288.7" r="1.3"/><circle cx="105.5" cy="286.6" r="1.3"/><circle cx="107.1" cy="287.2" r="1.3"/><circle cx="108.6" cy="287.7" r="1.3"/><circle cx="110.2" cy="287.8" r="1.3"/><circle cx="111.8" cy="287.9" r="1.3"/><circle cx="113.4" cy="285.6" r="1.3"/><circle cx="114.9" cy="287.4" r="1.3"/></g>
<path d="M117.2,302.4 L117.2,281.4 L117.8,281.4 L118.7,280.7 L119.5,280.9 L120.3,282.0 L121.1,281.9 L121.9,280.6 L122.8,281.6 L123.6,283.8 L124.4,283.3 L125.2,281.5 L126.0,281.7 L126.8,282.4 L127.7,281.9 L128.5,282.1 L129.3,281.2 L130.1,280.5 L130.9,283.3 L131.8,285.0 L132.6,285.0 L133.4,285.5 L134.0,285.5 L134.0,302.4Z" fill="#2e296e"/>
<g fill="#fff" opacity="0.85"><circle cx="131.3" cy="289.0" r="0.42"/><circle cx="119.5" cy="289.7" r="0.42"/><circle cx="125.9" cy="287.4" r="0.42"/><circle cx="132.6" cy="294.5" r="0.42"/><circle cx="121.9" cy="289.2" r="0.42"/><circle cx="129.6" cy="288.7" r="0.42"/><circle cx="126.9" cy="286.8" r="0.42"/><circle cx="133.1" cy="287.5" r="0.42"/><circle cx="124.8" cy="289.1" r="0.42"/><circle cx="126.4" cy="291.4" r="0.42"/><circle cx="129.3" cy="284.0" r="0.42"/><circle cx="132.9" cy="293.9" r="0.42"/><circle cx="129.9" cy="286.4" r="0.42"/><circle cx="125.6" cy="286.5" r="0.42"/><circle cx="125.3" cy="288.6" r="0.42"/><circle cx="132.5" cy="293.8" r="0.42"/><circle cx="127.4" cy="291.9" r="0.42"/><circle cx="132.8" cy="295.6" r="0.42"/><circle cx="132.6" cy="289.6" r="0.42"/><circle cx="129.9" cy="286.8" r="0.42"/><circle cx="128.2" cy="288.1" r="0.42"/></g>
<g fill="#2e296e"><circle cx="119.7" cy="259.7" r="1.3"/><circle cx="125.8" cy="270.6" r="1.3"/><circle cx="126.5" cy="275.2" r="1.3"/><circle cx="127.9" cy="275.6" r="1.3"/><circle cx="128.7" cy="273.4" r="1.3"/><circle cx="130.8" cy="283.3" r="1.3"/><circle cx="133.2" cy="281.5" r="1.3"/><circle cx="117.8" cy="280.0" r="1.3"/><circle cx="123.3" cy="284.6" r="1.3"/><circle cx="125.4" cy="279.6" r="1.3"/><circle cx="130.3" cy="269.3" r="1.3"/><circle cx="131.9" cy="283.6" r="1.3"/><circle cx="132.7" cy="281.6" r="1.3"/><circle cx="119.3" cy="279.7" r="1.3"/><circle cx="119.5" cy="276.9" r="1.3"/><circle cx="118.9" cy="274.1" r="1.3"/><circle cx="131.7" cy="279.7" r="1.3"/><circle cx="131.5" cy="277.2" r="1.3"/><circle cx="131.3" cy="274.7" r="1.3"/><circle cx="131.3" cy="272.2" r="1.3"/><circle cx="132.1" cy="269.7" r="1.3"/><circle cx="125.9" cy="259.7" r="1.3"/><circle cx="128.1" cy="270.3" r="1.3"/><circle cx="131.7" cy="272.1" r="1.3"/><circle cx="126.5" cy="280.4" r="1.3"/><circle cx="129.3" cy="275.8" r="1.3"/><circle cx="124.5" cy="280.0" r="1.3"/><circle cx="124.7" cy="277.4" r="1.3"/><circle cx="129.8" cy="280.6" r="1.3"/><circle cx="117.8" cy="281.8" r="1.3"/><circle cx="119.5" cy="281.3" r="1.3"/><circle cx="121.1" cy="282.3" r="1.3"/><circle cx="122.8" cy="282.0" r="1.3"/><circle cx="124.4" cy="283.7" r="1.3"/><circle cx="126.0" cy="282.1" r="1.3"/><circle cx="127.7" cy="282.3" r="1.3"/><circle cx="129.3" cy="281.6" r="1.3"/><circle cx="130.9" cy="283.7" r="1.3"/><circle cx="132.6" cy="285.4" r="1.3"/></g>
<path d="M134.8,302.4 L134.8,285.6 L135.4,285.6 L136.2,285.1 L137.0,283.3 L137.8,282.1 L138.6,281.3 L139.5,282.0 L140.3,280.7 L141.1,277.8 L141.9,278.0 L142.7,278.4 L143.5,279.6 L144.3,280.7 L145.2,277.7 L146.0,278.0 L146.8,283.2 L147.6,283.9 L148.4,282.3 L149.2,282.5 L150.0,282.3 L150.6,282.3 L150.6,302.4Z" fill="#e6741f"/>
<g fill="#fff" opacity="0.85"><circle cx="137.0" cy="292.0" r="0.42"/><circle cx="141.3" cy="287.2" r="0.42"/><circle cx="149.0" cy="292.2" r="0.42"/><circle cx="137.7" cy="290.9" r="0.42"/><circle cx="144.7" cy="287.2" r="0.42"/><circle cx="139.3" cy="291.1" r="0.42"/><circle cx="148.2" cy="289.9" r="0.42"/><circle cx="146.4" cy="289.1" r="0.42"/><circle cx="142.9" cy="286.2" r="0.42"/><circle cx="146.2" cy="282.3" r="0.42"/><circle cx="137.9" cy="287.9" r="0.42"/><circle cx="141.3" cy="284.0" r="0.42"/><circle cx="145.3" cy="282.9" r="0.42"/><circle cx="138.1" cy="292.4" r="0.42"/><circle cx="145.9" cy="284.2" r="0.42"/><circle cx="148.8" cy="288.1" r="0.42"/><circle cx="138.1" cy="289.1" r="0.42"/><circle cx="145.7" cy="279.8" r="0.42"/><circle cx="144.1" cy="288.6" r="0.42"/><circle cx="143.3" cy="286.8" r="0.42"/></g>
<g fill="#e6741f"><circle cx="136.4" cy="286.5" r="1.3"/><circle cx="147.6" cy="273.3" r="1.3"/><circle cx="135.4" cy="280.3" r="1.3"/><circle cx="136.9" cy="277.7" r="1.3"/><circle cx="139.4" cy="283.3" r="1.3"/><circle cx="140.0" cy="279.6" r="1.3"/><circle cx="141.3" cy="263.4" r="1.3"/><circle cx="142.9" cy="277.8" r="1.3"/><circle cx="145.0" cy="272.0" r="1.3"/><circle cx="146.7" cy="287.2" r="1.3"/><circle cx="149.0" cy="279.9" r="1.3"/><circle cx="150.2" cy="280.7" r="1.3"/><circle cx="137.7" cy="282.6" r="1.3"/><circle cx="137.7" cy="281.3" r="1.3"/><circle cx="137.7" cy="280.0" r="1.3"/><circle cx="137.5" cy="278.7" r="1.3"/><circle cx="137.3" cy="277.4" r="1.3"/><circle cx="137.2" cy="276.1" r="1.3"/><circle cx="137.8" cy="274.8" r="1.3"/><circle cx="137.5" cy="273.5" r="1.3"/><circle cx="137.6" cy="272.2" r="1.3"/><circle cx="137.3" cy="270.9" r="1.3"/><circle cx="137.4" cy="269.6" r="1.3"/><circle cx="137.4" cy="268.3" r="1.3"/><circle cx="137.6" cy="267.0" r="1.3"/><circle cx="137.5" cy="265.7" r="1.3"/><circle cx="137.0" cy="264.4" r="1.3"/><circle cx="137.2" cy="263.1" r="1.3"/><circle cx="137.3" cy="261.8" r="1.3"/><circle cx="137.7" cy="260.5" r="1.3"/><circle cx="137.2" cy="259.2" r="1.3"/><circle cx="148.8" cy="278.5" r="1.3"/><circle cx="148.6" cy="275.7" r="1.3"/><circle cx="149.0" cy="273.0" r="1.3"/><circle cx="148.6" cy="270.2" r="1.3"/><circle cx="137.7" cy="275.4" r="1.3"/><circle cx="136.5" cy="272.1" r="1.3"/><circle cx="135.7" cy="279.0" r="1.3"/><circle cx="146.7" cy="278.3" r="1.3"/><circle cx="145.8" cy="271.3" r="1.3"/><circle cx="139.5" cy="263.2" r="1.3"/><circle cx="148.6" cy="271.6" r="1.3"/><circle cx="135.4" cy="286.0" r="1.3"/><circle cx="137.0" cy="283.7" r="1.3"/><circle cx="138.6" cy="281.7" r="1.3"/><circle cx="140.3" cy="281.1" r="1.3"/><circle cx="141.9" cy="278.4" r="1.3"/><circle cx="143.5" cy="280.0" r="1.3"/><circle cx="145.2" cy="278.1" r="1.3"/><circle cx="146.8" cy="283.6" r="1.3"/><circle cx="148.4" cy="282.7" r="1.3"/><circle cx="150.0" cy="282.7" r="1.3"/></g>
<path d="M152.2,302.4 L152.2,285.7 L152.8,285.7 L153.6,287.1 L154.4,288.3 L155.2,287.0 L156.0,286.3 L156.7,286.1 L157.5,284.9 L158.3,282.8 L159.1,281.8 L159.9,283.7 L160.6,284.2 L161.4,284.3 L162.2,285.6 L163.0,286.9 L163.8,287.9 L164.5,287.4 L165.3,286.5 L166.1,286.4 L166.7,286.4 L166.7,302.4Z" fill="#2e296e"/>
<g fill="#fff" opacity="0.85"><circle cx="165.7" cy="295.7" r="0.42"/><circle cx="158.6" cy="290.6" r="0.42"/><circle cx="162.0" cy="292.0" r="0.42"/><circle cx="164.3" cy="289.8" r="0.42"/><circle cx="164.5" cy="290.1" r="0.42"/><circle cx="159.5" cy="289.5" r="0.42"/><circle cx="161.6" cy="287.3" r="0.42"/><circle cx="154.4" cy="296.3" r="0.42"/><circle cx="157.2" cy="287.3" r="0.42"/><circle cx="158.5" cy="287.4" r="0.42"/><circle cx="163.4" cy="292.9" r="0.42"/><circle cx="163.8" cy="292.2" r="0.42"/><circle cx="161.2" cy="288.3" r="0.42"/><circle cx="155.5" cy="290.1" r="0.42"/><circle cx="162.3" cy="288.1" r="0.42"/><circle cx="165.1" cy="293.9" r="0.42"/><circle cx="156.3" cy="288.6" r="0.42"/><circle cx="159.3" cy="292.8" r="0.42"/></g>
<g fill="#2e296e"><circle cx="154.3" cy="280.3" r="1.3"/><circle cx="158.1" cy="277.6" r="1.3"/><circle cx="164.6" cy="282.5" r="1.3"/><circle cx="165.6" cy="267.6" r="1.3"/><circle cx="166.3" cy="279.2" r="1.3"/><circle cx="152.7" cy="283.5" r="1.3"/><circle cx="154.9" cy="283.9" r="1.3"/><circle cx="156.0" cy="280.9" r="1.3"/><circle cx="156.5" cy="286.9" r="1.3"/><circle cx="158.9" cy="275.8" r="1.3"/><circle cx="159.6" cy="283.5" r="1.3"/><circle cx="160.7" cy="278.9" r="1.3"/><circle cx="161.4" cy="284.8" r="1.3"/><circle cx="161.9" cy="281.0" r="1.3"/><circle cx="163.7" cy="285.1" r="1.3"/><circle cx="160.1" cy="282.3" r="1.3"/><circle cx="159.8" cy="279.7" r="1.3"/><circle cx="159.8" cy="277.2" r="1.3"/><circle cx="160.6" cy="274.6" r="1.3"/><circle cx="159.9" cy="272.1" r="1.3"/><circle cx="163.7" cy="282.3" r="1.3"/><circle cx="164.4" cy="279.7" r="1.3"/><circle cx="164.2" cy="277.2" r="1.3"/><circle cx="164.2" cy="274.6" r="1.3"/><circle cx="157.1" cy="267.6" r="1.3"/><circle cx="153.1" cy="268.8" r="1.3"/><circle cx="160.2" cy="268.1" r="1.3"/><circle cx="163.7" cy="281.9" r="1.3"/><circle cx="157.4" cy="281.5" r="1.3"/><circle cx="159.9" cy="278.2" r="1.3"/><circle cx="165.4" cy="267.8" r="1.3"/><circle cx="152.8" cy="286.1" r="1.3"/><circle cx="154.4" cy="288.7" r="1.3"/><circle cx="156.0" cy="286.7" r="1.3"/><circle cx="157.5" cy="285.3" r="1.3"/><circle cx="159.1" cy="282.2" r="1.3"/><circle cx="160.6" cy="284.6" r="1.3"/><circle cx="162.2" cy="286.0" r="1.3"/><circle cx="163.8" cy="288.3" r="1.3"/><circle cx="165.3" cy="286.9" r="1.3"/></g>
<path d="M167.4,302.4 L167.4,283.5 L168.0,283.5 L168.8,287.3 L169.5,286.4 L170.3,285.8 L171.1,286.9 L171.9,286.8 L172.7,286.2 L173.4,282.6 L174.2,278.8 L175.0,278.4 L175.8,279.8 L176.6,280.3 L177.3,278.6 L178.1,279.3 L178.9,283.4 L179.7,285.0 L180.4,283.8 L181.0,283.8 L181.0,302.4Z" fill="#e6741f"/>
<g fill="#fff" opacity="0.85"><circle cx="178.9" cy="293.2" r="0.42"/><circle cx="176.9" cy="282.2" r="0.42"/><circle cx="170.6" cy="289.1" r="0.42"/><circle cx="178.1" cy="281.4" r="0.42"/><circle cx="171.4" cy="290.3" r="0.42"/><circle cx="178.2" cy="289.9" r="0.42"/><circle cx="170.1" cy="289.8" r="0.42"/><circle cx="177.6" cy="284.1" r="0.42"/><circle cx="177.1" cy="284.6" r="0.42"/><circle cx="179.5" cy="289.6" r="0.42"/><circle cx="176.4" cy="283.3" r="0.42"/><circle cx="172.1" cy="295.2" r="0.42"/><circle cx="171.4" cy="296.3" r="0.42"/><circle cx="169.1" cy="294.4" r="0.42"/><circle cx="168.9" cy="289.4" r="0.42"/><circle cx="173.4" cy="284.9" r="0.42"/><circle cx="170.5" cy="295.5" r="0.42"/></g>
<g fill="#e6741f"><circle cx="170.2" cy="279.3" r="1.3"/><circle cx="172.1" cy="265.0" r="1.3"/><circle cx="170.9" cy="288.8" r="1.3"/><circle cx="172.8" cy="286.1" r="1.3"/><circle cx="173.5" cy="277.4" r="1.3"/><circle cx="174.0" cy="276.7" r="1.3"/><circle cx="177.2" cy="273.3" r="1.3"/><circle cx="178.3" cy="277.0" r="1.3"/><circle cx="179.2" cy="283.8" r="1.3"/><circle cx="179.7" cy="284.9" r="1.3"/><circle cx="180.7" cy="277.8" r="1.3"/><circle cx="179.4" cy="279.0" r="1.3"/><circle cx="179.4" cy="276.6" r="1.3"/><circle cx="179.4" cy="274.1" r="1.3"/><circle cx="179.2" cy="271.7" r="1.3"/><circle cx="174.8" cy="262.8" r="1.3"/><circle cx="169.3" cy="278.3" r="1.3"/><circle cx="172.1" cy="272.5" r="1.3"/><circle cx="174.7" cy="278.0" r="1.3"/><circle cx="177.7" cy="269.1" r="1.3"/><circle cx="179.2" cy="274.2" r="1.3"/><circle cx="171.6" cy="275.9" r="1.3"/><circle cx="168.0" cy="283.9" r="1.3"/><circle cx="169.5" cy="286.8" r="1.3"/><circle cx="171.1" cy="287.3" r="1.3"/><circle cx="172.7" cy="286.6" r="1.3"/><circle cx="174.2" cy="279.2" r="1.3"/><circle cx="175.8" cy="280.2" r="1.3"/><circle cx="177.3" cy="279.0" r="1.3"/><circle cx="178.9" cy="283.8" r="1.3"/><circle cx="180.4" cy="284.2" r="1.3"/></g>
<path d="M182.7,302.4 L182.7,285.6 L183.3,285.6 L184.2,281.7 L185.0,281.0 L185.8,282.4 L186.6,282.3 L187.4,283.4 L188.2,286.8 L189.0,287.3 L189.8,285.6 L190.6,286.7 L191.5,286.4 L192.3,283.3 L193.1,282.9 L193.9,285.1 L194.7,286.2 L195.5,287.0 L196.1,287.0 L196.1,302.4Z" fill="#2e296e"/>
<g fill="#fff" opacity="0.85"><circle cx="192.0" cy="288.0" r="0.42"/><circle cx="186.7" cy="285.4" r="0.42"/><circle cx="188.8" cy="294.1" r="0.42"/><circle cx="193.1" cy="287.7" r="0.42"/><circle cx="189.7" cy="295.2" r="0.42"/><circle cx="187.5" cy="289.1" r="0.42"/><circle cx="184.1" cy="292.4" r="0.42"/><circle cx="193.1" cy="288.4" r="0.42"/><circle cx="186.8" cy="288.8" r="0.42"/><circle cx="187.8" cy="288.6" r="0.42"/><circle cx="191.4" cy="288.6" r="0.42"/><circle cx="194.1" cy="291.1" r="0.42"/><circle cx="186.5" cy="287.8" r="0.42"/><circle cx="192.8" cy="285.6" r="0.42"/><circle cx="191.0" cy="290.0" r="0.42"/><circle cx="194.0" cy="295.0" r="0.42"/><circle cx="194.7" cy="296.8" r="0.42"/></g>
<g fill="#2e296e"><circle cx="183.9" cy="273.8" r="1.3"/><circle cx="185.2" cy="265.8" r="1.3"/><circle cx="186.0" cy="281.1" r="1.3"/><circle cx="190.6" cy="278.2" r="1.3"/><circle cx="192.4" cy="276.8" r="1.3"/><circle cx="183.6" cy="287.6" r="1.3"/><circle cx="187.7" cy="281.0" r="1.3"/><circle cx="191.3" cy="283.0" r="1.3"/><circle cx="194.7" cy="283.9" r="1.3"/><circle cx="195.2" cy="286.1" r="1.3"/><circle cx="190.1" cy="282.0" r="1.3"/><circle cx="190.4" cy="279.4" r="1.3"/><circle cx="190.5" cy="276.9" r="1.3"/><circle cx="190.3" cy="274.3" r="1.3"/><circle cx="190.5" cy="271.7" r="1.3"/><circle cx="190.5" cy="269.2" r="1.3"/><circle cx="193.9" cy="282.0" r="1.3"/><circle cx="194.1" cy="279.4" r="1.3"/><circle cx="193.7" cy="276.9" r="1.3"/><circle cx="193.7" cy="274.3" r="1.3"/><circle cx="193.6" cy="271.8" r="1.3"/><circle cx="193.8" cy="269.2" r="1.3"/><circle cx="193.9" cy="266.6" r="1.3"/><circle cx="193.3" cy="259.7" r="1.3"/><circle cx="193.3" cy="282.5" r="1.3"/><circle cx="190.4" cy="261.5" r="1.3"/><circle cx="193.1" cy="276.3" r="1.3"/><circle cx="188.2" cy="267.2" r="1.3"/><circle cx="185.1" cy="281.5" r="1.3"/><circle cx="193.0" cy="268.1" r="1.3"/><circle cx="194.8" cy="265.6" r="1.3"/><circle cx="183.3" cy="286.0" r="1.3"/><circle cx="185.0" cy="281.4" r="1.3"/><circle cx="186.6" cy="282.7" r="1.3"/><circle cx="188.2" cy="287.2" r="1.3"/><circle cx="189.8" cy="286.0" r="1.3"/><circle cx="191.5" cy="286.8" r="1.3"/><circle cx="193.1" cy="283.3" r="1.3"/><circle cx="194.7" cy="286.6" r="1.3"/></g>
<path d="M196.8,302.4 L196.8,287.4 L197.4,287.4 L198.2,285.4 L199.0,282.4 L199.8,281.2 L200.6,283.6 L201.4,283.1 L202.2,280.9 L203.0,283.0 L203.8,285.0 L204.6,281.9 L205.4,281.9 L206.3,285.0 L207.1,283.6 L207.9,282.4 L208.7,283.6 L209.3,283.6 L209.3,302.4Z" fill="#e6741f"/>
<g fill="#fff" opacity="0.85"><circle cx="205.7" cy="291.3" r="0.42"/><circle cx="206.0" cy="287.5" r="0.42"/><circle cx="201.9" cy="288.9" r="0.42"/><circle cx="205.6" cy="287.6" r="0.42"/><circle cx="202.0" cy="289.4" r="0.42"/><circle cx="207.4" cy="289.1" r="0.42"/><circle cx="207.5" cy="286.6" r="0.42"/><circle cx="202.8" cy="288.4" r="0.42"/><circle cx="208.4" cy="292.7" r="0.42"/><circle cx="199.5" cy="283.5" r="0.42"/><circle cx="201.1" cy="286.1" r="0.42"/><circle cx="206.9" cy="293.6" r="0.42"/><circle cx="198.6" cy="288.9" r="0.42"/><circle cx="203.0" cy="288.3" r="0.42"/><circle cx="203.1" cy="290.7" r="0.42"/><circle cx="199.4" cy="285.8" r="0.42"/></g>
<g fill="#e6741f"><circle cx="198.7" cy="283.7" r="1.3"/><circle cx="200.7" cy="285.6" r="1.3"/><circle cx="202.2" cy="280.0" r="1.3"/><circle cx="205.6" cy="273.6" r="1.3"/><circle cx="206.8" cy="281.0" r="1.3"/><circle cx="208.7" cy="281.6" r="1.3"/><circle cx="200.5" cy="281.1" r="1.3"/><circle cx="200.5" cy="276.8" r="1.3"/><circle cx="202.9" cy="265.2" r="1.3"/><circle cx="207.5" cy="276.5" r="1.3"/><circle cx="205.6" cy="280.3" r="1.3"/><circle cx="199.6" cy="278.4" r="1.3"/><circle cx="197.7" cy="269.5" r="1.3"/><circle cx="204.9" cy="279.5" r="1.3"/><circle cx="203.0" cy="280.2" r="1.3"/><circle cx="197.4" cy="287.8" r="1.3"/><circle cx="199.0" cy="282.8" r="1.3"/><circle cx="200.6" cy="284.0" r="1.3"/><circle cx="202.2" cy="281.3" r="1.3"/><circle cx="203.8" cy="285.4" r="1.3"/><circle cx="205.4" cy="282.3" r="1.3"/><circle cx="207.1" cy="284.0" r="1.3"/><circle cx="208.7" cy="284.0" r="1.3"/></g>
<path d="M210.6,302.4 L210.6,274.7 L211.2,274.7 L212.0,275.2 L212.7,279.3 L213.5,283.1 L214.3,283.8 L215.1,282.5 L215.9,281.9 L216.7,283.1 L217.5,283.0 L218.3,281.2 L219.1,281.4 L219.9,281.7 L220.7,279.3 L221.4,275.8 L222.2,275.1 L223.0,277.8 L223.6,277.8 L223.6,302.4Z" fill="#2e296e"/>
<g fill="#fff" opacity="0.85"><circle cx="220.9" cy="288.9" r="0.42"/><circle cx="211.6" cy="284.4" r="0.42"/><circle cx="220.9" cy="283.4" r="0.42"/><circle cx="219.2" cy="288.6" r="0.42"/><circle cx="220.2" cy="287.3" r="0.42"/><circle cx="218.6" cy="285.4" r="0.42"/><circle cx="211.5" cy="283.9" r="0.42"/><circle cx="216.0" cy="287.1" r="0.42"/><circle cx="215.8" cy="284.4" r="0.42"/><circle cx="217.7" cy="289.2" r="0.42"/><circle cx="219.1" cy="286.6" r="0.42"/><circle cx="218.2" cy="289.4" r="0.42"/><circle cx="222.7" cy="285.8" r="0.42"/><circle cx="216.4" cy="284.6" r="0.42"/><circle cx="214.7" cy="292.3" r="0.42"/><circle cx="220.0" cy="290.2" r="0.42"/></g>
<g fill="#2e296e"><circle cx="213.0" cy="267.0" r="1.3"/><circle cx="220.4" cy="268.2" r="1.3"/><circle cx="212.2" cy="272.5" r="1.3"/><circle cx="215.2" cy="275.5" r="1.3"/><circle cx="216.0" cy="279.8" r="1.3"/><circle cx="217.7" cy="284.1" r="1.3"/><circle cx="218.3" cy="273.9" r="1.3"/><circle cx="219.2" cy="277.4" r="1.3"/><circle cx="219.6" cy="279.0" r="1.3"/><circle cx="223.3" cy="274.5" r="1.3"/><circle cx="221.4" cy="279.1" r="1.3"/><circle cx="217.7" cy="279.1" r="1.3"/><circle cx="217.7" cy="276.5" r="1.3"/><circle cx="217.9" cy="274.0" r="1.3"/><circle cx="217.4" cy="271.4" r="1.3"/><circle cx="214.3" cy="267.0" r="1.3"/><circle cx="213.0" cy="278.7" r="1.3"/><circle cx="222.6" cy="270.0" r="1.3"/><circle cx="221.4" cy="276.5" r="1.3"/><circle cx="217.7" cy="275.0" r="1.3"/><circle cx="216.3" cy="269.1" r="1.3"/><circle cx="211.2" cy="275.1" r="1.3"/><circle cx="212.7" cy="279.7" r="1.3"/><circle cx="214.3" cy="284.2" r="1.3"/><circle cx="215.9" cy="282.3" r="1.3"/><circle cx="217.5" cy="283.4" r="1.3"/><circle cx="219.1" cy="281.8" r="1.3"/><circle cx="220.7" cy="279.7" r="1.3"/><circle cx="222.2" cy="275.5" r="1.3"/></g>
<path d="M224.3,302.4 L224.3,279.3 L224.9,279.3 L225.7,279.0 L226.5,278.7 L227.3,278.6 L228.1,277.1 L228.9,275.4 L229.7,275.9 L230.5,277.0 L231.3,278.1 L232.1,279.5 L232.9,279.5 L233.7,278.8 L234.5,276.4 L235.3,273.2 L236.1,275.3 L236.9,278.9 L237.5,278.9 L237.5,302.4Z" fill="#e6741f"/>
<g fill="#fff" opacity="0.85"><circle cx="234.4" cy="287.3" r="0.42"/><circle cx="231.2" cy="288.2" r="0.42"/><circle cx="234.8" cy="277.5" r="0.42"/><circle cx="229.2" cy="277.5" r="0.42"/><circle cx="234.7" cy="285.5" r="0.42"/><circle cx="231.9" cy="281.0" r="0.42"/><circle cx="236.0" cy="278.6" r="0.42"/><circle cx="230.5" cy="283.6" r="0.42"/><circle cx="235.6" cy="278.7" r="0.42"/><circle cx="236.4" cy="287.7" r="0.42"/><circle cx="225.2" cy="284.9" r="0.42"/><circle cx="230.9" cy="286.4" r="0.42"/><circle cx="233.6" cy="282.1" r="0.42"/><circle cx="225.4" cy="285.9" r="0.42"/><circle cx="225.6" cy="282.5" r="0.42"/><circle cx="231.6" cy="282.6" r="0.42"/><circle cx="228.5" cy="284.7" r="0.42"/></g>
<g fill="#e6741f"><circle cx="228.1" cy="269.8" r="1.3"/><circle cx="236.2" cy="266.3" r="1.3"/><circle cx="224.9" cy="273.8" r="1.3"/><circle cx="235.5" cy="265.2" r="1.3"/><circle cx="230.4" cy="275.3" r="1.3"/><circle cx="230.0" cy="272.1" r="1.3"/><circle cx="234.4" cy="265.2" r="1.3"/><circle cx="229.8" cy="274.6" r="1.3"/><circle cx="230.6" cy="272.9" r="1.3"/><circle cx="226.0" cy="272.6" r="1.3"/><circle cx="227.3" cy="274.2" r="1.3"/><circle cx="224.9" cy="279.7" r="1.3"/><circle cx="226.5" cy="279.1" r="1.3"/><circle cx="228.1" cy="277.5" r="1.3"/><circle cx="229.7" cy="276.3" r="1.3"/><circle cx="231.3" cy="278.5" r="1.3"/><circle cx="232.9" cy="279.9" r="1.3"/><circle cx="234.5" cy="276.8" r="1.3"/><circle cx="236.1" cy="275.7" r="1.3"/></g>
<path d="M239.4,302.4 L239.4,278.8 L240.0,278.8 L240.8,278.2 L241.5,280.0 L242.3,281.9 L243.1,282.8 L243.9,282.8 L244.7,282.3 L245.5,280.5 L246.3,278.7 L247.1,280.0 L247.9,283.4 L248.6,285.7 L249.2,285.7 L249.2,302.4Z" fill="#2e296e"/>
<g fill="#fff" opacity="0.85"><circle cx="246.1" cy="289.6" r="0.42"/><circle cx="246.8" cy="288.7" r="0.42"/><circle cx="245.9" cy="289.5" r="0.42"/><circle cx="242.9" cy="291.3" r="0.42"/><circle cx="245.9" cy="286.8" r="0.42"/><circle cx="240.5" cy="283.1" r="0.42"/><circle cx="243.3" cy="291.8" r="0.42"/><circle cx="244.0" cy="287.6" r="0.42"/><circle cx="245.4" cy="289.3" r="0.42"/><circle cx="241.6" cy="287.6" r="0.42"/><circle cx="247.7" cy="290.3" r="0.42"/><circle cx="246.0" cy="281.4" r="0.42"/></g>
<g fill="#2e296e"><circle cx="242.4" cy="267.0" r="1.3"/><circle cx="243.3" cy="276.9" r="1.3"/><circle cx="243.6" cy="268.5" r="1.3"/><circle cx="245.4" cy="276.3" r="1.3"/><circle cx="241.3" cy="280.6" r="1.3"/><circle cx="248.2" cy="277.9" r="1.3"/><circle cx="248.1" cy="274.8" r="1.3"/><circle cx="243.1" cy="277.9" r="1.3"/><circle cx="242.9" cy="274.6" r="1.3"/><circle cx="242.2" cy="267.0" r="1.3"/><circle cx="244.6" cy="278.7" r="1.3"/><circle cx="246.0" cy="276.8" r="1.3"/><circle cx="242.6" cy="273.0" r="1.3"/><circle cx="240.7" cy="274.4" r="1.3"/><circle cx="243.8" cy="270.1" r="1.3"/><circle cx="240.0" cy="279.2" r="1.3"/><circle cx="241.5" cy="280.4" r="1.3"/><circle cx="243.1" cy="283.2" r="1.3"/><circle cx="244.7" cy="282.7" r="1.3"/><circle cx="246.3" cy="279.1" r="1.3"/><circle cx="247.9" cy="283.8" r="1.3"/></g>
<path d="M250.9,302.4 L250.9,276.3 L251.5,276.3 L252.4,281.0 L253.2,282.7 L254.0,281.2 L254.8,278.9 L255.7,275.7 L256.5,276.7 L257.3,280.0 L258.1,280.3 L259.0,282.4 L259.8,284.8 L260.6,284.1 L261.2,284.1 L261.2,302.4Z" fill="#e6741f"/>
<g fill="#fff" opacity="0.85"><circle cx="253.3" cy="287.0" r="0.42"/><circle cx="257.2" cy="288.1" r="0.42"/><circle cx="257.2" cy="283.6" r="0.42"/><circle cx="252.4" cy="287.5" r="0.42"/><circle cx="253.1" cy="286.7" r="0.42"/><circle cx="259.5" cy="286.3" r="0.42"/><circle cx="256.1" cy="280.8" r="0.42"/><circle cx="254.7" cy="285.9" r="0.42"/><circle cx="254.4" cy="288.1" r="0.42"/><circle cx="256.6" cy="283.2" r="0.42"/><circle cx="256.0" cy="279.9" r="0.42"/><circle cx="255.8" cy="277.8" r="0.42"/><circle cx="258.4" cy="291.1" r="0.42"/></g>
<g fill="#e6741f"><circle cx="256.7" cy="271.6" r="1.3"/><circle cx="253.9" cy="277.8" r="1.3"/><circle cx="254.7" cy="280.3" r="1.3"/><circle cx="255.9" cy="265.9" r="1.3"/><circle cx="258.4" cy="276.0" r="1.3"/><circle cx="260.5" cy="279.3" r="1.3"/><circle cx="256.5" cy="278.9" r="1.3"/><circle cx="255.9" cy="276.5" r="1.3"/><circle cx="256.3" cy="274.1" r="1.3"/><circle cx="256.5" cy="271.7" r="1.3"/><circle cx="258.0" cy="278.9" r="1.3"/><circle cx="257.7" cy="276.2" r="1.3"/><circle cx="258.0" cy="273.5" r="1.3"/><circle cx="257.9" cy="270.8" r="1.3"/><circle cx="257.8" cy="264.6" r="1.3"/><circle cx="253.7" cy="279.8" r="1.3"/><circle cx="252.0" cy="276.3" r="1.3"/><circle cx="259.3" cy="275.7" r="1.3"/><circle cx="255.7" cy="280.0" r="1.3"/><circle cx="256.5" cy="273.6" r="1.3"/><circle cx="251.5" cy="276.7" r="1.3"/><circle cx="253.2" cy="283.1" r="1.3"/><circle cx="254.8" cy="279.3" r="1.3"/><circle cx="256.5" cy="277.1" r="1.3"/><circle cx="258.1" cy="280.7" r="1.3"/><circle cx="259.8" cy="285.2" r="1.3"/></g>
<path d="M262.6,302.4 L262.6,283.2 L263.2,283.2 L264.0,281.7 L264.8,282.4 L265.6,283.9 L266.4,283.2 L267.2,280.4 L268.0,279.4 L268.8,279.6 L269.6,278.9 L270.4,277.8 L271.2,278.6 L272.0,282.3 L272.6,282.3 L272.6,302.4Z" fill="#2e296e"/>
<g fill="#fff" opacity="0.85"><circle cx="268.3" cy="284.4" r="0.42"/><circle cx="266.6" cy="290.6" r="0.42"/><circle cx="267.3" cy="286.2" r="0.42"/><circle cx="266.2" cy="286.8" r="0.42"/><circle cx="271.6" cy="284.9" r="0.42"/><circle cx="267.7" cy="286.0" r="0.42"/><circle cx="263.7" cy="289.3" r="0.42"/><circle cx="269.5" cy="282.6" r="0.42"/><circle cx="267.9" cy="281.7" r="0.42"/><circle cx="271.3" cy="286.0" r="0.42"/><circle cx="270.8" cy="282.3" r="0.42"/><circle cx="263.6" cy="285.2" r="0.42"/></g>
<g fill="#2e296e"><circle cx="268.8" cy="278.7" r="1.3"/><circle cx="263.4" cy="281.3" r="1.3"/><circle cx="264.7" cy="281.3" r="1.3"/><circle cx="265.6" cy="283.7" r="1.3"/><circle cx="266.7" cy="281.2" r="1.3"/><circle cx="266.9" cy="276.7" r="1.3"/><circle cx="270.6" cy="279.0" r="1.3"/><circle cx="271.9" cy="281.1" r="1.3"/><circle cx="269.1" cy="278.6" r="1.3"/><circle cx="268.4" cy="276.4" r="1.3"/><circle cx="268.3" cy="274.1" r="1.3"/><circle cx="269.3" cy="271.8" r="1.3"/><circle cx="268.6" cy="269.5" r="1.3"/><circle cx="268.5" cy="267.3" r="1.3"/><circle cx="268.7" cy="265.0" r="1.3"/><circle cx="267.2" cy="260.3" r="1.3"/><circle cx="265.0" cy="269.3" r="1.3"/><circle cx="267.2" cy="268.4" r="1.3"/><circle cx="270.9" cy="278.4" r="1.3"/><circle cx="268.1" cy="270.5" r="1.3"/><circle cx="264.0" cy="275.4" r="1.3"/><circle cx="265.2" cy="269.3" r="1.3"/><circle cx="263.2" cy="283.6" r="1.3"/><circle cx="264.8" cy="282.8" r="1.3"/><circle cx="266.4" cy="283.6" r="1.3"/><circle cx="268.0" cy="279.8" r="1.3"/><circle cx="269.6" cy="279.3" r="1.3"/><circle cx="271.2" cy="279.0" r="1.3"/></g>
<path d="M273.2,302.4 L273.2,281.9 L273.8,281.9 L274.5,282.1 L275.3,280.8 L276.1,279.7 L276.8,277.2 L277.6,274.5 L278.4,274.9 L279.1,276.0 L279.9,275.9 L280.7,277.1 L281.4,280.2 L282.0,280.2 L282.0,302.4Z" fill="#e6741f"/>
<g fill="#fff" opacity="0.85"><circle cx="278.7" cy="281.9" r="0.42"/><circle cx="277.1" cy="286.5" r="0.42"/><circle cx="280.6" cy="285.2" r="0.42"/><circle cx="280.7" cy="285.7" r="0.42"/><circle cx="276.2" cy="286.6" r="0.42"/><circle cx="277.1" cy="280.9" r="0.42"/><circle cx="279.9" cy="285.8" r="0.42"/><circle cx="275.9" cy="289.4" r="0.42"/><circle cx="279.1" cy="278.0" r="0.42"/><circle cx="276.1" cy="284.2" r="0.42"/><circle cx="278.5" cy="278.1" r="0.42"/></g>
<g fill="#e6741f"><circle cx="280.0" cy="274.6" r="1.3"/><circle cx="281.2" cy="263.8" r="1.3"/><circle cx="274.7" cy="283.5" r="1.3"/><circle cx="275.1" cy="278.1" r="1.3"/><circle cx="279.0" cy="271.3" r="1.3"/><circle cx="280.5" cy="274.1" r="1.3"/><circle cx="276.0" cy="260.3" r="1.3"/><circle cx="274.3" cy="277.0" r="1.3"/><circle cx="278.4" cy="269.7" r="1.3"/><circle cx="279.7" cy="272.4" r="1.3"/><circle cx="280.7" cy="266.0" r="1.3"/><circle cx="279.8" cy="265.5" r="1.3"/><circle cx="275.1" cy="264.2" r="1.3"/><circle cx="273.8" cy="282.3" r="1.3"/><circle cx="275.3" cy="281.2" r="1.3"/><circle cx="276.8" cy="277.6" r="1.3"/><circle cx="278.4" cy="275.3" r="1.3"/><circle cx="279.9" cy="276.3" r="1.3"/><circle cx="281.4" cy="280.6" r="1.3"/></g>
<path d="M283.1,302.4 L283.1,282.8 L283.7,282.8 L284.5,280.7 L285.3,277.3 L286.1,277.3 L286.9,280.2 L287.7,281.6 L288.5,279.6 L289.3,277.2 L290.1,277.7 L290.9,278.4 L291.5,278.4 L291.5,302.4Z" fill="#2e296e"/>
<g fill="#fff" opacity="0.85"><circle cx="284.4" cy="287.4" r="0.42"/><circle cx="285.5" cy="282.1" r="0.42"/><circle cx="289.8" cy="280.5" r="0.42"/><circle cx="285.8" cy="283.8" r="0.42"/><circle cx="288.1" cy="287.8" r="0.42"/><circle cx="284.5" cy="287.6" r="0.42"/><circle cx="285.8" cy="287.6" r="0.42"/><circle cx="285.2" cy="286.7" r="0.42"/><circle cx="285.4" cy="283.7" r="0.42"/><circle cx="284.9" cy="287.8" r="0.42"/></g>
<g fill="#2e296e"><circle cx="284.0" cy="281.8" r="1.3"/><circle cx="286.2" cy="273.8" r="1.3"/><circle cx="286.9" cy="281.4" r="1.3"/><circle cx="287.4" cy="280.0" r="1.3"/><circle cx="289.3" cy="272.0" r="1.3"/><circle cx="289.9" cy="270.8" r="1.3"/><circle cx="291.0" cy="276.1" r="1.3"/><circle cx="289.4" cy="269.5" r="1.3"/><circle cx="284.1" cy="277.6" r="1.3"/><circle cx="284.5" cy="274.0" r="1.3"/><circle cx="284.8" cy="277.2" r="1.3"/><circle cx="286.0" cy="273.3" r="1.3"/><circle cx="283.7" cy="283.2" r="1.3"/><circle cx="285.3" cy="277.7" r="1.3"/><circle cx="286.9" cy="280.6" r="1.3"/><circle cx="288.5" cy="280.0" r="1.3"/><circle cx="290.1" cy="278.1" r="1.3"/></g>
<path d="M292.8,302.4 L292.8,283.8 L293.4,283.8 L294.2,283.4 L295.0,283.6 L295.8,284.2 L296.6,284.7 L297.4,286.3 L298.2,287.5 L299.0,286.3 L299.8,284.6 L300.4,284.6 L300.4,302.4Z" fill="#e6741f"/>
<g fill="#fff" opacity="0.85"><circle cx="294.3" cy="291.0" r="0.42"/><circle cx="297.0" cy="295.7" r="0.42"/><circle cx="296.7" cy="290.1" r="0.42"/><circle cx="296.0" cy="291.2" r="0.42"/><circle cx="296.6" cy="287.4" r="0.42"/><circle cx="294.3" cy="290.1" r="0.42"/><circle cx="295.1" cy="287.0" r="0.42"/><circle cx="295.7" cy="290.2" r="0.42"/><circle cx="293.9" cy="285.7" r="0.42"/></g>
<g fill="#e6741f"><circle cx="293.1" cy="282.8" r="1.3"/><circle cx="295.0" cy="281.7" r="1.3"/><circle cx="296.5" cy="281.3" r="1.3"/><circle cx="297.3" cy="282.9" r="1.3"/><circle cx="299.0" cy="285.8" r="1.3"/><circle cx="295.1" cy="271.9" r="1.3"/><circle cx="295.5" cy="277.2" r="1.3"/><circle cx="296.9" cy="285.0" r="1.3"/><circle cx="297.8" cy="272.3" r="1.3"/><circle cx="293.7" cy="273.8" r="1.3"/><circle cx="298.1" cy="284.3" r="1.3"/><circle cx="293.4" cy="284.2" r="1.3"/><circle cx="295.0" cy="284.0" r="1.3"/><circle cx="296.6" cy="285.1" r="1.3"/><circle cx="298.2" cy="287.9" r="1.3"/><circle cx="299.8" cy="285.0" r="1.3"/></g>
<path d="M301.1,302.4 L301.1,269.9 L301.7,269.9 L302.5,274.0 L303.3,275.7 L304.1,275.2 L304.9,274.9 L305.7,275.5 L306.5,276.3 L307.3,275.3 L308.1,273.6 L308.7,273.6 L308.7,302.4Z" fill="#2e296e"/>
<g fill="#fff" opacity="0.85"><circle cx="307.5" cy="283.2" r="0.42"/><circle cx="307.1" cy="281.4" r="0.42"/><circle cx="306.4" cy="282.9" r="0.42"/><circle cx="307.1" cy="278.7" r="0.42"/><circle cx="306.8" cy="279.5" r="0.42"/><circle cx="304.0" cy="279.7" r="0.42"/><circle cx="303.4" cy="278.5" r="0.42"/><circle cx="304.1" cy="281.1" r="0.42"/><circle cx="306.1" cy="284.5" r="0.42"/></g>
<g fill="#2e296e"><circle cx="304.4" cy="267.4" r="1.3"/><circle cx="305.8" cy="268.9" r="1.3"/><circle cx="301.7" cy="265.9" r="1.3"/><circle cx="302.4" cy="265.8" r="1.3"/><circle cx="304.8" cy="273.2" r="1.3"/><circle cx="306.5" cy="274.9" r="1.3"/><circle cx="307.4" cy="272.6" r="1.3"/><circle cx="307.6" cy="274.3" r="1.3"/><circle cx="307.1" cy="273.0" r="1.3"/><circle cx="307.6" cy="271.7" r="1.3"/><circle cx="308.1" cy="270.4" r="1.3"/><circle cx="307.2" cy="269.1" r="1.3"/><circle cx="307.5" cy="267.8" r="1.3"/><circle cx="307.8" cy="266.5" r="1.3"/><circle cx="307.7" cy="265.2" r="1.3"/><circle cx="308.0" cy="263.9" r="1.3"/><circle cx="307.8" cy="262.6" r="1.3"/><circle cx="302.1" cy="265.5" r="1.3"/><circle cx="302.5" cy="271.2" r="1.3"/><circle cx="303.2" cy="271.5" r="1.3"/><circle cx="301.9" cy="263.2" r="1.3"/><circle cx="307.6" cy="265.8" r="1.3"/><circle cx="301.7" cy="270.3" r="1.3"/><circle cx="303.3" cy="276.1" r="1.3"/><circle cx="304.9" cy="275.3" r="1.3"/><circle cx="306.5" cy="276.7" r="1.3"/><circle cx="308.1" cy="274.0" r="1.3"/></g>
<path d="M309.0,302.4 L309.0,267.3 L309.6,267.3 L310.3,272.6 L311.1,277.2 L311.9,276.4 L312.7,275.7 L313.4,274.6 L314.2,274.0 L315.0,276.3 L315.7,276.0 L316.3,276.0 L316.3,302.4Z" fill="#e6741f"/>
<g fill="#fff" opacity="0.85"><circle cx="312.6" cy="286.3" r="0.42"/><circle cx="313.6" cy="281.8" r="0.42"/><circle cx="309.8" cy="275.9" r="0.42"/><circle cx="313.2" cy="285.0" r="0.42"/><circle cx="310.7" cy="284.9" r="0.42"/><circle cx="311.1" cy="281.0" r="0.42"/><circle cx="312.9" cy="282.3" r="0.42"/><circle cx="312.3" cy="280.1" r="0.42"/><circle cx="310.8" cy="280.1" r="0.42"/></g>
<g fill="#e6741f"><circle cx="315.9" cy="266.1" r="1.3"/><circle cx="309.8" cy="265.2" r="1.3"/><circle cx="310.2" cy="270.9" r="1.3"/><circle cx="311.1" cy="278.7" r="1.3"/><circle cx="314.7" cy="279.9" r="1.3"/><circle cx="310.7" cy="262.2" r="1.3"/><circle cx="312.2" cy="275.3" r="1.3"/><circle cx="315.4" cy="267.8" r="1.3"/><circle cx="311.5" cy="269.5" r="1.3"/><circle cx="314.4" cy="266.8" r="1.3"/><circle cx="312.3" cy="274.0" r="1.3"/><circle cx="309.6" cy="267.7" r="1.3"/><circle cx="311.1" cy="277.6" r="1.3"/><circle cx="312.7" cy="276.1" r="1.3"/><circle cx="314.2" cy="274.4" r="1.3"/><circle cx="315.7" cy="276.4" r="1.3"/></g>
<path d="M317.6,302.4 L317.6,285.6 L318.2,285.6 L319.0,285.7 L319.8,285.3 L320.6,285.0 L321.4,284.6 L322.2,282.6 L322.8,282.6 L322.8,302.4Z" fill="#2e296e"/>
<g fill="#fff" opacity="0.85"><circle cx="321.2" cy="290.4" r="0.42"/><circle cx="320.4" cy="291.5" r="0.42"/><circle cx="319.6" cy="291.3" r="0.42"/><circle cx="320.0" cy="288.0" r="0.42"/><circle cx="319.4" cy="292.5" r="0.42"/><circle cx="321.3" cy="288.2" r="0.42"/></g>
<g fill="#2e296e"><circle cx="318.3" cy="276.0" r="1.3"/><circle cx="318.8" cy="278.2" r="1.3"/><circle cx="320.1" cy="284.2" r="1.3"/><circle cx="320.6" cy="282.6" r="1.3"/><circle cx="320.9" cy="263.4" r="1.3"/><circle cx="319.8" cy="275.3" r="1.3"/><circle cx="321.2" cy="274.9" r="1.3"/><circle cx="318.6" cy="281.3" r="1.3"/><circle cx="318.9" cy="277.2" r="1.3"/><circle cx="321.6" cy="276.7" r="1.3"/><circle cx="320.6" cy="284.7" r="1.3"/><circle cx="321.4" cy="281.8" r="1.3"/><circle cx="318.2" cy="286.0" r="1.3"/><circle cx="319.8" cy="285.7" r="1.3"/><circle cx="321.4" cy="285.0" r="1.3"/></g>
<path d="M323.9,302.4 L323.9,279.0 L324.5,279.0 L325.3,281.0 L326.0,281.2 L326.7,278.7 L327.5,279.0 L328.2,281.3 L328.8,281.3 L328.8,302.4Z" fill="#e6741f"/>
<g fill="#fff" opacity="0.85"><circle cx="327.7" cy="284.3" r="0.42"/><circle cx="325.6" cy="284.4" r="0.42"/><circle cx="327.4" cy="282.1" r="0.42"/><circle cx="326.1" cy="286.0" r="0.42"/><circle cx="326.3" cy="291.2" r="0.42"/><circle cx="326.3" cy="283.5" r="0.42"/></g>
<g fill="#e6741f"><circle cx="328.5" cy="279.2" r="1.3"/><circle cx="324.3" cy="267.5" r="1.3"/><circle cx="325.1" cy="274.8" r="1.3"/><circle cx="325.9" cy="263.4" r="1.3"/><circle cx="327.1" cy="265.5" r="1.3"/><circle cx="325.4" cy="270.7" r="1.3"/><circle cx="327.4" cy="277.0" r="1.3"/><circle cx="327.9" cy="267.2" r="1.3"/><circle cx="326.3" cy="275.6" r="1.3"/><circle cx="324.5" cy="279.4" r="1.3"/><circle cx="326.0" cy="281.6" r="1.3"/><circle cx="327.5" cy="279.4" r="1.3"/></g>
<g stroke="#222" stroke-width="0.45" fill="none"><line x1="67.6" y1="37.4" x2="69.6" y2="32.6"/><line x1="42.8" y1="47.4" x2="46" y2="48.4"/><line x1="42.8" y1="57.2" x2="65.3" y2="53.2"/><line x1="42.8" y1="58.3" x2="46" y2="59.4"/><line x1="125.4" y1="17.6" x2="128" y2="15.2"/><line x1="134.8" y1="17.8" x2="139.5" y2="20.6"/><line x1="135.6" y1="25.2" x2="147.5" y2="16.2"/><line x1="131.2" y1="47.6" x2="133.8" y2="46.2"/><line x1="131.8" y1="55" x2="133.8" y2="53.5"/><line x1="162.2" y1="48" x2="164" y2="42.6"/><line x1="135.5" y1="61.6" x2="140.5" y2="58.8"/><line x1="131.5" y1="65" x2="133.8" y2="64.2"/><line x1="135.5" y1="65.5" x2="138.8" y2="63.8"/><line x1="135.5" y1="72.4" x2="139" y2="70.3"/><line x1="135.5" y1="74.5" x2="150.5" y2="71.6"/><line x1="135.5" y1="75.9" x2="146" y2="75.3"/><line x1="147.5" y1="75.4" x2="150.5" y2="77"/><line x1="134" y1="76" x2="136.5" y2="79.5"/><line x1="230" y1="36.4" x2="232" y2="33.9"/><line x1="286.6" y1="37.2" x2="289.4" y2="38.2"/><line x1="300.5" y1="71.6" x2="303.3" y2="70.4"/><line x1="304.5" y1="71.5" x2="308" y2="75"/><line x1="301" y1="80.4" x2="303.5" y2="76.8"/><line x1="274.4" y1="79.5" x2="276.8" y2="76.6"/></g><g fill="#e63c1e"><circle cx="67.4" cy="38.8" r="1.3"/><circle cx="41.7" cy="47.3" r="1.3"/><circle cx="41.8" cy="56.4" r="1.3"/><circle cx="41.8" cy="58.2" r="1.3"/><circle cx="128.6" cy="14.6" r="1.3"/><circle cx="134.8" cy="17.8" r="1.3"/><circle cx="134.8" cy="25.7" r="1.3"/><circle cx="134.8" cy="45.8" r="1.3"/><circle cx="134.8" cy="53" r="1.3"/><circle cx="162" cy="49.2" r="1.3"/><circle cx="134.8" cy="61.2" r="1.3"/><circle cx="134.8" cy="62.4" r="1.3"/><circle cx="134.8" cy="63.6" r="1.3"/><circle cx="134.8" cy="64.8" r="1.3"/><circle cx="134.8" cy="65.9" r="1.3"/><circle cx="134.8" cy="72.4" r="1.3"/><circle cx="134.8" cy="73.6" r="1.3"/><circle cx="134.8" cy="74.8" r="1.3"/><circle cx="134.8" cy="75.9" r="1.3"/><circle cx="146.5" cy="75.1" r="1.3"/><circle cx="232.6" cy="33.3" r="1.3"/><circle cx="290.1" cy="38.4" r="1.3"/><circle cx="304" cy="68.4" r="1.3"/><circle cx="304" cy="70.9" r="1.3"/><circle cx="304" cy="76.5" r="1.3"/><circle cx="277.4" cy="76" r="1.3"/></g><g font-size="5.6" font-style="italic" fill="#1a1a1a" stroke="#1a1a1a" stroke-width="0.12"><text transform="translate(69.1,32.9) scale(0.85,1)">TLK1</text><text transform="translate(46,50.5) scale(0.85,1)">GPR89A</text><text transform="translate(65.3,54.0) scale(0.85,1)">RP11-289I10.2</text><text transform="translate(46,61.8) scale(0.85,1)">POLR3GL</text><text transform="translate(112,20.1) scale(0.85,1)">SLIT3</text><text transform="translate(146.5,16.8) scale(0.85,1)">LSM2</text><text transform="translate(138.9,22.8) scale(0.85,1)">RXRB</text><text transform="translate(119,49.8) scale(0.85,1)">RGL2</text><text transform="translate(114.3,57.1) scale(0.85,1)">GPSM3</text><text transform="translate(163.4,43.4) scale(0.85,1)">DPP6</text><text transform="translate(140,60.3) scale(0.85,1)">WDR46</text><text transform="translate(114.9,66.9) scale(0.85,1)">EHMT2</text><text transform="translate(138.9,66.1) scale(0.85,1)">ATP6V1G2</text><text transform="translate(138.9,72.0) scale(0.85,1)">DXO</text><text transform="translate(150.5,73.1) scale(0.85,1)">RING1</text><text transform="translate(150.5,79.0) scale(0.85,1)">PSMB1</text><text transform="translate(120.8,82.5) scale(0.85,1)">PDCD2</text><text transform="translate(203.8,38.1) scale(0.85,1)">TMEM132D</text><text transform="translate(267.9,39.1) scale(0.85,1)">DLGAP1</text><text transform="translate(288.2,73.6) scale(0.85,1)">SYT5</text><text transform="translate(308.2,77.0) scale(0.85,1)">PRKCG</text><text transform="translate(282,82.7) scale(0.85,1)">PPP6R1</text><text transform="translate(242.7,81.2) scale(0.85,1)">RP11-505K9.1</text></g>
<g stroke="#222" stroke-width="0.45" fill="none"><line x1="415.5" y1="13.8" x2="418.3" y2="11.6"/><line x1="386.2" y1="35.5" x2="388.6" y2="31.8"/><line x1="386.8" y1="37.9" x2="390.5" y2="37.9"/><line x1="386.8" y1="48.2" x2="389.5" y2="48.6"/><line x1="386.8" y1="49.6" x2="413" y2="45.4"/><line x1="386.8" y1="54.6" x2="413" y2="51.6"/><line x1="386.8" y1="58.8" x2="390.3" y2="60.6"/><line x1="423.5" y1="61.8" x2="428.8" y2="63.8"/><line x1="483.5" y1="41" x2="487.5" y2="38.8"/><line x1="483.5" y1="45.5" x2="487.5" y2="45.3"/><line x1="479.3" y1="45.4" x2="482.2" y2="43.3"/><line x1="470.6" y1="51.3" x2="482" y2="46.7"/><line x1="472.8" y1="56.9" x2="482" y2="53.2"/><line x1="483.6" y1="56" x2="485.2" y2="60.6"/><line x1="483.6" y1="66.6" x2="488.6" y2="59.8"/><line x1="478.6" y1="72" x2="482.2" y2="69.6"/><line x1="483.5" y1="69.8" x2="486.4" y2="72"/><line x1="483.5" y1="76.2" x2="500" y2="70.6"/><line x1="481.5" y1="80.4" x2="495" y2="77.3"/><line x1="636.8" y1="25.1" x2="654.8" y2="30.6"/><line x1="656.3" y1="21.6" x2="659" y2="22.4"/><line x1="655" y1="38" x2="659" y2="35.4"/><line x1="660.5" y1="54.5" x2="663.6" y2="54.8"/><line x1="655.3" y1="62.8" x2="659" y2="61.2"/><line x1="660.5" y1="65.8" x2="665" y2="63.1"/><line x1="636.5" y1="62" x2="665" y2="71.2"/><line x1="650.2" y1="70.8" x2="656.2" y2="73.8"/><line x1="653" y1="77.3" x2="659" y2="74"/></g><g fill="#e63c1e"><circle cx="419" cy="11.1" r="1.3"/><circle cx="385.8" cy="35.6" r="1.3"/><circle cx="385.8" cy="36.8" r="1.3"/><circle cx="385.8" cy="38.0" r="1.3"/><circle cx="385.8" cy="47.3" r="1.3"/><circle cx="385.8" cy="48.5" r="1.3"/><circle cx="385.8" cy="49.7" r="1.3"/><circle cx="385.8" cy="54.8" r="1.3"/><circle cx="385.8" cy="58.6" r="1.3"/><circle cx="482.8" cy="40.2" r="1.3"/><circle cx="482.8" cy="41.4" r="1.3"/><circle cx="482.8" cy="42.6" r="1.3"/><circle cx="482.8" cy="43.8" r="1.3"/><circle cx="482.8" cy="45.0" r="1.3"/><circle cx="482.8" cy="46.2" r="1.3"/><circle cx="482.8" cy="47.2" r="1.3"/><circle cx="482.8" cy="52.6" r="1.3"/><circle cx="482.8" cy="55.5" r="1.3"/><circle cx="482.8" cy="66.2" r="1.3"/><circle cx="482.8" cy="68.4" r="1.3"/><circle cx="482.8" cy="69.8" r="1.3"/><circle cx="482.8" cy="76.4" r="1.3"/><circle cx="495.2" cy="77.1" r="1.3"/><circle cx="659.7" cy="22.6" r="1.3"/><circle cx="655.4" cy="30.9" r="1.3"/><circle cx="659.7" cy="35" r="1.3"/><circle cx="659.7" cy="54.3" r="1.3"/><circle cx="659.7" cy="60.9" r="1.3"/><circle cx="659.7" cy="66" r="1.3"/><circle cx="665.3" cy="71.4" r="1.3"/><circle cx="656.5" cy="73.9" r="1.3"/><circle cx="659.7" cy="73.6" r="1.3"/></g><g font-size="5.6" font-style="italic" fill="#1a1a1a" stroke="#1a1a1a" stroke-width="0.12"><text transform="translate(396.3,16.6) scale(0.85,1)">PPP1R7</text><text transform="translate(388.4,32.6) scale(0.85,1)">GNRHR2</text><text transform="translate(390.9,39.9) scale(0.85,1)">RP11-289I10.2</text><text transform="translate(413.1,46.0) scale(0.85,1)">RP11-69F3.2</text><text transform="translate(389.5,50.7) scale(0.85,1)">NBPF25P</text><text transform="translate(413.1,53.6) scale(0.85,1)">PFN1P3</text><text transform="translate(390.1,63.0) scale(0.85,1)">CH17-262O2.1</text><text transform="translate(429,66.3) scale(0.85,1)">CH17-373J23.1</text><text transform="translate(486.9,40.9) scale(0.85,1)">PBX2</text><text transform="translate(487.9,47.3) scale(0.85,1)">DXO</text><text transform="translate(465,47.3) scale(0.85,1)">CLIC1</text><text transform="translate(449.9,53.2) scale(0.85,1)">PRRC2A</text><text transform="translate(449.2,59.0) scale(0.85,1)">SYNGAP1</text><text transform="translate(475.5,63.8) scale(0.85,1)">VARS</text><text transform="translate(488.6,61.3) scale(0.85,1)">STK19</text><text transform="translate(459.1,74.0) scale(0.85,1)">SAPCD1</text><text transform="translate(486.4,74.0) scale(0.85,1)">LSM2</text><text transform="translate(500,71.1) scale(0.85,1)">GPANK1</text><text transform="translate(466,83.5) scale(0.85,1)">PSMB1</text><text transform="translate(605.1,25.4) scale(0.85,1)">CTB-50L17.10</text><text transform="translate(637.8,23.6) scale(0.85,1)">PRKCG</text><text transform="translate(639.3,40.2) scale(0.85,1)">BRSK1</text><text transform="translate(663.8,56.9) scale(0.85,1)">U2AF2</text><text transform="translate(616,63.6) scale(0.85,1)">FRG1CP</text><text transform="translate(636.1,65.1) scale(0.85,1)">PPP6R1</text><text transform="translate(665,65.1) scale(0.85,1)">CNOT2</text><text transform="translate(628.1,72.7) scale(0.85,1)">CCDC124</text><text transform="translate(630.3,79.7) scale(0.85,1)">CCDC106</text></g>
<g stroke="#222" stroke-width="0.45" fill="none"><line x1="46.4" y1="217" x2="50" y2="216.2"/><line x1="46.4" y1="217.6" x2="49.5" y2="221"/><line x1="46.4" y1="232.6" x2="49.5" y2="233"/><line x1="46.4" y1="244.5" x2="47.5" y2="241.5"/><line x1="138.6" y1="209.8" x2="140.8" y2="205"/><line x1="138.8" y1="213.5" x2="143.5" y2="209.5"/><line x1="134.6" y1="214.8" x2="137.6" y2="213.5"/><line x1="138.8" y1="221.4" x2="144" y2="216.5"/><line x1="134.6" y1="227.4" x2="137.6" y2="226"/><line x1="138.8" y1="226.6" x2="143.5" y2="228.3"/><line x1="134.6" y1="234.5" x2="137.5" y2="233.8"/><line x1="138.8" y1="233.6" x2="188" y2="226.8"/><line x1="138.8" y1="235.5" x2="188" y2="228.5"/><line x1="154.2" y1="235.6" x2="157.8" y2="235.8"/><line x1="139.3" y1="246.8" x2="144" y2="246.8"/><line x1="145.5" y1="254.2" x2="149.8" y2="252"/><line x1="195.3" y1="226" x2="198" y2="221.2"/><line x1="287" y1="189" x2="289.8" y2="186.5"/><line x1="303.8" y1="206.8" x2="306.8" y2="207.5"/><line x1="308.3" y1="213.4" x2="312.3" y2="214"/><line x1="266.7" y1="245" x2="271.5" y2="239.4"/><line x1="272" y1="239" x2="274" y2="239"/><line x1="303" y1="237.8" x2="307" y2="235.4"/><line x1="300.5" y1="249.6" x2="307" y2="247.2"/><line x1="294.5" y1="255.4" x2="307" y2="252.2"/></g><g fill="#e63c1e"><circle cx="45.3" cy="217.2" r="1.3"/><circle cx="45.3" cy="232.6" r="1.3"/><circle cx="46.4" cy="245" r="1.3"/><circle cx="138.3" cy="210.4" r="1.3"/><circle cx="138.3" cy="211.6" r="1.3"/><circle cx="138.3" cy="212.8" r="1.3"/><circle cx="138.3" cy="214.2" r="1.3"/><circle cx="138.3" cy="221.8" r="1.3"/><circle cx="138.3" cy="225" r="1.3"/><circle cx="138.3" cy="226.1" r="1.3"/><circle cx="138.3" cy="227.1" r="1.3"/><circle cx="138.3" cy="231.5" r="1.3"/><circle cx="138.3" cy="232.7" r="1.3"/><circle cx="138.3" cy="233.9" r="1.3"/><circle cx="138.3" cy="235.1" r="1.3"/><circle cx="138.3" cy="236.0" r="1.3"/><circle cx="153.1" cy="235.5" r="1.3"/><circle cx="138.2" cy="246.8" r="1.3"/><circle cx="150.4" cy="251.5" r="1.3"/><circle cx="194.9" cy="227.3" r="1.3"/><circle cx="290.4" cy="186" r="1.3"/><circle cx="307.8" cy="207.6" r="1.3"/><circle cx="307.3" cy="213.2" r="1.3"/><circle cx="274.5" cy="239" r="1.3"/><circle cx="281.1" cy="238.2" r="1.3"/><circle cx="266.5" cy="246" r="1.3"/><circle cx="307.7" cy="234.9" r="1.3"/><circle cx="307.7" cy="246.6" r="1.3"/><circle cx="307.7" cy="251.8" r="1.3"/></g><g font-size="5.6" font-style="italic" fill="#1a1a1a" stroke="#1a1a1a" stroke-width="0.12"><text transform="translate(50.2,218.0) scale(0.85,1)">FAM72D</text><text transform="translate(49,224.1) scale(0.85,1)">RBM8A</text><text transform="translate(49.6,235.0) scale(0.85,1)">RP11-403I13.8</text><text transform="translate(47.3,242.0) scale(0.85,1)">TXNIP</text><text transform="translate(140.3,205.4) scale(0.85,1)">C6orf47</text><text transform="translate(143,211.3) scale(0.85,1)">LSM2</text><text transform="translate(112.3,216.8) scale(0.85,1)">SYNGAP1</text><text transform="translate(143.2,217.7) scale(0.85,1)">VARS</text><text transform="translate(120.1,229.6) scale(0.85,1)">VPS52</text><text transform="translate(143.4,230.4) scale(0.85,1)">GNL1,HSPA1A,DAXX</text><text transform="translate(119.9,236.6) scale(0.85,1)">ATAT1</text><text transform="translate(157.8,237.8) scale(0.85,1)">GLCCI1</text><text transform="translate(144.1,248.8) scale(0.85,1)">ABHD16A</text><text transform="translate(130.7,256.7) scale(0.85,1)">PSMB1</text><text transform="translate(197.5,222.0) scale(0.85,1)">TMEM141</text><text transform="translate(267.8,191.3) scale(0.85,1)">TMEM94</text><text transform="translate(288.9,208.4) scale(0.85,1)">TTYH1</text><text transform="translate(312.5,216.1) scale(0.85,1)">TFPT</text><text transform="translate(236.9,240.7) scale(0.85,1)">RP11-509E10.?</text><text transform="translate(271.2,235.9) scale(0.85,1)">SERF2</text><text transform="translate(271.2,246.1) scale(0.85,1)">COX4I1</text><text transform="translate(288.1,240.2) scale(0.85,1)">LENG1</text><text transform="translate(276.4,251.9) scale(0.85,1)">PPP1R12C</text><text transform="translate(272,257.8) scale(0.85,1)">CCDC106</text></g>
<text x="1.5" y="15.7" font-size="15" text-anchor="start" font-weight="bold" font-style="normal" fill="#111" >a</text>
<text x="344.9" y="15.7" font-size="15" text-anchor="start" font-weight="bold" font-style="normal" fill="#111" >b</text>
<text x="1.5" y="185.7" font-size="15" text-anchor="start" font-weight="bold" font-style="normal" fill="#111" >c</text>
<text x="345.8" y="186.6" font-size="15" text-anchor="start" font-weight="bold" font-style="normal" fill="#111" >d</text>
<text x="191.4" y="9.9" font-size="12" text-anchor="middle" font-weight="normal" font-style="normal" fill="#2a2a2a" >Cortex</text>
<text x="507.2" y="9.9" font-size="12" text-anchor="start" font-weight="normal" font-style="normal" fill="#2a2a2a" >Cerebellum</text>
<text x="115.9" y="181.3" font-size="12" text-anchor="start" font-weight="normal" font-style="normal" fill="#2a2a2a" >Cerebellar hemisphere</text>
<text transform="translate(9.20,92.20) rotate(-90)" font-size="8.8" font-style="normal" fill="#222">−</text><text transform="translate(9.20,85.20) rotate(-90)" font-size="8.8" font-style="normal" fill="#222">l</text><text transform="translate(9.20,83.40) rotate(-90)" font-size="8.8" font-style="normal" fill="#222">o</text><text transform="translate(9.20,78.40) rotate(-90)" font-size="8.8" font-style="normal" fill="#222">g</text><text transform="translate(10.90,72.60) rotate(-90)" font-size="6.0" font-style="normal" fill="#222">10</text><text transform="translate(9.20,65.60) rotate(-90)" font-size="9.6" font-style="normal" fill="#222">(</text><text transform="translate(9.20,62.60) rotate(-90)" font-size="8.8" font-style="italic" fill="#222">p</text><text transform="translate(9.20,56.40) rotate(-90)" font-size="9.6" font-style="normal" fill="#222">)</text>
<text transform="translate(351.50,92.20) rotate(-90)" font-size="8.8" font-style="normal" fill="#222">−</text><text transform="translate(351.50,85.20) rotate(-90)" font-size="8.8" font-style="normal" fill="#222">l</text><text transform="translate(351.50,83.40) rotate(-90)" font-size="8.8" font-style="normal" fill="#222">o</text><text transform="translate(351.50,78.40) rotate(-90)" font-size="8.8" font-style="normal" fill="#222">g</text><text transform="translate(353.20,72.60) rotate(-90)" font-size="6.0" font-style="normal" fill="#222">10</text><text transform="translate(351.50,65.60) rotate(-90)" font-size="9.6" font-style="normal" fill="#222">(</text><text transform="translate(351.50,62.60) rotate(-90)" font-size="8.8" font-style="italic" fill="#222">p</text><text transform="translate(351.50,56.40) rotate(-90)" font-size="9.6" font-style="normal" fill="#222">)</text>
<text transform="translate(13.40,259.23) rotate(-90)" font-size="8.8" font-style="normal" fill="#222">−</text><text transform="translate(13.40,251.74) rotate(-90)" font-size="8.8" font-style="normal" fill="#222">l</text><text transform="translate(13.40,249.81) rotate(-90)" font-size="8.8" font-style="normal" fill="#222">o</text><text transform="translate(13.40,244.46) rotate(-90)" font-size="8.8" font-style="normal" fill="#222">g</text><text transform="translate(15.10,238.26) rotate(-90)" font-size="6.0" font-style="normal" fill="#222">10</text><text transform="translate(13.40,230.77) rotate(-90)" font-size="9.6" font-style="normal" fill="#222">(</text><text transform="translate(13.40,227.56) rotate(-90)" font-size="8.8" font-style="italic" fill="#222">p</text><text transform="translate(13.40,220.92) rotate(-90)" font-size="9.6" font-style="normal" fill="#222">)</text>
<line x1="370.2" y1="183.9" x2="370.2" y2="298.9" stroke="#7a7a7a" stroke-width="2"/>
<line x1="369.2" y1="184.9" x2="670.0" y2="184.9" stroke="#7a7a7a" stroke-width="2"/>
<g stroke="#141414" stroke-width="1.1" fill="none">
<line x1="669.4" y1="184.9" x2="669.4" y2="298.95"/>
<line x1="370.2" y1="298.4" x2="669.9499999999999" y2="298.4"/>
<line x1="370.2" y1="200.35" x2="669.4" y2="200.35"/>
<line x1="370.2" y1="226.5" x2="669.4" y2="226.5"/>
<line x1="370.2" y1="241.7" x2="669.4" y2="241.7"/>
<line x1="370.2" y1="257.35" x2="669.4" y2="257.35"/>
<line x1="370.2" y1="283.4" x2="669.4" y2="283.4"/>
<line x1="518.4" y1="184.9" x2="518.4" y2="298.4"/>
</g>
<text transform="translate(444.3,196.6) scale(0.94,1)" font-size="9.8" text-anchor="middle" font-weight="normal" fill="#000">Function</text>
<text transform="translate(593.9,196.6) scale(0.94,1)" font-size="9.8" text-anchor="middle" font-weight="normal" fill="#000">Genes</text>
<text transform="translate(444.3,216.6) scale(0.94,1)" font-size="9.8" text-anchor="middle" font-weight="normal" fill="#000">RNA binding</text>
<text transform="translate(593.9,211.8) scale(0.94,1)" font-size="9.8" text-anchor="middle" font-weight="normal" fill="#000">RBM8A, U2AF2, CCDC124, DXO</text>
<text transform="translate(593.9,222.4) scale(0.94,1)" font-size="9.8" text-anchor="middle" font-weight="normal" fill="#000">WDR46, HSPA1A, LSM2, PRRC2A</text>
<text transform="translate(444.3,237.6) scale(0.94,1)" font-size="9.8" text-anchor="middle" font-weight="normal" fill="#000">Regulation of protein ubiquitination</text>
<text transform="translate(593.9,237.6) scale(0.94,1)" font-size="9.8" text-anchor="middle" font-weight="normal" fill="#000">PRKCG, U2AF2, HSPA1A, DAXX</text>
<text transform="translate(444.3,252.9) scale(0.94,1)" font-size="9.8" text-anchor="middle" font-weight="normal" fill="#000">Chromatin organization</text>
<text transform="translate(593.9,252.9) scale(0.94,1)" font-size="9.8" text-anchor="middle" font-weight="normal" fill="#000">DAXX, RING1, EHMT2, TLK1</text>
<text transform="translate(445.4,268.4) scale(0.94,1)" font-size="9.8" text-anchor="middle" font-weight="normal" fill="#000">Protein phosphorylation</text>
<text transform="translate(439.5,279.0) scale(0.94,1)" font-size="9.8" text-anchor="middle" font-weight="normal" fill="#000">signal transduction</text>
<text transform="translate(593.9,273.6) scale(0.94,1)" font-size="9.8" text-anchor="middle" font-weight="normal" fill="#000">PRKCG, BRSK1, TLK1, STK19</text>
<text transform="translate(444.3,294.1) scale(0.94,1)" font-size="9.8" text-anchor="middle" font-weight="normal" fill="#000">Regulation of DNA replication</text>
<text transform="translate(593.9,294.1) scale(0.94,1)" font-size="9.8" text-anchor="middle" font-weight="normal" fill="#000">TFPT, EHMT2</text>
<text x="57.4" y="349.2" font-size="15" text-anchor="start" font-weight="bold" font-style="normal" fill="#111" >e</text>
<text x="147.2" y="346.1" font-size="10.1" text-anchor="middle" font-weight="normal" font-style="normal" fill="#111" >Control</text>
<text x="196.1" y="340.2" font-size="10.1" text-anchor="middle" font-weight="normal" font-style="normal" fill="#111" >tsu</text>
<text x="196.1" y="351.1" font-size="10.1" text-anchor="middle" font-weight="normal" font-style="normal" fill="#111" >RNAi</text>
<text x="243.7" y="340.2" font-size="10.1" text-anchor="middle" font-weight="normal" font-style="normal" fill="#111" >sli</text>
<text x="243.7" y="351.1" font-size="10.1" text-anchor="middle" font-weight="normal" font-style="normal" fill="#111" >RNAi</text>
<text x="292.8" y="340.2" font-size="10.1" text-anchor="middle" font-weight="normal" font-style="normal" fill="#111" >not3</text>
<text x="292.8" y="351.1" font-size="10.1" text-anchor="middle" font-weight="normal" font-style="normal" fill="#111" >RNAi</text>
<text x="341.8" y="340.2" font-size="10.1" text-anchor="middle" font-weight="normal" font-style="normal" fill="#111" >ValRs</text>
<text x="341.8" y="351.1" font-size="10.1" text-anchor="middle" font-weight="normal" font-style="normal" fill="#111" >RNAi</text>
<text x="402.1" y="340.2" font-size="10.1" text-anchor="middle" font-weight="normal" font-style="normal" fill="#111" >Prosbeta6</text>
<text x="402.1" y="351.1" font-size="10.1" text-anchor="middle" font-weight="normal" font-style="normal" fill="#111" >RNAi</text>
<text x="449" y="340.2" font-size="10.1" text-anchor="middle" font-weight="normal" font-style="normal" fill="#111" >Zfrp8</text>
<text x="449" y="351.1" font-size="10.1" text-anchor="middle" font-weight="normal" font-style="normal" fill="#111" >RNAi</text>
<text x="495" y="340.2" font-size="10.1" text-anchor="middle" font-weight="normal" font-style="normal" fill="#111" >U2af50</text>
<text x="495" y="351.1" font-size="10.1" text-anchor="middle" font-weight="normal" font-style="normal" fill="#111" >RNAi</text>
<text x="544.7" y="340.2" font-size="10.1" text-anchor="middle" font-weight="normal" font-style="normal" fill="#111" >sff</text>
<text x="544.7" y="351.1" font-size="10.1" text-anchor="middle" font-weight="normal" font-style="normal" fill="#111" >RNAi</text>
<text x="591.2" y="340.2" font-size="10.1" text-anchor="middle" font-weight="normal" font-style="normal" fill="#111" >CG6013</text>
<text x="591.2" y="351.1" font-size="10.1" text-anchor="middle" font-weight="normal" font-style="normal" fill="#111" >RNAi</text>
<text x="117.3" y="381.2" font-size="10.1" text-anchor="end" font-weight="normal" font-style="normal" fill="#111" >gmr-GAL4,</text>
<text x="114.8" y="393.0" font-size="9.7" text-anchor="end" fill="#111">UAS-(CGG)<tspan font-size="5.8" dy="3">90</tspan><tspan dy="-3">-EGFP</tspan></text>
<text x="118.6" y="448.4" font-size="10.3" text-anchor="end" font-weight="normal" font-style="normal" fill="#111" >gmr-GAL4</text>
<text x="395.4" y="380.8" font-size="7.3" text-anchor="middle" font-weight="normal" font-style="normal" fill="#111" >No</text>
<text x="395.3" y="389.9" font-size="7.3" text-anchor="middle" font-weight="normal" font-style="normal" fill="#111" >progeny</text>
<defs><pattern id="omm" width="1.9" height="1.65" patternUnits="userSpaceOnUse"><circle cx="0.5" cy="0.5" r="0.42" fill="#fff"/><circle cx="1.45" cy="1.32" r="0.42" fill="#fff"/></pattern><pattern id="omm2" width="2.2" height="1.9" patternUnits="userSpaceOnUse"><circle cx="0.55" cy="0.5" r="0.5" fill="#f8e4cc"/><circle cx="1.65" cy="1.45" r="0.5" fill="#f8e4cc"/></pattern><filter id="blur1" x="-50%" y="-50%" width="200%" height="200%"><feGaussianBlur stdDeviation="0.9"/></filter><filter id="blur05" x="-50%" y="-50%" width="200%" height="200%"><feGaussianBlur stdDeviation="0.45"/></filter><filter id="mottle" x="0" y="0" width="100%" height="100%"><feTurbulence type="fractalNoise" baseFrequency="0.7" numOctaves="2" seed="3"/><feColorMatrix type="matrix" values="0 0 0 0 0  0 0 0 0 0  0 0 0 0 0  0 0 0 -2.2 1.3"/><feComposite in2="SourceGraphic" operator="in"/></filter><linearGradient id="bgshade" x1="0" y1="0" x2="1" y2="1"><stop offset="0" stop-color="#fff" stop-opacity="0.25"/><stop offset="0.5" stop-color="#fff" stop-opacity="0"/><stop offset="1" stop-color="#8a6a40" stop-opacity="0.2"/></linearGradient></defs>
<defs><radialGradient id="egt0" cx="0.45" cy="0.45" r="0.62"><stop offset="0" stop-color="#f4ac78"/><stop offset="0.55" stop-color="#e4622c"/><stop offset="1" stop-color="#c84a22"/></radialGradient><clipPath id="cpt0"><rect x="121.6" y="352.0" width="48.4" height="59.8"/></clipPath><clipPath id="cet0"><path d="M166.9,382.7 L166.5,385.9 L166.1,388.5 L165.5,390.9 L164.8,393.2 L163.9,395.3 L163.0,397.3 L161.9,399.1 L160.8,400.8 L159.6,402.3 L158.2,403.7 L156.8,404.9 L155.4,406.0 L153.8,406.9 L152.2,407.6 L150.5,408.2 L148.7,408.6 L146.7,408.8 L144.4,408.8 L142.0,408.6 L140.1,408.3 L138.3,407.8 L136.6,407.1 L135.1,406.3 L133.6,405.2 L132.2,404.1 L130.9,402.8 L129.7,401.3 L128.5,399.7 L127.5,397.9 L126.6,396.0 L125.8,394.0 L125.1,391.8 L124.6,389.5 L124.1,387.1 L123.8,384.4 L123.7,381.2 L123.7,378.0 L123.9,375.3 L124.2,372.9 L124.6,370.7 L125.2,368.5 L125.9,366.6 L126.8,364.7 L127.8,363.0 L129.0,361.5 L130.3,360.1 L131.8,358.9 L133.4,357.8 L135.1,356.9 L137.0,356.2 L139.0,355.7 L141.1,355.3 L143.4,355.1 L146.2,355.1 L149.1,355.3 L151.4,355.7 L153.5,356.2 L155.4,356.9 L157.2,357.7 L158.9,358.7 L160.4,359.9 L161.8,361.2 L163.0,362.7 L164.1,364.3 L165.0,366.1 L165.7,368.0 L166.3,370.0 L166.7,372.1 L167.0,374.4 L167.1,376.9 L167.1,379.5Z"/></clipPath></defs><g clip-path="url(#cpt0)"><rect x="121.6" y="352.0" width="48.4" height="59.8" fill="#e6cca4"/><rect x="121.6" y="352.0" width="48.4" height="59.8" fill="url(#bgshade)"/><path d="M169.3,382.8 L168.9,386.3 L168.4,389.1 L167.7,391.8 L166.9,394.2 L166.0,396.5 L165.0,398.7 L163.8,400.6 L162.5,402.5 L161.2,404.2 L159.7,405.7 L158.1,407.0 L156.5,408.2 L154.8,409.1 L153.0,409.9 L151.1,410.6 L149.1,411.0 L146.9,411.2 L144.3,411.2 L141.7,411.0 L139.5,410.6 L137.5,410.1 L135.7,409.3 L133.9,408.4 L132.3,407.3 L130.7,406.0 L129.3,404.6 L127.9,403.0 L126.7,401.2 L125.5,399.3 L124.5,397.2 L123.6,395.0 L122.9,392.7 L122.3,390.2 L121.8,387.5 L121.5,384.6 L121.3,381.1 L121.3,377.6 L121.5,374.7 L121.8,372.1 L122.3,369.6 L122.9,367.3 L123.7,365.2 L124.7,363.2 L125.9,361.3 L127.2,359.7 L128.7,358.2 L130.3,356.8 L132.1,355.7 L134.0,354.7 L136.0,353.9 L138.2,353.3 L140.6,352.9 L143.2,352.7 L146.3,352.7 L149.4,352.9 L152.0,353.3 L154.3,353.9 L156.5,354.6 L158.5,355.5 L160.4,356.6 L162.0,357.9 L163.6,359.4 L164.9,361.0 L166.1,362.7 L167.1,364.7 L168.0,366.7 L168.6,368.9 L169.1,371.3 L169.4,373.8 L169.6,376.4 L169.5,379.3Z" fill="#f0dfc0" opacity="0.85" filter="url(#blur1)"/><path d="M126.5,356.8 Q127.6,356.5 131.4,359.1 M128.6,358.8 Q131.8,361.8 132.5,360.8 M165.0,358.3 Q163.2,360.7 161.3,360.8 M166.0,360.9 Q163.6,359.0 161.8,359.3 M124.5,407.8 Q126.7,407.3 130.4,404.9 M124.8,406.4 Q126.1,406.2 129.7,406.9 M166.0,408.8 Q163.8,406.6 162.7,405.4 M164.3,404.7 Q161.5,402.0 158.2,403.2" stroke="#5a4030" stroke-width="0.45" fill="none" opacity="0.55"/><path d="M166.9,382.7 L166.5,385.9 L166.1,388.5 L165.5,390.9 L164.8,393.2 L163.9,395.3 L163.0,397.3 L161.9,399.1 L160.8,400.8 L159.6,402.3 L158.2,403.7 L156.8,404.9 L155.4,406.0 L153.8,406.9 L152.2,407.6 L150.5,408.2 L148.7,408.6 L146.7,408.8 L144.4,408.8 L142.0,408.6 L140.1,408.3 L138.3,407.8 L136.6,407.1 L135.1,406.3 L133.6,405.2 L132.2,404.1 L130.9,402.8 L129.7,401.3 L128.5,399.7 L127.5,397.9 L126.6,396.0 L125.8,394.0 L125.1,391.8 L124.6,389.5 L124.1,387.1 L123.8,384.4 L123.7,381.2 L123.7,378.0 L123.9,375.3 L124.2,372.9 L124.6,370.7 L125.2,368.5 L125.9,366.6 L126.8,364.7 L127.8,363.0 L129.0,361.5 L130.3,360.1 L131.8,358.9 L133.4,357.8 L135.1,356.9 L137.0,356.2 L139.0,355.7 L141.1,355.3 L143.4,355.1 L146.2,355.1 L149.1,355.3 L151.4,355.7 L153.5,356.2 L155.4,356.9 L157.2,357.7 L158.9,358.7 L160.4,359.9 L161.8,361.2 L163.0,362.7 L164.1,364.3 L165.0,366.1 L165.7,368.0 L166.3,370.0 L166.7,372.1 L167.0,374.4 L167.1,376.9 L167.1,379.5Z" fill="url(#egt0)"/><g clip-path="url(#cet0)"><rect x="121.6" y="352.0" width="48.4" height="59.8" fill="#8a1a10" filter="url(#mottle)" opacity="0.12"/><ellipse cx="141" cy="378" rx="7" ry="9" fill="#f6e0c8" opacity="0.65" filter="url(#blur1)"/><rect x="121.6" y="352.0" width="48.4" height="59.8" fill="url(#omm2)" opacity="0.27"/></g></g>
<defs><radialGradient id="egt1" cx="0.45" cy="0.45" r="0.62"><stop offset="0" stop-color="#ec9058"/><stop offset="0.55" stop-color="#dc5e28"/><stop offset="1" stop-color="#b03a1e"/></radialGradient><clipPath id="cpt1"><rect x="172.8" y="352.4" width="48.0" height="59.4"/></clipPath><clipPath id="cet1"><path d="M216.6,382.0 L216.3,385.2 L215.8,387.7 L215.3,390.1 L214.6,392.3 L213.9,394.4 L213.0,396.3 L212.1,398.1 L211.1,399.7 L210.0,401.2 L208.8,402.6 L207.5,403.8 L206.2,404.8 L204.8,405.7 L203.3,406.4 L201.8,407.0 L200.2,407.4 L198.4,407.6 L196.3,407.6 L194.2,407.4 L192.4,407.1 L190.8,406.6 L189.3,406.0 L187.9,405.1 L186.6,404.2 L185.4,403.0 L184.2,401.7 L183.1,400.3 L182.1,398.7 L181.2,397.0 L180.4,395.1 L179.6,393.2 L179.0,391.0 L178.5,388.8 L178.2,386.4 L177.9,383.8 L177.8,380.7 L177.8,377.5 L178.0,374.9 L178.2,372.6 L178.6,370.4 L179.2,368.3 L179.8,366.4 L180.6,364.6 L181.6,362.9 L182.6,361.4 L183.8,360.0 L185.1,358.8 L186.6,357.8 L188.1,356.9 L189.8,356.2 L191.6,355.7 L193.5,355.3 L195.6,355.1 L198.1,355.1 L200.6,355.3 L202.7,355.6 L204.6,356.1 L206.3,356.8 L208.0,357.6 L209.4,358.6 L210.8,359.7 L212.0,361.0 L213.1,362.5 L214.1,364.1 L214.9,365.8 L215.6,367.6 L216.1,369.6 L216.5,371.7 L216.7,373.9 L216.8,376.3 L216.8,378.9Z"/></clipPath></defs><g clip-path="url(#cpt1)"><rect x="172.8" y="352.4" width="48.0" height="59.4" fill="#e6cca4"/><rect x="172.8" y="352.4" width="48.0" height="59.4" fill="url(#bgshade)"/><path d="M219.0,382.1 L218.6,385.5 L218.1,388.3 L217.5,390.9 L216.8,393.3 L216.0,395.6 L215.0,397.7 L214.0,399.6 L212.8,401.4 L211.6,403.1 L210.2,404.5 L208.8,405.9 L207.3,407.0 L205.7,408.0 L204.1,408.7 L202.4,409.3 L200.5,409.8 L198.6,410.0 L196.2,410.0 L193.8,409.8 L191.9,409.5 L190.1,408.9 L188.4,408.2 L186.8,407.3 L185.3,406.2 L183.9,405.0 L182.6,403.6 L181.4,402.0 L180.2,400.3 L179.2,398.4 L178.3,396.4 L177.5,394.2 L176.8,391.9 L176.2,389.5 L175.8,386.9 L175.5,384.0 L175.4,380.6 L175.4,377.2 L175.6,374.3 L175.9,371.8 L176.3,369.3 L176.9,367.1 L177.7,365.0 L178.6,363.0 L179.6,361.2 L180.8,359.6 L182.1,358.1 L183.6,356.8 L185.2,355.6 L187.0,354.7 L188.9,353.9 L190.9,353.3 L193.0,352.9 L195.4,352.7 L198.2,352.7 L201.0,352.9 L203.4,353.3 L205.5,353.8 L207.4,354.5 L209.3,355.5 L210.9,356.5 L212.5,357.8 L213.9,359.2 L215.1,360.8 L216.2,362.5 L217.1,364.4 L217.8,366.4 L218.4,368.5 L218.9,370.8 L219.1,373.3 L219.3,375.9 L219.2,378.7Z" fill="#f0dfc0" opacity="0.85" filter="url(#blur1)"/><path d="M175.3,357.9 Q176.7,360.8 178.5,361.2 M179.6,355.5 Q183.2,355.2 184.4,357.1 M214.2,359.4 Q210.1,359.5 209.0,361.1 M214.9,358.9 Q213.4,360.1 209.7,361.6 M178.6,407.8 Q179.3,411.1 181.8,410.9 M178.9,403.4 Q183.8,400.1 185.1,400.5 M216.3,408.3 Q213.2,406.3 210.6,405.1 M216.8,405.6 Q213.4,404.3 210.6,406.0" stroke="#5a4030" stroke-width="0.45" fill="none" opacity="0.55"/><path d="M216.6,382.0 L216.3,385.2 L215.8,387.7 L215.3,390.1 L214.6,392.3 L213.9,394.4 L213.0,396.3 L212.1,398.1 L211.1,399.7 L210.0,401.2 L208.8,402.6 L207.5,403.8 L206.2,404.8 L204.8,405.7 L203.3,406.4 L201.8,407.0 L200.2,407.4 L198.4,407.6 L196.3,407.6 L194.2,407.4 L192.4,407.1 L190.8,406.6 L189.3,406.0 L187.9,405.1 L186.6,404.2 L185.4,403.0 L184.2,401.7 L183.1,400.3 L182.1,398.7 L181.2,397.0 L180.4,395.1 L179.6,393.2 L179.0,391.0 L178.5,388.8 L178.2,386.4 L177.9,383.8 L177.8,380.7 L177.8,377.5 L178.0,374.9 L178.2,372.6 L178.6,370.4 L179.2,368.3 L179.8,366.4 L180.6,364.6 L181.6,362.9 L182.6,361.4 L183.8,360.0 L185.1,358.8 L186.6,357.8 L188.1,356.9 L189.8,356.2 L191.6,355.7 L193.5,355.3 L195.6,355.1 L198.1,355.1 L200.6,355.3 L202.7,355.6 L204.6,356.1 L206.3,356.8 L208.0,357.6 L209.4,358.6 L210.8,359.7 L212.0,361.0 L213.1,362.5 L214.1,364.1 L214.9,365.8 L215.6,367.6 L216.1,369.6 L216.5,371.7 L216.7,373.9 L216.8,376.3 L216.8,378.9Z" fill="url(#egt1)"/><g clip-path="url(#cet1)"><rect x="172.8" y="352.4" width="48.0" height="59.4" fill="#8a1a10" filter="url(#mottle)" opacity="0.12"/><ellipse cx="201" cy="381" rx="6" ry="8" fill="#f4e0d0" opacity="0.75" filter="url(#blur1)"/><ellipse cx="204" cy="373" rx="2" ry="2" fill="#5a1a1a" opacity="0.9" filter="url(#blur05)"/><ellipse cx="192" cy="385" rx="1.8" ry="1.8" fill="#5a1a1a" opacity="0.9" filter="url(#blur05)"/><ellipse cx="205" cy="389" rx="1.8" ry="1.6" fill="#5a1a1a" opacity="0.9" filter="url(#blur05)"/><ellipse cx="197" cy="397" rx="1.5" ry="1.5" fill="#5a1a1a" opacity="0.9" filter="url(#blur05)"/><rect x="172.8" y="352.4" width="48.0" height="59.4" fill="url(#omm2)" opacity="0.35"/></g></g>
<defs><radialGradient id="egt2" cx="0.45" cy="0.45" r="0.62"><stop offset="0" stop-color="#e07060"/><stop offset="0.55" stop-color="#cc3a3a"/><stop offset="1" stop-color="#a82a30"/></radialGradient><clipPath id="cpt2"><rect x="224.2" y="353.2" width="49.4" height="59.2"/></clipPath><clipPath id="cet2"><path d="M271.1,383.7 L270.7,386.8 L270.3,389.4 L269.7,391.7 L269.0,393.9 L268.1,396.0 L267.2,397.9 L266.1,399.7 L265.0,401.4 L263.7,402.9 L262.4,404.2 L261.0,405.4 L259.5,406.5 L258.0,407.4 L256.3,408.1 L254.6,408.6 L252.8,409.0 L250.9,409.2 L248.5,409.2 L246.1,409.0 L244.2,408.7 L242.4,408.2 L240.7,407.5 L239.1,406.7 L237.6,405.7 L236.2,404.6 L234.9,403.3 L233.7,401.8 L232.6,400.2 L231.5,398.5 L230.6,396.6 L229.8,394.7 L229.1,392.5 L228.6,390.3 L228.1,387.9 L227.8,385.3 L227.7,382.1 L227.7,379.0 L227.9,376.4 L228.2,374.0 L228.6,371.8 L229.2,369.7 L229.9,367.8 L230.8,366.0 L231.8,364.4 L233.0,362.9 L234.3,361.5 L235.8,360.3 L237.4,359.3 L239.2,358.4 L241.0,357.7 L243.0,357.1 L245.2,356.8 L247.5,356.6 L250.3,356.6 L253.1,356.8 L255.5,357.1 L257.6,357.7 L259.5,358.3 L261.3,359.2 L263.0,360.2 L264.5,361.3 L265.9,362.6 L267.1,364.1 L268.2,365.6 L269.1,367.4 L269.9,369.2 L270.5,371.2 L270.9,373.3 L271.2,375.5 L271.3,377.9 L271.3,380.5Z"/></clipPath></defs><g clip-path="url(#cpt2)"><rect x="224.2" y="353.2" width="49.4" height="59.2" fill="#dcbb92"/><rect x="224.2" y="353.2" width="49.4" height="59.2" fill="url(#bgshade)"/><path d="M273.5,383.7 L273.1,387.2 L272.6,390.0 L271.9,392.6 L271.1,395.0 L270.2,397.2 L269.1,399.3 L268.0,401.3 L266.7,403.1 L265.3,404.7 L263.9,406.2 L262.3,407.5 L260.7,408.6 L258.9,409.6 L257.1,410.4 L255.2,411.0 L253.2,411.4 L251.0,411.6 L248.4,411.6 L245.8,411.4 L243.6,411.0 L241.6,410.5 L239.8,409.8 L238.0,408.9 L236.4,407.8 L234.8,406.5 L233.3,405.1 L232.0,403.5 L230.7,401.8 L229.6,399.9 L228.6,397.9 L227.7,395.7 L226.9,393.4 L226.3,391.0 L225.8,388.3 L225.5,385.5 L225.3,382.1 L225.3,378.6 L225.5,375.8 L225.8,373.2 L226.3,370.8 L226.9,368.5 L227.7,366.4 L228.7,364.5 L229.9,362.7 L231.2,361.0 L232.7,359.5 L234.3,358.2 L236.1,357.1 L238.0,356.1 L240.1,355.4 L242.3,354.8 L244.7,354.4 L247.3,354.2 L250.4,354.2 L253.5,354.4 L256.1,354.8 L258.5,355.4 L260.6,356.1 L262.6,357.0 L264.5,358.1 L266.2,359.3 L267.7,360.8 L269.1,362.3 L270.3,364.1 L271.3,366.0 L272.2,368.0 L272.8,370.1 L273.3,372.4 L273.6,374.9 L273.8,377.5 L273.7,380.3Z" fill="#f0dfc0" opacity="0.85" filter="url(#blur1)"/><path d="M230.8,360.6 Q233.7,362.8 235.2,361.3 M228.9,359.0 Q229.9,357.2 232.1,355.8 M268.2,359.9 Q263.4,359.8 261.5,360.3 M269.0,361.9 Q265.5,361.7 264.5,360.1 M228.2,408.5 Q230.9,407.2 231.9,404.7 M227.7,407.2 Q231.2,407.5 231.1,408.9 M267.3,407.6 Q264.9,404.1 263.3,404.4 M267.0,408.7 Q263.5,410.2 261.5,409.1" stroke="#5a4030" stroke-width="0.45" fill="none" opacity="0.55"/><path d="M271.1,383.7 L270.7,386.8 L270.3,389.4 L269.7,391.7 L269.0,393.9 L268.1,396.0 L267.2,397.9 L266.1,399.7 L265.0,401.4 L263.7,402.9 L262.4,404.2 L261.0,405.4 L259.5,406.5 L258.0,407.4 L256.3,408.1 L254.6,408.6 L252.8,409.0 L250.9,409.2 L248.5,409.2 L246.1,409.0 L244.2,408.7 L242.4,408.2 L240.7,407.5 L239.1,406.7 L237.6,405.7 L236.2,404.6 L234.9,403.3 L233.7,401.8 L232.6,400.2 L231.5,398.5 L230.6,396.6 L229.8,394.7 L229.1,392.5 L228.6,390.3 L228.1,387.9 L227.8,385.3 L227.7,382.1 L227.7,379.0 L227.9,376.4 L228.2,374.0 L228.6,371.8 L229.2,369.7 L229.9,367.8 L230.8,366.0 L231.8,364.4 L233.0,362.9 L234.3,361.5 L235.8,360.3 L237.4,359.3 L239.2,358.4 L241.0,357.7 L243.0,357.1 L245.2,356.8 L247.5,356.6 L250.3,356.6 L253.1,356.8 L255.5,357.1 L257.6,357.7 L259.5,358.3 L261.3,359.2 L263.0,360.2 L264.5,361.3 L265.9,362.6 L267.1,364.1 L268.2,365.6 L269.1,367.4 L269.9,369.2 L270.5,371.2 L270.9,373.3 L271.2,375.5 L271.3,377.9 L271.3,380.5Z" fill="url(#egt2)"/><g clip-path="url(#cet2)"><rect x="224.2" y="353.2" width="49.4" height="59.2" fill="#8a1a10" filter="url(#mottle)" opacity="0.22"/><ellipse cx="240" cy="381" rx="9" ry="15" fill="#ecd4c4" opacity="0.8" filter="url(#blur1)"/><ellipse cx="243" cy="376" rx="5" ry="2.5" fill="#3a2a2a" opacity="0.95" filter="url(#blur05)"/><ellipse cx="253" cy="363" rx="3.5" ry="3" fill="#3a2a2a" opacity="0.95" filter="url(#blur05)"/><ellipse cx="248" cy="370" rx="2.5" ry="2" fill="#3a2a2a" opacity="0.9" filter="url(#blur05)"/><ellipse cx="238" cy="385" rx="3" ry="1.5" fill="#3a2a2a" opacity="0.8" filter="url(#blur05)"/><ellipse cx="243" cy="393" rx="2" ry="1.5" fill="#5a2a2a" opacity="0.8" filter="url(#blur05)"/><rect x="224.2" y="353.2" width="49.4" height="59.2" fill="url(#omm2)" opacity="0.5"/></g></g>
<defs><radialGradient id="egt3" cx="0.45" cy="0.45" r="0.62"><stop offset="0" stop-color="#e47050"/><stop offset="0.55" stop-color="#d44630"/><stop offset="1" stop-color="#ae2c24"/></radialGradient><clipPath id="cpt3"><rect x="276.2" y="353.6" width="48.6" height="59.4"/></clipPath><clipPath id="cet3"><path d="M321.7,383.7 L321.3,386.8 L320.9,389.4 L320.3,391.7 L319.6,393.9 L318.7,396.0 L317.8,397.9 L316.7,399.7 L315.6,401.4 L314.3,402.9 L313.0,404.2 L311.6,405.4 L310.1,406.5 L308.6,407.4 L306.9,408.1 L305.2,408.6 L303.4,409.0 L301.5,409.2 L299.1,409.2 L296.7,409.0 L294.8,408.7 L293.0,408.2 L291.3,407.5 L289.7,406.7 L288.2,405.7 L286.8,404.6 L285.5,403.3 L284.3,401.8 L283.2,400.2 L282.1,398.5 L281.2,396.6 L280.4,394.7 L279.7,392.5 L279.2,390.3 L278.7,387.9 L278.4,385.3 L278.3,382.1 L278.3,379.0 L278.5,376.4 L278.8,374.0 L279.2,371.8 L279.8,369.7 L280.5,367.8 L281.4,366.0 L282.4,364.4 L283.6,362.9 L284.9,361.5 L286.4,360.3 L288.0,359.3 L289.8,358.4 L291.6,357.7 L293.6,357.1 L295.8,356.8 L298.1,356.6 L300.9,356.6 L303.7,356.8 L306.1,357.1 L308.2,357.7 L310.1,358.3 L311.9,359.2 L313.6,360.2 L315.1,361.3 L316.5,362.6 L317.7,364.1 L318.8,365.6 L319.7,367.4 L320.5,369.2 L321.1,371.2 L321.5,373.3 L321.8,375.5 L321.9,377.9 L321.9,380.5Z"/></clipPath></defs><g clip-path="url(#cpt3)"><rect x="276.2" y="353.6" width="48.6" height="59.4" fill="#dcbb92"/><rect x="276.2" y="353.6" width="48.6" height="59.4" fill="url(#bgshade)"/><path d="M324.1,383.7 L323.7,387.2 L323.2,390.0 L322.5,392.6 L321.7,395.0 L320.8,397.2 L319.7,399.3 L318.6,401.3 L317.3,403.1 L315.9,404.7 L314.5,406.2 L312.9,407.5 L311.3,408.6 L309.5,409.6 L307.7,410.4 L305.8,411.0 L303.8,411.4 L301.6,411.6 L299.0,411.6 L296.4,411.4 L294.2,411.0 L292.2,410.5 L290.4,409.8 L288.6,408.9 L287.0,407.8 L285.4,406.5 L283.9,405.1 L282.6,403.5 L281.3,401.8 L280.2,399.9 L279.2,397.9 L278.3,395.7 L277.5,393.4 L276.9,391.0 L276.4,388.3 L276.1,385.5 L275.9,382.1 L275.9,378.6 L276.1,375.8 L276.4,373.2 L276.9,370.8 L277.5,368.5 L278.3,366.4 L279.3,364.5 L280.5,362.7 L281.8,361.0 L283.3,359.5 L284.9,358.2 L286.7,357.1 L288.6,356.1 L290.7,355.4 L292.9,354.8 L295.3,354.4 L297.9,354.2 L301.0,354.2 L304.1,354.4 L306.7,354.8 L309.1,355.4 L311.2,356.1 L313.2,357.0 L315.1,358.1 L316.8,359.3 L318.3,360.8 L319.7,362.3 L320.9,364.1 L321.9,366.0 L322.8,368.0 L323.4,370.1 L323.9,372.4 L324.2,374.9 L324.4,377.5 L324.3,380.3Z" fill="#f0dfc0" opacity="0.85" filter="url(#blur1)"/><path d="M283.1,360.2 Q284.8,359.8 289.3,361.3 M279.2,357.3 Q283.5,357.0 285.2,356.7 M321.0,361.9 Q316.7,362.5 315.3,361.2 M321.7,356.8 Q318.0,359.8 316.9,359.3 M279.1,409.2 Q281.3,408.3 283.3,409.1 M281.7,405.3 Q283.5,407.5 287.6,408.8 M318.0,408.0 Q315.9,407.1 313.9,406.9 M319.1,405.7 Q316.8,407.3 314.9,408.5" stroke="#5a4030" stroke-width="0.45" fill="none" opacity="0.55"/><path d="M321.7,383.7 L321.3,386.8 L320.9,389.4 L320.3,391.7 L319.6,393.9 L318.7,396.0 L317.8,397.9 L316.7,399.7 L315.6,401.4 L314.3,402.9 L313.0,404.2 L311.6,405.4 L310.1,406.5 L308.6,407.4 L306.9,408.1 L305.2,408.6 L303.4,409.0 L301.5,409.2 L299.1,409.2 L296.7,409.0 L294.8,408.7 L293.0,408.2 L291.3,407.5 L289.7,406.7 L288.2,405.7 L286.8,404.6 L285.5,403.3 L284.3,401.8 L283.2,400.2 L282.1,398.5 L281.2,396.6 L280.4,394.7 L279.7,392.5 L279.2,390.3 L278.7,387.9 L278.4,385.3 L278.3,382.1 L278.3,379.0 L278.5,376.4 L278.8,374.0 L279.2,371.8 L279.8,369.7 L280.5,367.8 L281.4,366.0 L282.4,364.4 L283.6,362.9 L284.9,361.5 L286.4,360.3 L288.0,359.3 L289.8,358.4 L291.6,357.7 L293.6,357.1 L295.8,356.8 L298.1,356.6 L300.9,356.6 L303.7,356.8 L306.1,357.1 L308.2,357.7 L310.1,358.3 L311.9,359.2 L313.6,360.2 L315.1,361.3 L316.5,362.6 L317.7,364.1 L318.8,365.6 L319.7,367.4 L320.5,369.2 L321.1,371.2 L321.5,373.3 L321.8,375.5 L321.9,377.9 L321.9,380.5Z" fill="url(#egt3)"/><g clip-path="url(#cet3)"><rect x="276.2" y="353.6" width="48.6" height="59.4" fill="#8a1a10" filter="url(#mottle)" opacity="0.22"/><ellipse cx="303" cy="385" rx="7" ry="9" fill="#f0c8c0" opacity="0.35" filter="url(#blur1)"/><ellipse cx="287" cy="373" rx="2.2" ry="2.5" fill="#3a2424" opacity="0.95" filter="url(#blur05)"/><rect x="276.2" y="353.6" width="48.6" height="59.4" fill="url(#omm2)" opacity="0.55"/></g></g>
<defs><radialGradient id="egt4" cx="0.45" cy="0.45" r="0.62"><stop offset="0" stop-color="#cc6050"/><stop offset="0.55" stop-color="#b83040"/><stop offset="1" stop-color="#902030"/></radialGradient><clipPath id="cpt4"><rect x="326.8" y="354.8" width="43.2" height="58.0"/></clipPath><clipPath id="cet4"><path d="M367.7,385.5 L367.4,388.7 L366.9,391.3 L366.4,393.7 L365.8,395.9 L365.0,398.0 L364.2,400.0 L363.3,401.8 L362.3,403.5 L361.2,405.0 L360.0,406.4 L358.8,407.6 L357.5,408.7 L356.1,409.6 L354.7,410.3 L353.1,410.9 L351.6,411.3 L349.8,411.5 L347.8,411.5 L345.7,411.3 L344.0,411.0 L342.4,410.5 L341.0,409.8 L339.6,409.0 L338.3,408.0 L337.1,406.9 L335.9,405.5 L334.9,404.1 L333.9,402.5 L333.0,400.7 L332.2,398.8 L331.5,396.8 L330.9,394.7 L330.4,392.4 L330.1,390.0 L329.8,387.3 L329.7,384.1 L329.7,380.9 L329.9,378.3 L330.1,375.9 L330.5,373.7 L331.0,371.6 L331.7,369.6 L332.5,367.8 L333.4,366.1 L334.4,364.5 L335.6,363.2 L336.9,361.9 L338.3,360.9 L339.8,360.0 L341.5,359.2 L343.2,358.7 L345.1,358.3 L347.1,358.1 L349.6,358.1 L352.1,358.3 L354.1,358.6 L356.0,359.1 L357.7,359.8 L359.3,360.6 L360.7,361.6 L362.1,362.8 L363.3,364.1 L364.3,365.6 L365.3,367.2 L366.1,368.9 L366.7,370.8 L367.2,372.8 L367.6,375.0 L367.8,377.2 L367.9,379.6 L367.9,382.3Z"/></clipPath></defs><g clip-path="url(#cpt4)"><rect x="326.8" y="354.8" width="43.2" height="58.0" fill="#e8ddd0"/><rect x="326.8" y="354.8" width="43.2" height="58.0" fill="url(#bgshade)"/><path d="M370.1,385.5 L369.7,389.0 L369.3,391.9 L368.7,394.5 L367.9,396.9 L367.1,399.2 L366.2,401.3 L365.1,403.3 L364.0,405.2 L362.8,406.8 L361.5,408.3 L360.1,409.7 L358.6,410.8 L357.1,411.8 L355.4,412.6 L353.7,413.2 L352.0,413.6 L350.0,413.9 L347.7,413.9 L345.4,413.7 L343.4,413.3 L341.7,412.8 L340.0,412.1 L338.5,411.2 L337.0,410.1 L335.6,408.8 L334.3,407.4 L333.1,405.8 L332.0,404.0 L331.0,402.1 L330.1,400.1 L329.3,397.9 L328.7,395.6 L328.1,393.1 L327.7,390.4 L327.4,387.5 L327.3,384.1 L327.3,380.6 L327.5,377.7 L327.8,375.1 L328.2,372.6 L328.8,370.3 L329.5,368.2 L330.4,366.2 L331.4,364.4 L332.6,362.7 L333.9,361.2 L335.4,359.9 L337.0,358.7 L338.7,357.7 L340.5,356.9 L342.5,356.3 L344.6,355.9 L346.9,355.7 L349.7,355.7 L352.5,355.9 L354.8,356.3 L356.9,356.8 L358.8,357.6 L360.6,358.5 L362.2,359.6 L363.7,360.8 L365.1,362.3 L366.3,363.9 L367.3,365.6 L368.2,367.5 L369.0,369.6 L369.6,371.8 L370.0,374.1 L370.2,376.6 L370.4,379.2 L370.3,382.1Z" fill="#f0dfc0" opacity="0.85" filter="url(#blur1)"/><path d="M333.3,358.9 Q335.9,361.6 339.8,362.2 M331.7,363.7 Q334.2,361.4 338.1,360.9 M363.8,359.7 Q362.2,360.0 357.7,362.5 M365.0,362.8 Q363.0,362.7 360.0,360.8 M330.3,405.5 Q333.2,404.8 334.7,404.7 M328.8,408.2 Q330.1,407.2 334.6,408.6 M364.6,406.4 Q360.5,404.3 359.5,404.7 M363.6,409.3 Q363.1,411.8 360.5,413.1" stroke="#5a4030" stroke-width="0.45" fill="none" opacity="0.55"/><path d="M367.7,385.5 L367.4,388.7 L366.9,391.3 L366.4,393.7 L365.8,395.9 L365.0,398.0 L364.2,400.0 L363.3,401.8 L362.3,403.5 L361.2,405.0 L360.0,406.4 L358.8,407.6 L357.5,408.7 L356.1,409.6 L354.7,410.3 L353.1,410.9 L351.6,411.3 L349.8,411.5 L347.8,411.5 L345.7,411.3 L344.0,411.0 L342.4,410.5 L341.0,409.8 L339.6,409.0 L338.3,408.0 L337.1,406.9 L335.9,405.5 L334.9,404.1 L333.9,402.5 L333.0,400.7 L332.2,398.8 L331.5,396.8 L330.9,394.7 L330.4,392.4 L330.1,390.0 L329.8,387.3 L329.7,384.1 L329.7,380.9 L329.9,378.3 L330.1,375.9 L330.5,373.7 L331.0,371.6 L331.7,369.6 L332.5,367.8 L333.4,366.1 L334.4,364.5 L335.6,363.2 L336.9,361.9 L338.3,360.9 L339.8,360.0 L341.5,359.2 L343.2,358.7 L345.1,358.3 L347.1,358.1 L349.6,358.1 L352.1,358.3 L354.1,358.6 L356.0,359.1 L357.7,359.8 L359.3,360.6 L360.7,361.6 L362.1,362.8 L363.3,364.1 L364.3,365.6 L365.3,367.2 L366.1,368.9 L366.7,370.8 L367.2,372.8 L367.6,375.0 L367.8,377.2 L367.9,379.6 L367.9,382.3Z" fill="url(#egt4)"/><g clip-path="url(#cet4)"><rect x="326.8" y="354.8" width="43.2" height="58.0" fill="#8a1a10" filter="url(#mottle)" opacity="0.22"/><ellipse cx="351" cy="373" rx="6" ry="7" fill="#30201c" opacity="0.95" filter="url(#blur05)"/><ellipse cx="352" cy="384" rx="5" ry="6" fill="#f0e8e0" opacity="0.95" filter="url(#blur1)"/><ellipse cx="358" cy="386" rx="2.5" ry="4" fill="#30201c" opacity="0.9" filter="url(#blur05)"/><ellipse cx="346" cy="380" rx="2" ry="3" fill="#5a3030" opacity="0.8" filter="url(#blur05)"/><rect x="326.8" y="354.8" width="43.2" height="58.0" fill="url(#omm2)" opacity="0.44999999999999996"/></g></g>
<defs><radialGradient id="egt6" cx="0.45" cy="0.45" r="0.62"><stop offset="0" stop-color="#e06858"/><stop offset="0.55" stop-color="#cc3a32"/><stop offset="1" stop-color="#a82a28"/></radialGradient><clipPath id="cpt6"><rect x="420.4" y="353.4" width="44.4" height="58.6"/></clipPath><clipPath id="cet6"><path d="M464.4,382.9 L464.0,386.1 L463.6,388.8 L462.9,391.2 L462.2,393.5 L461.4,395.6 L460.4,397.6 L459.4,399.4 L458.2,401.1 L456.9,402.7 L455.6,404.1 L454.2,405.3 L452.7,406.4 L451.1,407.3 L449.5,408.0 L447.7,408.6 L445.9,409.0 L443.9,409.2 L441.5,409.2 L439.1,409.0 L437.2,408.7 L435.4,408.2 L433.7,407.5 L432.1,406.6 L430.5,405.6 L429.1,404.4 L427.8,403.1 L426.6,401.6 L425.4,400.0 L424.4,398.2 L423.4,396.3 L422.6,394.3 L421.9,392.1 L421.4,389.8 L420.9,387.3 L420.6,384.6 L420.5,381.4 L420.5,378.1 L420.7,375.5 L421.0,373.0 L421.4,370.8 L422.0,368.6 L422.7,366.6 L423.6,364.8 L424.7,363.1 L425.9,361.5 L427.2,360.2 L428.7,358.9 L430.3,357.8 L432.1,356.9 L434.0,356.2 L436.0,355.7 L438.2,355.3 L440.5,355.1 L443.4,355.1 L446.3,355.3 L448.6,355.7 L450.7,356.2 L452.7,356.9 L454.5,357.7 L456.2,358.7 L457.8,359.9 L459.2,361.3 L460.4,362.8 L461.5,364.4 L462.4,366.2 L463.2,368.1 L463.8,370.1 L464.2,372.3 L464.5,374.6 L464.6,377.0 L464.6,379.7Z"/></clipPath></defs><g clip-path="url(#cpt6)"><rect x="420.4" y="353.4" width="44.4" height="58.6" fill="#dcbb92"/><rect x="420.4" y="353.4" width="44.4" height="58.6" fill="url(#bgshade)"/><path d="M466.8,383.0 L466.4,386.5 L465.9,389.4 L465.2,392.0 L464.4,394.5 L463.5,396.8 L462.4,399.0 L461.2,401.0 L459.9,402.8 L458.5,404.5 L457.1,406.0 L455.5,407.4 L453.8,408.6 L452.1,409.5 L450.2,410.3 L448.3,410.9 L446.3,411.4 L444.1,411.6 L441.4,411.6 L438.8,411.4 L436.6,411.0 L434.6,410.5 L432.7,409.7 L430.9,408.8 L429.3,407.7 L427.7,406.4 L426.2,405.0 L424.8,403.3 L423.6,401.6 L422.4,399.6 L421.4,397.5 L420.5,395.3 L419.7,392.9 L419.1,390.4 L418.6,387.7 L418.3,384.8 L418.1,381.3 L418.1,377.8 L418.3,374.9 L418.6,372.2 L419.1,369.7 L419.7,367.4 L420.6,365.3 L421.6,363.2 L422.7,361.4 L424.1,359.7 L425.6,358.2 L427.2,356.8 L429.0,355.7 L430.9,354.7 L433.0,353.9 L435.3,353.3 L437.7,352.9 L440.3,352.7 L443.5,352.7 L446.7,352.9 L449.2,353.3 L451.6,353.9 L453.8,354.6 L455.8,355.6 L457.7,356.7 L459.4,358.0 L461.0,359.4 L462.4,361.0 L463.6,362.8 L464.6,364.8 L465.5,366.8 L466.1,369.0 L466.6,371.4 L466.9,373.9 L467.1,376.6 L467.0,379.5Z" fill="#f0dfc0" opacity="0.85" filter="url(#blur1)"/><path d="M425.1,357.9 Q429.0,356.9 430.6,354.8 M423.7,362.0 Q424.8,362.4 428.1,359.4 M461.4,359.5 Q460.6,359.4 458.0,356.2 M460.5,360.0 Q458.1,360.0 454.8,362.5 M424.4,403.3 Q426.9,403.3 427.7,401.8 M425.1,405.0 Q426.4,402.4 430.8,403.8 M458.9,404.1 Q458.1,403.5 453.6,400.7 M459.5,405.0 Q458.7,403.9 455.2,406.6" stroke="#5a4030" stroke-width="0.45" fill="none" opacity="0.55"/><path d="M464.4,382.9 L464.0,386.1 L463.6,388.8 L462.9,391.2 L462.2,393.5 L461.4,395.6 L460.4,397.6 L459.4,399.4 L458.2,401.1 L456.9,402.7 L455.6,404.1 L454.2,405.3 L452.7,406.4 L451.1,407.3 L449.5,408.0 L447.7,408.6 L445.9,409.0 L443.9,409.2 L441.5,409.2 L439.1,409.0 L437.2,408.7 L435.4,408.2 L433.7,407.5 L432.1,406.6 L430.5,405.6 L429.1,404.4 L427.8,403.1 L426.6,401.6 L425.4,400.0 L424.4,398.2 L423.4,396.3 L422.6,394.3 L421.9,392.1 L421.4,389.8 L420.9,387.3 L420.6,384.6 L420.5,381.4 L420.5,378.1 L420.7,375.5 L421.0,373.0 L421.4,370.8 L422.0,368.6 L422.7,366.6 L423.6,364.8 L424.7,363.1 L425.9,361.5 L427.2,360.2 L428.7,358.9 L430.3,357.8 L432.1,356.9 L434.0,356.2 L436.0,355.7 L438.2,355.3 L440.5,355.1 L443.4,355.1 L446.3,355.3 L448.6,355.7 L450.7,356.2 L452.7,356.9 L454.5,357.7 L456.2,358.7 L457.8,359.9 L459.2,361.3 L460.4,362.8 L461.5,364.4 L462.4,366.2 L463.2,368.1 L463.8,370.1 L464.2,372.3 L464.5,374.6 L464.6,377.0 L464.6,379.7Z" fill="url(#egt6)"/><g clip-path="url(#cet6)"><rect x="420.4" y="353.4" width="44.4" height="58.6" fill="#8a1a10" filter="url(#mottle)" opacity="0.22"/><ellipse cx="449" cy="366" rx="7" ry="6" fill="#d8884a" opacity="0.7" filter="url(#blur1)"/><ellipse cx="452" cy="376" rx="3" ry="1.5" fill="#3a2020" opacity="0.9" filter="url(#blur05)"/><ellipse cx="449" cy="368" rx="2" ry="1.5" fill="#3a2020" opacity="0.85" filter="url(#blur05)"/><ellipse cx="455" cy="384" rx="2" ry="1.5" fill="#3a2020" opacity="0.85" filter="url(#blur05)"/><rect x="420.4" y="353.4" width="44.4" height="58.6" fill="url(#omm2)" opacity="0.6"/></g></g>
<defs><radialGradient id="egt7" cx="0.45" cy="0.45" r="0.62"><stop offset="0" stop-color="#e67258"/><stop offset="0.55" stop-color="#cc3c32"/><stop offset="1" stop-color="#a82a28"/></radialGradient><clipPath id="cpt7"><rect x="468.2" y="353.4" width="44.2" height="58.6"/></clipPath><clipPath id="cet7"><path d="M511.5,382.6 L511.1,385.8 L510.7,388.4 L510.1,390.8 L509.4,393.1 L508.6,395.1 L507.6,397.1 L506.6,398.9 L505.5,400.6 L504.2,402.1 L502.9,403.5 L501.6,404.8 L500.1,405.8 L498.6,406.7 L496.9,407.4 L495.3,408.0 L493.5,408.4 L491.5,408.6 L489.2,408.6 L486.9,408.4 L485.0,408.1 L483.2,407.6 L481.6,406.9 L480.0,406.1 L478.6,405.1 L477.2,403.9 L475.9,402.6 L474.7,401.1 L473.6,399.5 L472.6,397.7 L471.7,395.9 L470.9,393.8 L470.2,391.7 L469.6,389.4 L469.2,387.0 L468.9,384.3 L468.8,381.1 L468.8,377.9 L469.0,375.3 L469.3,372.9 L469.7,370.6 L470.3,368.5 L471.0,366.5 L471.9,364.7 L472.9,363.0 L474.1,361.5 L475.4,360.1 L476.8,358.9 L478.4,357.8 L480.1,356.9 L481.9,356.2 L483.9,355.7 L486.0,355.3 L488.3,355.1 L491.1,355.1 L493.9,355.3 L496.1,355.6 L498.2,356.2 L500.1,356.8 L501.9,357.7 L503.6,358.7 L505.1,359.9 L506.4,361.2 L507.6,362.7 L508.7,364.3 L509.6,366.0 L510.3,367.9 L510.9,369.9 L511.4,372.1 L511.6,374.3 L511.7,376.8 L511.7,379.4Z"/></clipPath></defs><g clip-path="url(#cpt7)"><rect x="468.2" y="353.4" width="44.2" height="58.6" fill="#dcbb92"/><rect x="468.2" y="353.4" width="44.2" height="58.6" fill="url(#bgshade)"/><path d="M513.9,382.7 L513.5,386.2 L513.0,389.0 L512.3,391.6 L511.5,394.1 L510.6,396.4 L509.6,398.5 L508.4,400.5 L507.2,402.3 L505.8,404.0 L504.4,405.5 L502.9,406.8 L501.2,408.0 L499.5,409.0 L497.7,409.7 L495.9,410.4 L493.9,410.8 L491.7,411.0 L489.1,411.0 L486.5,410.8 L484.4,410.4 L482.5,409.9 L480.6,409.1 L478.9,408.2 L477.3,407.1 L475.7,405.9 L474.3,404.4 L473.0,402.8 L471.7,401.1 L470.6,399.2 L469.6,397.1 L468.7,394.9 L468.0,392.5 L467.3,390.1 L466.9,387.4 L466.6,384.5 L466.4,381.0 L466.4,377.5 L466.6,374.7 L466.9,372.0 L467.4,369.6 L468.0,367.3 L468.8,365.1 L469.8,363.2 L470.9,361.3 L472.2,359.6 L473.7,358.1 L475.3,356.8 L477.0,355.7 L478.9,354.7 L481.0,353.9 L483.2,353.3 L485.5,352.9 L488.1,352.7 L491.2,352.7 L494.3,352.9 L496.8,353.3 L499.1,353.9 L501.2,354.6 L503.2,355.5 L505.1,356.6 L506.7,357.9 L508.2,359.3 L509.6,361.0 L510.8,362.7 L511.8,364.6 L512.6,366.7 L513.2,368.9 L513.7,371.2 L514.0,373.7 L514.2,376.3 L514.1,379.2Z" fill="#f0dfc0" opacity="0.85" filter="url(#blur1)"/><path d="M473.6,360.6 Q477.4,360.4 480.4,363.2 M472.5,356.7 Q475.2,357.6 478.7,357.9 M506.7,357.6 Q505.1,359.2 501.5,357.7 M509.2,356.7 Q506.7,358.9 506.0,359.6 M475.0,406.7 Q476.5,405.3 480.7,406.8 M473.8,406.3 Q477.2,407.9 479.7,410.1 M508.3,404.4 Q505.7,402.6 503.4,401.4 M507.1,405.1 Q506.1,406.3 502.3,406.8" stroke="#5a4030" stroke-width="0.45" fill="none" opacity="0.55"/><path d="M511.5,382.6 L511.1,385.8 L510.7,388.4 L510.1,390.8 L509.4,393.1 L508.6,395.1 L507.6,397.1 L506.6,398.9 L505.5,400.6 L504.2,402.1 L502.9,403.5 L501.6,404.8 L500.1,405.8 L498.6,406.7 L496.9,407.4 L495.3,408.0 L493.5,408.4 L491.5,408.6 L489.2,408.6 L486.9,408.4 L485.0,408.1 L483.2,407.6 L481.6,406.9 L480.0,406.1 L478.6,405.1 L477.2,403.9 L475.9,402.6 L474.7,401.1 L473.6,399.5 L472.6,397.7 L471.7,395.9 L470.9,393.8 L470.2,391.7 L469.6,389.4 L469.2,387.0 L468.9,384.3 L468.8,381.1 L468.8,377.9 L469.0,375.3 L469.3,372.9 L469.7,370.6 L470.3,368.5 L471.0,366.5 L471.9,364.7 L472.9,363.0 L474.1,361.5 L475.4,360.1 L476.8,358.9 L478.4,357.8 L480.1,356.9 L481.9,356.2 L483.9,355.7 L486.0,355.3 L488.3,355.1 L491.1,355.1 L493.9,355.3 L496.1,355.6 L498.2,356.2 L500.1,356.8 L501.9,357.7 L503.6,358.7 L505.1,359.9 L506.4,361.2 L507.6,362.7 L508.7,364.3 L509.6,366.0 L510.3,367.9 L510.9,369.9 L511.4,372.1 L511.6,374.3 L511.7,376.8 L511.7,379.4Z" fill="url(#egt7)"/><g clip-path="url(#cet7)"><rect x="468.2" y="353.4" width="44.2" height="58.6" fill="#8a1a10" filter="url(#mottle)" opacity="0.22"/><ellipse cx="494" cy="382" rx="7" ry="8" fill="#ecc0b0" opacity="0.55" filter="url(#blur1)"/><ellipse cx="501" cy="372" rx="2" ry="2.5" fill="#3a2020" opacity="0.9" filter="url(#blur05)"/><rect x="468.2" y="353.4" width="44.2" height="58.6" fill="url(#omm2)" opacity="0.6"/></g></g>
<defs><radialGradient id="egt8" cx="0.45" cy="0.45" r="0.62"><stop offset="0" stop-color="#cc4a3a"/><stop offset="0.55" stop-color="#b8302a"/><stop offset="1" stop-color="#982020"/></radialGradient><clipPath id="cpt8"><rect x="515.4" y="353.4" width="44.4" height="58.6"/></clipPath><clipPath id="cet8"><path d="M558.9,383.3 L558.5,386.7 L558.1,389.4 L557.5,391.9 L556.8,394.3 L555.9,396.5 L555.0,398.5 L554.0,400.5 L552.8,402.2 L551.6,403.8 L550.3,405.3 L548.9,406.6 L547.5,407.7 L545.9,408.6 L544.3,409.4 L542.7,410.0 L540.9,410.4 L538.9,410.6 L536.6,410.6 L534.3,410.4 L532.4,410.1 L530.7,409.5 L529.0,408.8 L527.5,408.0 L526.0,406.9 L524.6,405.7 L523.3,404.3 L522.1,402.8 L521.0,401.1 L520.0,399.3 L519.1,397.3 L518.3,395.2 L517.7,392.9 L517.1,390.5 L516.7,388.0 L516.4,385.2 L516.3,381.9 L516.3,378.5 L516.5,375.7 L516.8,373.2 L517.2,370.9 L517.8,368.7 L518.5,366.6 L519.4,364.7 L520.4,362.9 L521.6,361.3 L522.9,359.9 L524.3,358.6 L525.9,357.5 L527.6,356.5 L529.4,355.8 L531.4,355.2 L533.5,354.8 L535.8,354.6 L538.6,354.6 L541.4,354.8 L543.6,355.2 L545.7,355.7 L547.6,356.4 L549.4,357.3 L551.0,358.3 L552.5,359.6 L553.9,360.9 L555.1,362.5 L556.1,364.2 L557.0,366.0 L557.8,368.0 L558.3,370.1 L558.8,372.3 L559.0,374.7 L559.1,377.2 L559.1,380.0Z"/></clipPath></defs><g clip-path="url(#cpt8)"><rect x="515.4" y="353.4" width="44.4" height="58.6" fill="#d8b890"/><rect x="515.4" y="353.4" width="44.4" height="58.6" fill="url(#bgshade)"/><path d="M561.3,383.4 L560.9,387.1 L560.4,390.0 L559.7,392.8 L558.9,395.3 L558.0,397.7 L557.0,399.9 L555.8,402.0 L554.6,403.9 L553.2,405.6 L551.8,407.2 L550.2,408.6 L548.6,409.8 L546.9,410.8 L545.1,411.7 L543.2,412.3 L541.3,412.7 L539.1,413.0 L536.5,413.0 L534.0,412.8 L531.8,412.4 L529.9,411.8 L528.1,411.1 L526.3,410.1 L524.7,409.0 L523.2,407.7 L521.7,406.2 L520.4,404.5 L519.2,402.7 L518.1,400.7 L517.1,398.5 L516.2,396.2 L515.4,393.8 L514.8,391.2 L514.4,388.4 L514.1,385.4 L513.9,381.8 L513.9,378.1 L514.1,375.1 L514.4,372.4 L514.9,369.8 L515.5,367.4 L516.3,365.2 L517.3,363.1 L518.4,361.2 L519.7,359.5 L521.2,357.9 L522.8,356.5 L524.6,355.3 L526.5,354.3 L528.5,353.5 L530.7,352.8 L533.0,352.4 L535.6,352.2 L538.7,352.2 L541.7,352.4 L544.3,352.8 L546.6,353.4 L548.7,354.2 L550.7,355.1 L552.5,356.3 L554.2,357.6 L555.7,359.1 L557.0,360.8 L558.2,362.6 L559.2,364.6 L560.0,366.7 L560.7,369.0 L561.1,371.5 L561.4,374.0 L561.6,376.8 L561.5,379.8Z" fill="#f0dfc0" opacity="0.85" filter="url(#blur1)"/><path d="M520.7,359.1 Q524.2,357.5 525.7,357.4 M519.4,362.2 Q521.4,363.7 522.8,366.0 M554.9,356.5 Q554.2,356.1 551.6,354.3 M554.3,361.9 Q551.1,361.3 547.6,359.7 M521.0,407.4 Q523.6,406.9 525.5,409.6 M519.4,406.6 Q520.8,405.2 525.6,405.6 M555.6,409.0 Q555.7,410.5 552.5,411.8 M554.6,405.2 Q551.5,405.3 547.9,402.0" stroke="#5a4030" stroke-width="0.45" fill="none" opacity="0.55"/><path d="M558.9,383.3 L558.5,386.7 L558.1,389.4 L557.5,391.9 L556.8,394.3 L555.9,396.5 L555.0,398.5 L554.0,400.5 L552.8,402.2 L551.6,403.8 L550.3,405.3 L548.9,406.6 L547.5,407.7 L545.9,408.6 L544.3,409.4 L542.7,410.0 L540.9,410.4 L538.9,410.6 L536.6,410.6 L534.3,410.4 L532.4,410.1 L530.7,409.5 L529.0,408.8 L527.5,408.0 L526.0,406.9 L524.6,405.7 L523.3,404.3 L522.1,402.8 L521.0,401.1 L520.0,399.3 L519.1,397.3 L518.3,395.2 L517.7,392.9 L517.1,390.5 L516.7,388.0 L516.4,385.2 L516.3,381.9 L516.3,378.5 L516.5,375.7 L516.8,373.2 L517.2,370.9 L517.8,368.7 L518.5,366.6 L519.4,364.7 L520.4,362.9 L521.6,361.3 L522.9,359.9 L524.3,358.6 L525.9,357.5 L527.6,356.5 L529.4,355.8 L531.4,355.2 L533.5,354.8 L535.8,354.6 L538.6,354.6 L541.4,354.8 L543.6,355.2 L545.7,355.7 L547.6,356.4 L549.4,357.3 L551.0,358.3 L552.5,359.6 L553.9,360.9 L555.1,362.5 L556.1,364.2 L557.0,366.0 L557.8,368.0 L558.3,370.1 L558.8,372.3 L559.0,374.7 L559.1,377.2 L559.1,380.0Z" fill="url(#egt8)"/><g clip-path="url(#cet8)"><rect x="515.4" y="353.4" width="44.4" height="58.6" fill="#8a1a10" filter="url(#mottle)" opacity="0.22"/><ellipse cx="545" cy="378" rx="2.2" ry="3.6" fill="#2a1a1a" opacity="0.95" filter="url(#blur05)"/><rect x="515.4" y="353.4" width="44.4" height="58.6" fill="url(#omm2)" opacity="0.5"/></g></g>
<defs><radialGradient id="egt9" cx="0.45" cy="0.45" r="0.62"><stop offset="0" stop-color="#e0805a"/><stop offset="0.55" stop-color="#cc4a2c"/><stop offset="1" stop-color="#b03828"/></radialGradient><clipPath id="cpt9"><rect x="562.0" y="353.4" width="44.2" height="58.6"/></clipPath><clipPath id="cet9"><path d="M605.7,383.3 L605.3,386.6 L604.9,389.4 L604.3,391.9 L603.7,394.3 L602.9,396.5 L602.0,398.5 L601.0,400.4 L599.9,402.2 L598.8,403.8 L597.5,405.2 L596.2,406.5 L594.9,407.6 L593.4,408.6 L591.9,409.4 L590.3,410.0 L588.6,410.4 L586.8,410.6 L584.6,410.6 L582.4,410.4 L580.6,410.1 L578.9,409.6 L577.4,408.9 L575.9,408.0 L574.5,406.9 L573.2,405.7 L572.0,404.3 L570.9,402.8 L569.8,401.1 L568.9,399.3 L568.0,397.3 L567.3,395.2 L566.7,393.0 L566.2,390.6 L565.8,388.0 L565.5,385.3 L565.4,381.9 L565.4,378.5 L565.6,375.8 L565.9,373.3 L566.3,370.9 L566.8,368.7 L567.5,366.6 L568.3,364.7 L569.3,363.0 L570.4,361.3 L571.7,359.9 L573.0,358.6 L574.5,357.5 L576.1,356.6 L577.9,355.8 L579.7,355.2 L581.7,354.8 L583.9,354.6 L586.5,354.6 L589.2,354.8 L591.3,355.2 L593.3,355.7 L595.1,356.4 L596.7,357.3 L598.3,358.3 L599.7,359.5 L601.0,360.9 L602.1,362.5 L603.1,364.1 L604.0,366.0 L604.7,367.9 L605.2,370.0 L605.6,372.3 L605.8,374.7 L605.9,377.2 L605.9,380.0Z"/></clipPath></defs><g clip-path="url(#cpt9)"><rect x="562.0" y="353.4" width="44.2" height="58.6" fill="#dcbb92"/><rect x="562.0" y="353.4" width="44.2" height="58.6" fill="url(#bgshade)"/><path d="M608.1,383.4 L607.7,387.0 L607.2,390.0 L606.6,392.7 L605.8,395.3 L604.9,397.7 L604.0,399.9 L602.9,402.0 L601.7,403.9 L600.4,405.6 L599.0,407.2 L597.5,408.6 L596.0,409.8 L594.4,410.8 L592.7,411.7 L590.9,412.3 L589.0,412.7 L587.0,413.0 L584.5,413.0 L582.0,412.8 L580.0,412.4 L578.2,411.9 L576.4,411.1 L574.8,410.1 L573.2,409.0 L571.8,407.7 L570.4,406.2 L569.2,404.5 L568.0,402.7 L566.9,400.7 L566.0,398.6 L565.1,396.3 L564.4,393.8 L563.9,391.2 L563.4,388.5 L563.1,385.5 L563.0,381.8 L563.0,378.2 L563.2,375.2 L563.5,372.4 L564.0,369.9 L564.6,367.5 L565.3,365.2 L566.3,363.2 L567.4,361.3 L568.6,359.5 L570.0,357.9 L571.5,356.5 L573.2,355.3 L575.0,354.3 L576.9,353.5 L579.0,352.9 L581.2,352.4 L583.7,352.2 L586.6,352.2 L589.5,352.4 L592.0,352.8 L594.1,353.4 L596.2,354.2 L598.0,355.1 L599.8,356.3 L601.4,357.6 L602.8,359.1 L604.1,360.7 L605.2,362.6 L606.1,364.6 L606.9,366.7 L607.5,369.0 L608.0,371.4 L608.3,374.0 L608.4,376.8 L608.3,379.8Z" fill="#f0dfc0" opacity="0.85" filter="url(#blur1)"/><path d="M564.0,359.5 Q567.0,363.2 570.7,363.4 M568.9,361.8 Q570.4,361.7 573.3,365.0 M600.5,358.8 Q597.0,358.6 594.8,360.8 M602.7,362.0 Q601.5,358.8 597.8,358.9 M565.9,406.6 Q565.9,409.7 569.9,410.3 M564.9,407.5 Q565.5,406.8 568.0,408.1 M604.2,404.7 Q602.7,402.5 597.3,404.2 M602.5,404.2 Q598.9,405.2 595.7,407.2" stroke="#5a4030" stroke-width="0.45" fill="none" opacity="0.55"/><path d="M605.7,383.3 L605.3,386.6 L604.9,389.4 L604.3,391.9 L603.7,394.3 L602.9,396.5 L602.0,398.5 L601.0,400.4 L599.9,402.2 L598.8,403.8 L597.5,405.2 L596.2,406.5 L594.9,407.6 L593.4,408.6 L591.9,409.4 L590.3,410.0 L588.6,410.4 L586.8,410.6 L584.6,410.6 L582.4,410.4 L580.6,410.1 L578.9,409.6 L577.4,408.9 L575.9,408.0 L574.5,406.9 L573.2,405.7 L572.0,404.3 L570.9,402.8 L569.8,401.1 L568.9,399.3 L568.0,397.3 L567.3,395.2 L566.7,393.0 L566.2,390.6 L565.8,388.0 L565.5,385.3 L565.4,381.9 L565.4,378.5 L565.6,375.8 L565.9,373.3 L566.3,370.9 L566.8,368.7 L567.5,366.6 L568.3,364.7 L569.3,363.0 L570.4,361.3 L571.7,359.9 L573.0,358.6 L574.5,357.5 L576.1,356.6 L577.9,355.8 L579.7,355.2 L581.7,354.8 L583.9,354.6 L586.5,354.6 L589.2,354.8 L591.3,355.2 L593.3,355.7 L595.1,356.4 L596.7,357.3 L598.3,358.3 L599.7,359.5 L601.0,360.9 L602.1,362.5 L603.1,364.1 L604.0,366.0 L604.7,367.9 L605.2,370.0 L605.6,372.3 L605.8,374.7 L605.9,377.2 L605.9,380.0Z" fill="url(#egt9)"/><g clip-path="url(#cet9)"><rect x="562.0" y="353.4" width="44.2" height="58.6" fill="#8a1a10" filter="url(#mottle)" opacity="0.22"/><ellipse cx="575" cy="378" rx="5" ry="6" fill="#f0d8c8" opacity="0.6" filter="url(#blur1)"/><ellipse cx="574" cy="382" rx="2.2" ry="4" fill="#2a1a1a" opacity="0.95" filter="url(#blur05)"/><rect x="562.0" y="353.4" width="44.2" height="58.6" fill="url(#omm2)" opacity="0.44999999999999996"/></g></g>
<defs><radialGradient id="egb0" cx="0.45" cy="0.45" r="0.62"><stop offset="0" stop-color="#f47e56"/><stop offset="0.55" stop-color="#e8603a"/><stop offset="1" stop-color="#d44c2e"/></radialGradient><clipPath id="cpb0"><rect x="121.2" y="415.5" width="48.5" height="59.1"/></clipPath><clipPath id="ceb0"><path d="M167.5,444.5 L167.1,447.6 L166.5,450.1 L165.8,452.4 L165.0,454.5 L164.0,456.5 L163.0,458.4 L161.8,460.1 L160.6,461.7 L159.2,463.1 L157.8,464.4 L156.3,465.5 L154.7,466.5 L153.1,467.3 L151.3,467.9 L149.5,468.4 L147.6,468.7 L145.6,468.8 L143.1,468.7 L140.6,468.5 L138.6,468.1 L136.8,467.5 L135.0,466.8 L133.4,465.9 L131.9,464.9 L130.4,463.7 L129.1,462.4 L127.9,460.9 L126.7,459.3 L125.7,457.6 L124.8,455.7 L124.0,453.7 L123.4,451.6 L122.9,449.4 L122.5,447.0 L122.3,444.4 L122.3,441.3 L122.4,438.2 L122.6,435.7 L123.0,433.4 L123.5,431.2 L124.2,429.2 L125.0,427.3 L126.0,425.6 L127.1,424.0 L128.4,422.5 L129.9,421.3 L131.4,420.1 L133.1,419.2 L135.0,418.4 L136.9,417.7 L139.1,417.3 L141.3,417.0 L143.7,416.9 L146.7,417.1 L149.7,417.4 L152.1,417.8 L154.3,418.4 L156.3,419.1 L158.1,420.0 L159.9,421.0 L161.4,422.2 L162.8,423.6 L164.1,425.0 L165.1,426.6 L166.0,428.4 L166.8,430.2 L167.3,432.2 L167.7,434.3 L167.9,436.5 L168.0,438.8 L167.9,441.4Z"/></clipPath></defs><g clip-path="url(#cpb0)"><rect x="121.2" y="415.5" width="48.5" height="59.1" fill="#dcc09a"/><rect x="121.2" y="415.5" width="48.5" height="59.1" fill="url(#bgshade)"/><path d="M169.9,444.7 L169.4,448.0 L168.8,450.8 L168.0,453.3 L167.1,455.6 L166.1,457.8 L164.9,459.8 L163.6,461.7 L162.3,463.4 L160.8,465.0 L159.2,466.4 L157.5,467.6 L155.8,468.7 L154.0,469.6 L152.0,470.3 L150.0,470.8 L147.9,471.1 L145.7,471.2 L142.9,471.1 L140.2,470.8 L138.0,470.4 L135.9,469.8 L134.0,469.0 L132.2,468.1 L130.5,466.9 L128.9,465.6 L127.5,464.2 L126.1,462.6 L124.8,460.8 L123.7,458.9 L122.7,456.9 L121.9,454.7 L121.1,452.4 L120.6,450.0 L120.1,447.4 L119.9,444.6 L119.9,441.1 L120.0,437.8 L120.2,435.0 L120.6,432.4 L121.2,430.1 L122.0,427.9 L122.9,425.8 L124.0,423.9 L125.2,422.2 L126.7,420.6 L128.2,419.2 L130.0,418.0 L131.9,417.0 L133.9,416.1 L136.1,415.4 L138.4,414.9 L140.9,414.6 L143.6,414.5 L146.9,414.7 L150.1,415.0 L152.8,415.5 L155.2,416.1 L157.5,416.9 L159.5,417.9 L161.4,419.0 L163.1,420.3 L164.7,421.8 L166.1,423.4 L167.3,425.1 L168.3,427.0 L169.1,429.1 L169.7,431.2 L170.1,433.5 L170.4,435.9 L170.4,438.5 L170.3,441.3Z" fill="#f0dfc0" opacity="0.85" filter="url(#blur1)"/><path d="M127.5,423.7 Q129.4,425.4 131.6,423.5 M124.7,420.3 Q130.0,418.5 131.5,419.7 M166.1,422.3 Q164.1,425.4 161.9,425.1 M163.9,422.2 Q160.9,421.6 158.3,418.6 M124.2,468.3 Q129.1,468.5 130.7,465.8 M127.3,468.9 Q131.1,470.3 131.9,471.5 M163.6,466.7 Q158.7,466.5 157.5,469.5 M164.9,470.2 Q160.2,469.4 158.8,468.6" stroke="#5a4030" stroke-width="0.45" fill="none" opacity="0.55"/><path d="M167.5,444.5 L167.1,447.6 L166.5,450.1 L165.8,452.4 L165.0,454.5 L164.0,456.5 L163.0,458.4 L161.8,460.1 L160.6,461.7 L159.2,463.1 L157.8,464.4 L156.3,465.5 L154.7,466.5 L153.1,467.3 L151.3,467.9 L149.5,468.4 L147.6,468.7 L145.6,468.8 L143.1,468.7 L140.6,468.5 L138.6,468.1 L136.8,467.5 L135.0,466.8 L133.4,465.9 L131.9,464.9 L130.4,463.7 L129.1,462.4 L127.9,460.9 L126.7,459.3 L125.7,457.6 L124.8,455.7 L124.0,453.7 L123.4,451.6 L122.9,449.4 L122.5,447.0 L122.3,444.4 L122.3,441.3 L122.4,438.2 L122.6,435.7 L123.0,433.4 L123.5,431.2 L124.2,429.2 L125.0,427.3 L126.0,425.6 L127.1,424.0 L128.4,422.5 L129.9,421.3 L131.4,420.1 L133.1,419.2 L135.0,418.4 L136.9,417.7 L139.1,417.3 L141.3,417.0 L143.7,416.9 L146.7,417.1 L149.7,417.4 L152.1,417.8 L154.3,418.4 L156.3,419.1 L158.1,420.0 L159.9,421.0 L161.4,422.2 L162.8,423.6 L164.1,425.0 L165.1,426.6 L166.0,428.4 L166.8,430.2 L167.3,432.2 L167.7,434.3 L167.9,436.5 L168.0,438.8 L167.9,441.4Z" fill="url(#egb0)"/><g clip-path="url(#ceb0)"><rect x="121.2" y="415.5" width="48.5" height="59.1" fill="#8a1a10" filter="url(#mottle)" opacity="0.0"/><rect x="121.2" y="415.5" width="48.5" height="59.1" fill="url(#omm)" opacity="0.2"/></g></g>
<defs><radialGradient id="egb1" cx="0.45" cy="0.45" r="0.62"><stop offset="0" stop-color="#ea6266"/><stop offset="0.55" stop-color="#e65446"/><stop offset="1" stop-color="#d44636"/></radialGradient><clipPath id="cpb1"><rect x="172.3" y="415.5" width="48.5" height="59.1"/></clipPath><clipPath id="ceb1"><path d="M218.9,446.4 L218.5,449.7 L217.9,452.3 L217.2,454.7 L216.4,456.9 L215.5,459.0 L214.5,461.0 L213.3,462.8 L212.1,464.5 L210.8,466.0 L209.4,467.3 L207.9,468.5 L206.4,469.5 L204.8,470.4 L203.1,471.1 L201.3,471.6 L199.5,471.9 L197.5,472.0 L195.1,471.9 L192.7,471.7 L190.7,471.3 L188.9,470.7 L187.2,470.0 L185.7,469.0 L184.2,468.0 L182.8,466.8 L181.5,465.4 L180.3,463.8 L179.2,462.2 L178.2,460.3 L177.4,458.4 L176.6,456.3 L176.0,454.1 L175.5,451.8 L175.2,449.3 L175.0,446.6 L175.0,443.4 L175.1,440.1 L175.3,437.5 L175.7,435.0 L176.2,432.8 L176.9,430.7 L177.7,428.7 L178.7,426.9 L179.8,425.2 L181.0,423.7 L182.4,422.3 L184.0,421.2 L185.6,420.1 L187.4,419.3 L189.4,418.6 L191.4,418.2 L193.6,417.9 L196.0,417.8 L198.8,417.9 L201.7,418.2 L204.0,418.6 L206.2,419.2 L208.1,419.9 L209.9,420.9 L211.6,422.0 L213.1,423.2 L214.5,424.6 L215.7,426.1 L216.7,427.8 L217.6,429.6 L218.3,431.5 L218.8,433.6 L219.2,435.8 L219.4,438.1 L219.4,440.5 L219.3,443.2Z"/></clipPath></defs><g clip-path="url(#cpb1)"><rect x="172.3" y="415.5" width="48.5" height="59.1" fill="#e4d8cc"/><rect x="172.3" y="415.5" width="48.5" height="59.1" fill="url(#bgshade)"/><path d="M221.3,446.6 L220.8,450.1 L220.2,453.0 L219.4,455.6 L218.5,458.0 L217.5,460.3 L216.4,462.4 L215.1,464.4 L213.8,466.2 L212.3,467.9 L210.8,469.3 L209.2,470.6 L207.4,471.7 L205.7,472.7 L203.8,473.4 L201.8,473.9 L199.8,474.3 L197.6,474.4 L194.9,474.3 L192.2,474.0 L190.1,473.6 L188.1,473.0 L186.2,472.2 L184.5,471.2 L182.8,470.0 L181.3,468.7 L179.9,467.2 L178.5,465.5 L177.3,463.7 L176.2,461.7 L175.3,459.6 L174.4,457.3 L173.7,454.9 L173.2,452.4 L172.8,449.7 L172.6,446.7 L172.6,443.2 L172.7,439.7 L173.0,436.8 L173.4,434.1 L173.9,431.7 L174.7,429.4 L175.6,427.2 L176.7,425.2 L177.9,423.4 L179.3,421.8 L180.8,420.3 L182.5,419.0 L184.4,417.9 L186.4,417.0 L188.5,416.3 L190.8,415.8 L193.2,415.5 L195.8,415.3 L199.0,415.5 L202.2,415.8 L204.8,416.3 L207.1,416.9 L209.3,417.7 L211.3,418.8 L213.2,419.9 L214.8,421.3 L216.3,422.8 L217.7,424.5 L218.8,426.3 L219.8,428.3 L220.6,430.4 L221.2,432.6 L221.6,435.0 L221.8,437.5 L221.8,440.2 L221.7,443.1Z" fill="#f0dfc0" opacity="0.85" filter="url(#blur1)"/><path d="M178.7,421.0 Q180.1,420.8 184.6,424.4 M174.7,420.7 Q178.1,423.9 178.1,424.4 M215.8,422.4 Q210.8,423.1 209.6,422.0 M216.9,422.5 Q213.4,421.2 211.2,421.2 M176.5,471.6 Q179.9,471.8 182.0,474.2 M177.7,466.0 Q177.7,463.2 181.5,462.3 M214.4,467.2 Q210.1,466.8 209.7,470.0 M218.5,466.6 Q214.7,466.0 215.0,463.5" stroke="#5a4030" stroke-width="0.45" fill="none" opacity="0.55"/><path d="M218.9,446.4 L218.5,449.7 L217.9,452.3 L217.2,454.7 L216.4,456.9 L215.5,459.0 L214.5,461.0 L213.3,462.8 L212.1,464.5 L210.8,466.0 L209.4,467.3 L207.9,468.5 L206.4,469.5 L204.8,470.4 L203.1,471.1 L201.3,471.6 L199.5,471.9 L197.5,472.0 L195.1,471.9 L192.7,471.7 L190.7,471.3 L188.9,470.7 L187.2,470.0 L185.7,469.0 L184.2,468.0 L182.8,466.8 L181.5,465.4 L180.3,463.8 L179.2,462.2 L178.2,460.3 L177.4,458.4 L176.6,456.3 L176.0,454.1 L175.5,451.8 L175.2,449.3 L175.0,446.6 L175.0,443.4 L175.1,440.1 L175.3,437.5 L175.7,435.0 L176.2,432.8 L176.9,430.7 L177.7,428.7 L178.7,426.9 L179.8,425.2 L181.0,423.7 L182.4,422.3 L184.0,421.2 L185.6,420.1 L187.4,419.3 L189.4,418.6 L191.4,418.2 L193.6,417.9 L196.0,417.8 L198.8,417.9 L201.7,418.2 L204.0,418.6 L206.2,419.2 L208.1,419.9 L209.9,420.9 L211.6,422.0 L213.1,423.2 L214.5,424.6 L215.7,426.1 L216.7,427.8 L217.6,429.6 L218.3,431.5 L218.8,433.6 L219.2,435.8 L219.4,438.1 L219.4,440.5 L219.3,443.2Z" fill="url(#egb1)"/><g clip-path="url(#ceb1)"><rect x="172.3" y="415.5" width="48.5" height="59.1" fill="#8a1a10" filter="url(#mottle)" opacity="0.0"/><rect x="172.3" y="415.5" width="48.5" height="59.1" fill="url(#omm)" opacity="0.2"/></g></g>
<defs><radialGradient id="egb2" cx="0.45" cy="0.45" r="0.62"><stop offset="0" stop-color="#fa6a70"/><stop offset="0.55" stop-color="#f4545a"/><stop offset="1" stop-color="#e44448"/></radialGradient><clipPath id="cpb2"><rect x="224.0" y="416.0" width="49.0" height="58.6"/></clipPath><clipPath id="ceb2"><path d="M269.5,446.2 L269.1,449.3 L268.5,451.9 L267.8,454.3 L267.0,456.5 L266.1,458.5 L265.1,460.4 L263.9,462.2 L262.7,463.8 L261.4,465.3 L260.0,466.6 L258.6,467.8 L257.0,468.8 L255.4,469.6 L253.7,470.3 L252.0,470.8 L250.1,471.1 L248.1,471.2 L245.7,471.1 L243.3,470.9 L241.3,470.5 L239.6,469.9 L237.9,469.2 L236.3,468.3 L234.8,467.2 L233.4,466.0 L232.1,464.7 L230.9,463.2 L229.9,461.5 L228.9,459.8 L228.0,457.8 L227.2,455.8 L226.6,453.7 L226.1,451.4 L225.8,448.9 L225.6,446.3 L225.6,443.1 L225.7,439.9 L225.9,437.3 L226.3,434.9 L226.8,432.7 L227.5,430.7 L228.3,428.7 L229.2,427.0 L230.4,425.3 L231.6,423.8 L233.0,422.5 L234.5,421.4 L236.2,420.4 L238.0,419.5 L239.9,418.9 L242.0,418.4 L244.2,418.1 L246.5,418.1 L249.4,418.2 L252.3,418.5 L254.6,418.9 L256.7,419.5 L258.7,420.2 L260.5,421.1 L262.2,422.2 L263.7,423.4 L265.0,424.8 L266.2,426.3 L267.3,427.9 L268.1,429.7 L268.8,431.6 L269.4,433.6 L269.8,435.7 L270.0,438.0 L270.0,440.4 L269.9,443.0Z"/></clipPath></defs><g clip-path="url(#cpb2)"><rect x="224.0" y="416.0" width="49.0" height="58.6" fill="#ece4dc"/><rect x="224.0" y="416.0" width="49.0" height="58.6" fill="url(#bgshade)"/><path d="M271.9,446.4 L271.4,449.8 L270.8,452.6 L270.0,455.2 L269.2,457.6 L268.1,459.8 L267.0,461.9 L265.8,463.8 L264.4,465.6 L263.0,467.2 L261.4,468.6 L259.8,469.9 L258.1,471.0 L256.3,471.9 L254.4,472.6 L252.5,473.2 L250.4,473.5 L248.2,473.6 L245.5,473.5 L242.9,473.2 L240.7,472.8 L238.7,472.2 L236.9,471.4 L235.1,470.4 L233.5,469.3 L231.9,468.0 L230.5,466.5 L229.2,464.8 L227.9,463.0 L226.9,461.1 L225.9,459.0 L225.1,456.8 L224.4,454.4 L223.8,451.9 L223.4,449.3 L223.2,446.4 L223.2,442.9 L223.3,439.5 L223.5,436.6 L224.0,434.0 L224.5,431.6 L225.3,429.4 L226.2,427.3 L227.2,425.3 L228.5,423.6 L229.9,421.9 L231.4,420.5 L233.1,419.2 L234.9,418.2 L236.9,417.3 L239.1,416.6 L241.3,416.1 L243.7,415.7 L246.4,415.6 L249.6,415.8 L252.7,416.1 L255.3,416.6 L257.7,417.2 L259.9,418.0 L261.9,419.0 L263.7,420.2 L265.4,421.5 L266.9,423.0 L268.2,424.6 L269.4,426.4 L270.4,428.3 L271.1,430.4 L271.7,432.6 L272.2,435.0 L272.4,437.4 L272.4,440.1 L272.3,442.9Z" fill="#f0dfc0" opacity="0.85" filter="url(#blur1)"/><path d="M230.0,423.9 Q232.8,425.8 233.3,424.5 M228.3,420.1 Q230.9,421.0 232.3,423.6 M267.8,423.5 Q264.8,420.5 262.6,421.0 M271.0,419.8 Q268.7,418.6 267.9,415.9 M226.7,470.3 Q230.4,467.8 232.7,468.8 M229.8,468.4 Q232.9,467.0 234.7,469.2 M267.2,470.6 Q265.8,469.4 262.1,470.9 M269.4,470.3 Q269.0,473.7 266.1,473.9" stroke="#5a4030" stroke-width="0.45" fill="none" opacity="0.55"/><path d="M269.5,446.2 L269.1,449.3 L268.5,451.9 L267.8,454.3 L267.0,456.5 L266.1,458.5 L265.1,460.4 L263.9,462.2 L262.7,463.8 L261.4,465.3 L260.0,466.6 L258.6,467.8 L257.0,468.8 L255.4,469.6 L253.7,470.3 L252.0,470.8 L250.1,471.1 L248.1,471.2 L245.7,471.1 L243.3,470.9 L241.3,470.5 L239.6,469.9 L237.9,469.2 L236.3,468.3 L234.8,467.2 L233.4,466.0 L232.1,464.7 L230.9,463.2 L229.9,461.5 L228.9,459.8 L228.0,457.8 L227.2,455.8 L226.6,453.7 L226.1,451.4 L225.8,448.9 L225.6,446.3 L225.6,443.1 L225.7,439.9 L225.9,437.3 L226.3,434.9 L226.8,432.7 L227.5,430.7 L228.3,428.7 L229.2,427.0 L230.4,425.3 L231.6,423.8 L233.0,422.5 L234.5,421.4 L236.2,420.4 L238.0,419.5 L239.9,418.9 L242.0,418.4 L244.2,418.1 L246.5,418.1 L249.4,418.2 L252.3,418.5 L254.6,418.9 L256.7,419.5 L258.7,420.2 L260.5,421.1 L262.2,422.2 L263.7,423.4 L265.0,424.8 L266.2,426.3 L267.3,427.9 L268.1,429.7 L268.8,431.6 L269.4,433.6 L269.8,435.7 L270.0,438.0 L270.0,440.4 L269.9,443.0Z" fill="url(#egb2)"/><g clip-path="url(#ceb2)"><rect x="224.0" y="416.0" width="49.0" height="58.6" fill="#8a1a10" filter="url(#mottle)" opacity="0.0"/><rect x="224.0" y="416.0" width="49.0" height="58.6" fill="url(#omm)" opacity="0.22"/></g></g>
<defs><radialGradient id="egb3" cx="0.45" cy="0.45" r="0.62"><stop offset="0" stop-color="#cc4444"/><stop offset="0.55" stop-color="#de5040"/><stop offset="1" stop-color="#d04636"/></radialGradient><clipPath id="cpb3"><rect x="276.5" y="416.0" width="47.9" height="58.6"/></clipPath><clipPath id="ceb3"><path d="M322.5,448.0 L322.1,451.1 L321.5,453.7 L320.9,456.0 L320.1,458.2 L319.2,460.2 L318.2,462.1 L317.2,463.9 L316.0,465.5 L314.7,466.9 L313.4,468.2 L312.0,469.4 L310.5,470.4 L309.0,471.2 L307.3,471.9 L305.7,472.4 L303.9,472.7 L302.0,472.8 L299.7,472.7 L297.4,472.5 L295.5,472.1 L293.8,471.5 L292.2,470.8 L290.7,469.9 L289.3,468.9 L287.9,467.7 L286.7,466.4 L285.6,464.9 L284.5,463.3 L283.6,461.5 L282.8,459.6 L282.0,457.6 L281.5,455.5 L281.0,453.2 L280.7,450.8 L280.5,448.2 L280.5,445.0 L280.6,441.9 L280.8,439.3 L281.2,436.9 L281.7,434.7 L282.3,432.7 L283.1,430.8 L284.0,429.0 L285.1,427.4 L286.3,425.9 L287.6,424.6 L289.1,423.5 L290.7,422.5 L292.4,421.7 L294.3,421.0 L296.2,420.5 L298.3,420.3 L300.6,420.2 L303.3,420.3 L306.1,420.5 L308.3,421.0 L310.3,421.5 L312.2,422.3 L313.9,423.2 L315.5,424.2 L317.0,425.4 L318.3,426.8 L319.4,428.2 L320.4,429.9 L321.2,431.6 L321.9,433.5 L322.4,435.5 L322.8,437.6 L323.0,439.9 L323.0,442.3 L322.9,444.8Z"/></clipPath></defs><g clip-path="url(#cpb3)"><rect x="276.5" y="416.0" width="47.9" height="58.6" fill="#dcc09a"/><rect x="276.5" y="416.0" width="47.9" height="58.6" fill="url(#bgshade)"/><path d="M324.9,448.1 L324.4,451.6 L323.8,454.3 L323.1,456.9 L322.2,459.3 L321.3,461.5 L320.2,463.6 L319.0,465.5 L317.7,467.2 L316.3,468.8 L314.8,470.2 L313.2,471.5 L311.6,472.6 L309.8,473.5 L308.0,474.2 L306.2,474.7 L304.2,475.1 L302.1,475.2 L299.5,475.1 L296.9,474.9 L294.9,474.4 L292.9,473.8 L291.2,473.0 L289.5,472.1 L287.9,470.9 L286.4,469.6 L285.0,468.2 L283.8,466.5 L282.6,464.8 L281.6,462.8 L280.6,460.8 L279.9,458.6 L279.2,456.3 L278.7,453.8 L278.3,451.2 L278.1,448.3 L278.1,444.9 L278.2,441.4 L278.4,438.6 L278.8,436.0 L279.4,433.6 L280.1,431.4 L281.0,429.3 L282.0,427.4 L283.2,425.6 L284.5,424.0 L286.0,422.6 L287.7,421.3 L289.4,420.3 L291.3,419.4 L293.4,418.7 L295.6,418.2 L297.9,417.9 L300.4,417.8 L303.5,417.9 L306.6,418.2 L309.0,418.6 L311.3,419.3 L313.4,420.1 L315.3,421.1 L317.1,422.2 L318.7,423.5 L320.2,425.0 L321.4,426.6 L322.5,428.4 L323.5,430.3 L324.2,432.3 L324.8,434.5 L325.2,436.8 L325.4,439.3 L325.4,441.9 L325.3,444.7Z" fill="#f0dfc0" opacity="0.85" filter="url(#blur1)"/><path d="M281.7,423.0 Q283.6,421.9 284.9,420.4 M281.1,421.2 Q282.2,419.7 284.4,420.2 M322.2,424.5 Q318.2,422.7 317.1,421.4 M319.9,423.7 Q319.7,424.5 316.7,421.9 M281.3,470.0 Q284.9,466.9 287.3,466.3 M280.8,467.5 Q285.0,469.5 287.3,469.7 M320.2,469.9 Q317.5,469.3 313.8,470.7 M317.5,466.7 Q317.0,463.9 312.6,463.4" stroke="#5a4030" stroke-width="0.45" fill="none" opacity="0.55"/><path d="M322.5,448.0 L322.1,451.1 L321.5,453.7 L320.9,456.0 L320.1,458.2 L319.2,460.2 L318.2,462.1 L317.2,463.9 L316.0,465.5 L314.7,466.9 L313.4,468.2 L312.0,469.4 L310.5,470.4 L309.0,471.2 L307.3,471.9 L305.7,472.4 L303.9,472.7 L302.0,472.8 L299.7,472.7 L297.4,472.5 L295.5,472.1 L293.8,471.5 L292.2,470.8 L290.7,469.9 L289.3,468.9 L287.9,467.7 L286.7,466.4 L285.6,464.9 L284.5,463.3 L283.6,461.5 L282.8,459.6 L282.0,457.6 L281.5,455.5 L281.0,453.2 L280.7,450.8 L280.5,448.2 L280.5,445.0 L280.6,441.9 L280.8,439.3 L281.2,436.9 L281.7,434.7 L282.3,432.7 L283.1,430.8 L284.0,429.0 L285.1,427.4 L286.3,425.9 L287.6,424.6 L289.1,423.5 L290.7,422.5 L292.4,421.7 L294.3,421.0 L296.2,420.5 L298.3,420.3 L300.6,420.2 L303.3,420.3 L306.1,420.5 L308.3,421.0 L310.3,421.5 L312.2,422.3 L313.9,423.2 L315.5,424.2 L317.0,425.4 L318.3,426.8 L319.4,428.2 L320.4,429.9 L321.2,431.6 L321.9,433.5 L322.4,435.5 L322.8,437.6 L323.0,439.9 L323.0,442.3 L322.9,444.8Z" fill="url(#egb3)"/><g clip-path="url(#ceb3)"><rect x="276.5" y="416.0" width="47.9" height="58.6" fill="#8a1a10" filter="url(#mottle)" opacity="0.0"/><rect x="276.5" y="416.0" width="47.9" height="58.6" fill="url(#omm)" opacity="0.2"/></g></g>
<defs><radialGradient id="egb4" cx="0.45" cy="0.45" r="0.62"><stop offset="0" stop-color="#f07676"/><stop offset="0.55" stop-color="#f06a56"/><stop offset="1" stop-color="#e65a46"/></radialGradient><clipPath id="cpb4"><rect x="327.1" y="417.1" width="42.8" height="56.9"/></clipPath><clipPath id="ceb4"><path d="M367.1,446.9 L366.6,450.1 L366.1,452.7 L365.5,455.1 L364.8,457.3 L364.0,459.4 L363.1,461.4 L362.1,463.2 L361.1,464.8 L360.0,466.4 L358.8,467.7 L357.5,468.9 L356.2,469.9 L354.8,470.8 L353.4,471.5 L351.9,472.0 L350.3,472.3 L348.7,472.5 L346.6,472.4 L344.6,472.2 L343.0,471.8 L341.4,471.3 L340.0,470.6 L338.7,469.7 L337.5,468.6 L336.3,467.4 L335.2,466.1 L334.3,464.6 L333.4,462.9 L332.5,461.1 L331.8,459.2 L331.2,457.1 L330.7,455.0 L330.3,452.7 L330.1,450.2 L329.9,447.5 L329.9,444.3 L330.1,441.1 L330.3,438.4 L330.7,436.0 L331.1,433.8 L331.7,431.7 L332.4,429.7 L333.3,427.9 L334.2,426.2 L335.3,424.7 L336.5,423.4 L337.8,422.2 L339.2,421.2 L340.7,420.3 L342.4,419.6 L344.1,419.1 L345.9,418.8 L347.9,418.7 L350.4,418.8 L352.8,419.0 L354.8,419.4 L356.5,420.0 L358.2,420.7 L359.7,421.6 L361.1,422.7 L362.4,423.9 L363.5,425.3 L364.5,426.8 L365.3,428.4 L366.1,430.2 L366.6,432.1 L367.1,434.1 L367.4,436.3 L367.5,438.6 L367.5,441.0 L367.4,443.7Z"/></clipPath></defs><g clip-path="url(#cpb4)"><rect x="327.1" y="417.1" width="42.8" height="56.9" fill="#e0c8aa"/><rect x="327.1" y="417.1" width="42.8" height="56.9" fill="url(#bgshade)"/><path d="M369.4,447.1 L369.0,450.6 L368.4,453.4 L367.7,456.0 L366.9,458.4 L366.0,460.7 L365.0,462.8 L363.9,464.8 L362.8,466.6 L361.5,468.2 L360.2,469.7 L358.7,471.0 L357.3,472.1 L355.7,473.1 L354.1,473.8 L352.4,474.4 L350.6,474.7 L348.7,474.9 L346.5,474.8 L344.2,474.6 L342.3,474.2 L340.6,473.5 L339.0,472.8 L337.5,471.8 L336.1,470.7 L334.8,469.3 L333.6,467.9 L332.5,466.2 L331.5,464.4 L330.5,462.5 L329.7,460.4 L329.0,458.1 L328.5,455.8 L328.0,453.2 L327.7,450.6 L327.5,447.7 L327.6,444.1 L327.7,440.6 L328.0,437.8 L328.3,435.1 L328.8,432.7 L329.5,430.4 L330.3,428.3 L331.2,426.3 L332.3,424.5 L333.5,422.8 L334.9,421.4 L336.3,420.1 L337.9,418.9 L339.7,418.0 L341.5,417.3 L343.5,416.7 L345.5,416.4 L347.8,416.3 L350.5,416.4 L353.3,416.7 L355.5,417.1 L357.5,417.7 L359.4,418.5 L361.1,419.5 L362.7,420.7 L364.1,422.0 L365.4,423.5 L366.5,425.1 L367.5,426.9 L368.3,428.9 L368.9,431.0 L369.4,433.2 L369.8,435.5 L369.9,438.0 L369.9,440.7 L369.8,443.6Z" fill="#f0dfc0" opacity="0.85" filter="url(#blur1)"/><path d="M330.8,422.8 Q333.2,423.3 337.1,424.3 M331.9,425.1 Q333.1,427.9 335.8,428.4 M365.3,422.2 Q361.3,421.9 360.0,422.1 M363.3,424.0 Q362.3,424.8 359.8,425.7 M329.2,467.7 Q330.8,467.5 333.4,468.0 M333.8,465.3 Q337.6,464.5 337.5,463.3 M364.5,467.5 Q360.9,465.7 361.0,467.9 M367.8,468.0 Q364.5,466.2 364.4,464.3" stroke="#5a4030" stroke-width="0.45" fill="none" opacity="0.55"/><path d="M367.1,446.9 L366.6,450.1 L366.1,452.7 L365.5,455.1 L364.8,457.3 L364.0,459.4 L363.1,461.4 L362.1,463.2 L361.1,464.8 L360.0,466.4 L358.8,467.7 L357.5,468.9 L356.2,469.9 L354.8,470.8 L353.4,471.5 L351.9,472.0 L350.3,472.3 L348.7,472.5 L346.6,472.4 L344.6,472.2 L343.0,471.8 L341.4,471.3 L340.0,470.6 L338.7,469.7 L337.5,468.6 L336.3,467.4 L335.2,466.1 L334.3,464.6 L333.4,462.9 L332.5,461.1 L331.8,459.2 L331.2,457.1 L330.7,455.0 L330.3,452.7 L330.1,450.2 L329.9,447.5 L329.9,444.3 L330.1,441.1 L330.3,438.4 L330.7,436.0 L331.1,433.8 L331.7,431.7 L332.4,429.7 L333.3,427.9 L334.2,426.2 L335.3,424.7 L336.5,423.4 L337.8,422.2 L339.2,421.2 L340.7,420.3 L342.4,419.6 L344.1,419.1 L345.9,418.8 L347.9,418.7 L350.4,418.8 L352.8,419.0 L354.8,419.4 L356.5,420.0 L358.2,420.7 L359.7,421.6 L361.1,422.7 L362.4,423.9 L363.5,425.3 L364.5,426.8 L365.3,428.4 L366.1,430.2 L366.6,432.1 L367.1,434.1 L367.4,436.3 L367.5,438.6 L367.5,441.0 L367.4,443.7Z" fill="url(#egb4)"/><g clip-path="url(#ceb4)"><rect x="327.1" y="417.1" width="42.8" height="56.9" fill="#8a1a10" filter="url(#mottle)" opacity="0.0"/><rect x="327.1" y="417.1" width="42.8" height="56.9" fill="url(#omm)" opacity="0.2"/></g></g>
<defs><radialGradient id="egb5" cx="0.45" cy="0.45" r="0.62"><stop offset="0" stop-color="#c04a58"/><stop offset="0.55" stop-color="#a01e2a"/><stop offset="1" stop-color="#801420"/></radialGradient><clipPath id="cpb5"><rect x="373.1" y="416.1" width="44.5" height="57.9"/></clipPath><clipPath id="ceb5"><path d="M415.6,446.0 L415.2,449.1 L414.6,451.7 L414.0,454.0 L413.2,456.2 L412.3,458.3 L411.3,460.2 L410.3,462.0 L409.1,463.6 L407.8,465.1 L406.5,466.4 L405.1,467.6 L403.6,468.6 L402.1,469.4 L400.5,470.1 L398.8,470.6 L397.0,470.9 L395.1,471.0 L392.9,470.9 L390.6,470.7 L388.7,470.3 L387.0,469.7 L385.4,469.0 L383.9,468.1 L382.5,467.1 L381.2,465.9 L380.0,464.5 L378.8,463.0 L377.8,461.4 L376.9,459.6 L376.0,457.7 L375.3,455.7 L374.7,453.6 L374.3,451.3 L373.9,448.8 L373.8,446.2 L373.8,443.0 L373.9,439.9 L374.1,437.3 L374.5,434.9 L375.0,432.7 L375.6,430.6 L376.4,428.7 L377.3,426.9 L378.4,425.3 L379.6,423.8 L380.9,422.5 L382.4,421.3 L384.0,420.3 L385.7,419.5 L387.5,418.8 L389.5,418.4 L391.5,418.1 L393.8,418.0 L396.5,418.1 L399.3,418.3 L401.5,418.8 L403.5,419.3 L405.4,420.1 L407.1,421.0 L408.7,422.0 L410.1,423.2 L411.4,424.6 L412.6,426.1 L413.5,427.7 L414.4,429.5 L415.0,431.4 L415.5,433.4 L415.9,435.5 L416.1,437.8 L416.1,440.2 L416.0,442.8Z"/></clipPath></defs><g clip-path="url(#cpb5)"><rect x="373.1" y="416.1" width="44.5" height="57.9" fill="#d4b48e"/><rect x="373.1" y="416.1" width="44.5" height="57.9" fill="url(#bgshade)"/><path d="M418.0,446.1 L417.5,449.6 L416.9,452.4 L416.2,454.9 L415.3,457.3 L414.4,459.6 L413.3,461.7 L412.1,463.6 L410.8,465.4 L409.4,467.0 L407.9,468.4 L406.3,469.7 L404.7,470.8 L403.0,471.7 L401.2,472.4 L399.3,472.9 L397.4,473.3 L395.2,473.4 L392.7,473.3 L390.1,473.1 L388.1,472.6 L386.2,472.0 L384.4,471.2 L382.7,470.3 L381.1,469.1 L379.7,467.8 L378.3,466.3 L377.0,464.7 L375.9,462.9 L374.8,461.0 L373.9,458.9 L373.1,456.7 L372.5,454.3 L372.0,451.9 L371.6,449.2 L371.4,446.3 L371.4,442.9 L371.5,439.4 L371.7,436.6 L372.1,434.0 L372.7,431.6 L373.4,429.3 L374.3,427.2 L375.3,425.3 L376.5,423.5 L377.8,421.9 L379.3,420.4 L380.9,419.2 L382.7,418.1 L384.6,417.2 L386.7,416.5 L388.8,416.0 L391.1,415.7 L393.7,415.6 L396.7,415.7 L399.8,416.0 L402.2,416.4 L404.5,417.1 L406.6,417.9 L408.5,418.9 L410.3,420.0 L411.9,421.3 L413.3,422.8 L414.6,424.5 L415.7,426.2 L416.6,428.2 L417.3,430.2 L417.9,432.4 L418.3,434.8 L418.5,437.2 L418.5,439.8 L418.4,442.7Z" fill="#f0dfc0" opacity="0.85" filter="url(#blur1)"/><path d="M377.8,424.0 Q378.6,421.7 383.3,421.8 M375.4,420.7 Q378.5,420.0 382.3,422.8 M415.1,420.3 Q413.3,417.9 411.2,418.0 M412.9,420.1 Q411.1,421.3 407.9,420.7 M377.2,466.0 Q379.5,467.7 381.9,467.5 M376.6,465.1 Q381.1,465.4 381.7,464.5 M412.5,467.6 Q407.9,466.5 405.9,464.5 M411.8,467.2 Q410.5,469.9 407.6,470.7" stroke="#5a4030" stroke-width="0.45" fill="none" opacity="0.55"/><path d="M415.6,446.0 L415.2,449.1 L414.6,451.7 L414.0,454.0 L413.2,456.2 L412.3,458.3 L411.3,460.2 L410.3,462.0 L409.1,463.6 L407.8,465.1 L406.5,466.4 L405.1,467.6 L403.6,468.6 L402.1,469.4 L400.5,470.1 L398.8,470.6 L397.0,470.9 L395.1,471.0 L392.9,470.9 L390.6,470.7 L388.7,470.3 L387.0,469.7 L385.4,469.0 L383.9,468.1 L382.5,467.1 L381.2,465.9 L380.0,464.5 L378.8,463.0 L377.8,461.4 L376.9,459.6 L376.0,457.7 L375.3,455.7 L374.7,453.6 L374.3,451.3 L373.9,448.8 L373.8,446.2 L373.8,443.0 L373.9,439.9 L374.1,437.3 L374.5,434.9 L375.0,432.7 L375.6,430.6 L376.4,428.7 L377.3,426.9 L378.4,425.3 L379.6,423.8 L380.9,422.5 L382.4,421.3 L384.0,420.3 L385.7,419.5 L387.5,418.8 L389.5,418.4 L391.5,418.1 L393.8,418.0 L396.5,418.1 L399.3,418.3 L401.5,418.8 L403.5,419.3 L405.4,420.1 L407.1,421.0 L408.7,422.0 L410.1,423.2 L411.4,424.6 L412.6,426.1 L413.5,427.7 L414.4,429.5 L415.0,431.4 L415.5,433.4 L415.9,435.5 L416.1,437.8 L416.1,440.2 L416.0,442.8Z" fill="url(#egb5)"/><g clip-path="url(#ceb5)"><rect x="373.1" y="416.1" width="44.5" height="57.9" fill="#8a1a10" filter="url(#mottle)" opacity="0.0"/><ellipse cx="408" cy="431" rx="4" ry="3.5" fill="#201414" opacity="0.95" filter="url(#blur05)"/><ellipse cx="412" cy="443" rx="2.5" ry="3.5" fill="#201414" opacity="0.95" filter="url(#blur05)"/><rect x="373.1" y="416.1" width="44.5" height="57.9" fill="url(#omm)" opacity="0.4"/></g></g>
<defs><radialGradient id="egb6" cx="0.45" cy="0.45" r="0.62"><stop offset="0" stop-color="#f2704e"/><stop offset="0.55" stop-color="#ea5a3c"/><stop offset="1" stop-color="#da4a32"/></radialGradient><clipPath id="cpb6"><rect x="420.1" y="416.1" width="44.5" height="58.4"/></clipPath><clipPath id="ceb6"><path d="M463.7,446.5 L463.3,449.9 L462.7,452.7 L462.0,455.3 L461.2,457.6 L460.3,459.8 L459.3,461.9 L458.2,463.8 L457.0,465.6 L455.7,467.2 L454.4,468.6 L452.9,469.8 L451.4,470.9 L449.8,471.8 L448.2,472.6 L446.5,473.1 L444.7,473.5 L442.7,473.6 L440.4,473.5 L438.1,473.3 L436.2,472.9 L434.5,472.3 L432.8,471.5 L431.3,470.5 L429.9,469.4 L428.5,468.1 L427.3,466.7 L426.1,465.1 L425.1,463.3 L424.2,461.4 L423.3,459.4 L422.6,457.2 L422.0,454.9 L421.6,452.4 L421.2,449.8 L421.1,447.0 L421.1,443.6 L421.2,440.1 L421.4,437.3 L421.8,434.8 L422.3,432.4 L423.0,430.2 L423.8,428.1 L424.8,426.2 L425.8,424.4 L427.1,422.8 L428.4,421.4 L429.9,420.1 L431.6,419.0 L433.3,418.1 L435.2,417.4 L437.2,416.9 L439.3,416.6 L441.6,416.5 L444.4,416.6 L447.2,416.9 L449.4,417.3 L451.5,417.9 L453.4,418.7 L455.1,419.7 L456.8,420.8 L458.2,422.1 L459.5,423.5 L460.7,425.2 L461.7,426.9 L462.5,428.8 L463.2,430.8 L463.7,433.0 L464.0,435.3 L464.2,437.7 L464.2,440.3 L464.1,443.1Z"/></clipPath></defs><g clip-path="url(#cpb6)"><rect x="420.1" y="416.1" width="44.5" height="58.4" fill="#dcc09a"/><rect x="420.1" y="416.1" width="44.5" height="58.4" fill="url(#bgshade)"/><path d="M466.1,446.7 L465.6,450.4 L465.0,453.4 L464.2,456.2 L463.4,458.7 L462.3,461.1 L461.2,463.3 L460.0,465.4 L458.7,467.3 L457.2,469.0 L455.7,470.6 L454.1,472.0 L452.5,473.1 L450.7,474.1 L448.9,474.9 L447.0,475.5 L445.0,475.8 L442.8,476.0 L440.2,475.9 L437.7,475.6 L435.5,475.2 L433.6,474.5 L431.8,473.7 L430.1,472.7 L428.5,471.5 L427.0,470.1 L425.6,468.5 L424.4,466.7 L423.2,464.8 L422.1,462.8 L421.2,460.5 L420.4,458.2 L419.8,455.7 L419.2,453.0 L418.9,450.2 L418.7,447.1 L418.7,443.4 L418.8,439.7 L419.1,436.6 L419.5,433.9 L420.1,431.3 L420.8,428.9 L421.7,426.6 L422.7,424.5 L423.9,422.6 L425.3,420.9 L426.8,419.4 L428.5,418.0 L430.3,416.8 L432.2,415.9 L434.3,415.1 L436.5,414.5 L438.9,414.2 L441.5,414.1 L444.6,414.2 L447.7,414.5 L450.2,415.0 L452.5,415.6 L454.6,416.5 L456.5,417.6 L458.3,418.8 L459.9,420.2 L461.4,421.8 L462.7,423.5 L463.8,425.4 L464.7,427.5 L465.5,429.7 L466.0,432.0 L466.4,434.5 L466.6,437.2 L466.7,440.0 L466.5,443.0Z" fill="#f0dfc0" opacity="0.85" filter="url(#blur1)"/><path d="M426.4,421.4 Q431.5,419.1 433.4,420.0 M426.3,424.3 Q430.3,427.6 431.8,427.2 M458.1,419.6 Q456.2,420.3 451.8,420.6 M460.5,420.1 Q456.9,419.6 455.2,420.9 M424.2,467.1 Q428.3,466.8 430.9,466.6 M425.5,466.3 Q427.6,463.5 429.9,463.1 M461.2,467.3 Q456.7,467.2 454.7,465.3 M460.0,469.8 Q457.7,470.1 453.4,469.9" stroke="#5a4030" stroke-width="0.45" fill="none" opacity="0.55"/><path d="M463.7,446.5 L463.3,449.9 L462.7,452.7 L462.0,455.3 L461.2,457.6 L460.3,459.8 L459.3,461.9 L458.2,463.8 L457.0,465.6 L455.7,467.2 L454.4,468.6 L452.9,469.8 L451.4,470.9 L449.8,471.8 L448.2,472.6 L446.5,473.1 L444.7,473.5 L442.7,473.6 L440.4,473.5 L438.1,473.3 L436.2,472.9 L434.5,472.3 L432.8,471.5 L431.3,470.5 L429.9,469.4 L428.5,468.1 L427.3,466.7 L426.1,465.1 L425.1,463.3 L424.2,461.4 L423.3,459.4 L422.6,457.2 L422.0,454.9 L421.6,452.4 L421.2,449.8 L421.1,447.0 L421.1,443.6 L421.2,440.1 L421.4,437.3 L421.8,434.8 L422.3,432.4 L423.0,430.2 L423.8,428.1 L424.8,426.2 L425.8,424.4 L427.1,422.8 L428.4,421.4 L429.9,420.1 L431.6,419.0 L433.3,418.1 L435.2,417.4 L437.2,416.9 L439.3,416.6 L441.6,416.5 L444.4,416.6 L447.2,416.9 L449.4,417.3 L451.5,417.9 L453.4,418.7 L455.1,419.7 L456.8,420.8 L458.2,422.1 L459.5,423.5 L460.7,425.2 L461.7,426.9 L462.5,428.8 L463.2,430.8 L463.7,433.0 L464.0,435.3 L464.2,437.7 L464.2,440.3 L464.1,443.1Z" fill="url(#egb6)"/><g clip-path="url(#ceb6)"><rect x="420.1" y="416.1" width="44.5" height="58.4" fill="#8a1a10" filter="url(#mottle)" opacity="0.0"/><rect x="420.1" y="416.1" width="44.5" height="58.4" fill="url(#omm)" opacity="0.2"/></g></g>
<defs><radialGradient id="egb7" cx="0.45" cy="0.45" r="0.62"><stop offset="0" stop-color="#ee6656"/><stop offset="0.55" stop-color="#e65040"/><stop offset="1" stop-color="#d64232"/></radialGradient><clipPath id="cpb7"><rect x="467.8" y="416.1" width="44.7" height="58.4"/></clipPath><clipPath id="ceb7"><path d="M511.1,446.3 L510.7,449.7 L510.1,452.4 L509.4,455.0 L508.7,457.3 L507.8,459.5 L506.8,461.6 L505.7,463.5 L504.5,465.2 L503.2,466.8 L501.9,468.2 L500.5,469.5 L499.0,470.5 L497.5,471.4 L495.8,472.2 L494.2,472.7 L492.4,473.0 L490.5,473.2 L488.2,473.1 L485.9,472.9 L484.0,472.5 L482.3,471.9 L480.7,471.1 L479.2,470.2 L477.8,469.1 L476.5,467.8 L475.3,466.3 L474.1,464.8 L473.1,463.0 L472.2,461.1 L471.4,459.1 L470.7,456.9 L470.1,454.6 L469.6,452.2 L469.3,449.6 L469.1,446.8 L469.2,443.4 L469.3,440.0 L469.5,437.2 L469.9,434.7 L470.4,432.3 L471.1,430.1 L471.9,428.0 L472.8,426.1 L473.9,424.4 L475.1,422.8 L476.4,421.4 L477.9,420.1 L479.5,419.0 L481.2,418.1 L483.1,417.4 L485.0,416.9 L487.1,416.6 L489.4,416.5 L492.1,416.6 L494.9,416.9 L497.1,417.3 L499.1,417.9 L501.0,418.7 L502.7,419.6 L504.3,420.8 L505.7,422.0 L507.0,423.5 L508.1,425.1 L509.1,426.8 L509.9,428.7 L510.6,430.7 L511.1,432.9 L511.4,435.2 L511.6,437.6 L511.6,440.2 L511.5,442.9Z"/></clipPath></defs><g clip-path="url(#cpb7)"><rect x="467.8" y="416.1" width="44.7" height="58.4" fill="#e0c8aa"/><rect x="467.8" y="416.1" width="44.7" height="58.4" fill="url(#bgshade)"/><path d="M513.5,446.5 L513.0,450.1 L512.4,453.1 L511.7,455.9 L510.8,458.4 L509.8,460.8 L508.7,463.0 L507.5,465.1 L506.2,467.0 L504.8,468.7 L503.3,470.2 L501.7,471.6 L500.1,472.7 L498.3,473.7 L496.5,474.5 L494.7,475.1 L492.7,475.4 L490.6,475.6 L488.0,475.5 L485.5,475.2 L483.4,474.8 L481.5,474.2 L479.7,473.3 L478.0,472.3 L476.5,471.1 L475.0,469.7 L473.6,468.1 L472.4,466.4 L471.2,464.5 L470.2,462.5 L469.3,460.3 L468.5,457.9 L467.8,455.4 L467.3,452.8 L467.0,450.0 L466.8,446.9 L466.8,443.2 L466.9,439.5 L467.2,436.5 L467.6,433.8 L468.2,431.2 L468.9,428.8 L469.8,426.6 L470.8,424.5 L472.0,422.6 L473.3,420.9 L474.8,419.3 L476.5,418.0 L478.2,416.8 L480.2,415.9 L482.2,415.1 L484.4,414.5 L486.7,414.2 L489.2,414.1 L492.3,414.2 L495.3,414.5 L497.8,415.0 L500.1,415.6 L502.2,416.5 L504.1,417.5 L505.8,418.7 L507.4,420.1 L508.9,421.7 L510.1,423.4 L511.2,425.3 L512.2,427.4 L512.9,429.6 L513.5,431.9 L513.8,434.4 L514.0,437.0 L514.1,439.8 L513.9,442.8Z" fill="#f0dfc0" opacity="0.85" filter="url(#blur1)"/><path d="M474.6,423.2 Q478.2,424.5 478.4,423.6 M474.0,424.8 Q476.5,425.0 478.1,422.0 M510.3,420.6 Q508.0,420.4 503.5,422.5 M510.0,422.8 Q509.0,426.4 506.9,426.4 M474.2,466.4 Q477.7,465.3 480.1,463.1 M474.6,467.3 Q478.6,469.8 481.1,471.2 M509.7,467.8 Q508.8,468.4 506.0,465.6 M506.9,467.2 Q505.9,464.9 501.6,464.4" stroke="#5a4030" stroke-width="0.45" fill="none" opacity="0.55"/><path d="M511.1,446.3 L510.7,449.7 L510.1,452.4 L509.4,455.0 L508.7,457.3 L507.8,459.5 L506.8,461.6 L505.7,463.5 L504.5,465.2 L503.2,466.8 L501.9,468.2 L500.5,469.5 L499.0,470.5 L497.5,471.4 L495.8,472.2 L494.2,472.7 L492.4,473.0 L490.5,473.2 L488.2,473.1 L485.9,472.9 L484.0,472.5 L482.3,471.9 L480.7,471.1 L479.2,470.2 L477.8,469.1 L476.5,467.8 L475.3,466.3 L474.1,464.8 L473.1,463.0 L472.2,461.1 L471.4,459.1 L470.7,456.9 L470.1,454.6 L469.6,452.2 L469.3,449.6 L469.1,446.8 L469.2,443.4 L469.3,440.0 L469.5,437.2 L469.9,434.7 L470.4,432.3 L471.1,430.1 L471.9,428.0 L472.8,426.1 L473.9,424.4 L475.1,422.8 L476.4,421.4 L477.9,420.1 L479.5,419.0 L481.2,418.1 L483.1,417.4 L485.0,416.9 L487.1,416.6 L489.4,416.5 L492.1,416.6 L494.9,416.9 L497.1,417.3 L499.1,417.9 L501.0,418.7 L502.7,419.6 L504.3,420.8 L505.7,422.0 L507.0,423.5 L508.1,425.1 L509.1,426.8 L509.9,428.7 L510.6,430.7 L511.1,432.9 L511.4,435.2 L511.6,437.6 L511.6,440.2 L511.5,442.9Z" fill="url(#egb7)"/><g clip-path="url(#ceb7)"><rect x="467.8" y="416.1" width="44.7" height="58.4" fill="#8a1a10" filter="url(#mottle)" opacity="0.0"/><rect x="467.8" y="416.1" width="44.7" height="58.4" fill="url(#omm)" opacity="0.2"/></g></g>
<defs><radialGradient id="egb8" cx="0.45" cy="0.45" r="0.62"><stop offset="0" stop-color="#f06a56"/><stop offset="0.55" stop-color="#ea5842"/><stop offset="1" stop-color="#da4836"/></radialGradient><clipPath id="cpb8"><rect x="515.5" y="416.1" width="44.1" height="58.4"/></clipPath><clipPath id="ceb8"><path d="M559.4,446.7 L559.0,450.1 L558.4,452.9 L557.7,455.5 L556.9,457.9 L556.0,460.1 L554.9,462.1 L553.8,464.1 L552.6,465.8 L551.3,467.4 L549.9,468.9 L548.5,470.1 L546.9,471.2 L545.3,472.1 L543.7,472.9 L541.9,473.4 L540.1,473.8 L538.1,473.9 L535.7,473.8 L533.4,473.6 L531.5,473.1 L529.7,472.6 L528.0,471.8 L526.5,470.8 L525.0,469.7 L523.7,468.4 L522.4,466.9 L521.2,465.3 L520.2,463.6 L519.2,461.6 L518.4,459.6 L517.6,457.4 L517.0,455.1 L516.6,452.6 L516.2,450.0 L516.1,447.1 L516.1,443.7 L516.2,440.2 L516.4,437.4 L516.8,434.9 L517.4,432.5 L518.0,430.2 L518.8,428.1 L519.8,426.2 L520.9,424.4 L522.2,422.8 L523.5,421.4 L525.1,420.1 L526.7,419.0 L528.5,418.1 L530.4,417.4 L532.4,416.9 L534.6,416.6 L536.9,416.5 L539.8,416.6 L542.6,416.9 L544.9,417.3 L547.0,417.9 L548.9,418.7 L550.7,419.7 L552.3,420.8 L553.8,422.1 L555.1,423.6 L556.3,425.2 L557.3,427.0 L558.2,428.9 L558.9,430.9 L559.4,433.1 L559.7,435.4 L559.9,437.9 L559.9,440.5 L559.8,443.3Z"/></clipPath></defs><g clip-path="url(#cpb8)"><rect x="515.5" y="416.1" width="44.1" height="58.4" fill="#dcc09a"/><rect x="515.5" y="416.1" width="44.1" height="58.4" fill="url(#bgshade)"/><path d="M561.8,446.9 L561.3,450.6 L560.7,453.6 L559.9,456.4 L559.0,459.0 L558.0,461.4 L556.9,463.6 L555.6,465.7 L554.3,467.6 L552.8,469.3 L551.3,470.9 L549.7,472.2 L548.0,473.4 L546.2,474.4 L544.4,475.2 L542.4,475.8 L540.4,476.1 L538.2,476.3 L535.6,476.2 L533.0,475.9 L530.8,475.5 L528.9,474.8 L527.0,474.0 L525.3,472.9 L523.7,471.7 L522.2,470.3 L520.8,468.7 L519.5,467.0 L518.3,465.1 L517.2,463.0 L516.3,460.8 L515.4,458.4 L514.8,455.9 L514.2,453.2 L513.9,450.3 L513.7,447.3 L513.7,443.5 L513.8,439.8 L514.1,436.7 L514.5,433.9 L515.1,431.4 L515.8,428.9 L516.7,426.7 L517.8,424.6 L519.0,422.7 L520.4,420.9 L521.9,419.4 L523.6,418.0 L525.5,416.8 L527.4,415.9 L529.5,415.1 L531.8,414.5 L534.2,414.2 L536.8,414.1 L539.9,414.2 L543.1,414.5 L545.6,415.0 L547.9,415.7 L550.1,416.5 L552.1,417.6 L553.9,418.8 L555.5,420.2 L557.0,421.8 L558.3,423.6 L559.4,425.5 L560.4,427.6 L561.2,429.8 L561.7,432.1 L562.1,434.6 L562.3,437.3 L562.4,440.1 L562.2,443.2Z" fill="#f0dfc0" opacity="0.85" filter="url(#blur1)"/><path d="M521.1,423.2 Q521.5,423.9 525.8,424.1 M519.6,421.9 Q521.9,424.1 525.8,422.9 M553.0,424.3 Q551.0,422.1 547.2,420.7 M552.7,419.6 Q548.0,420.9 545.9,419.5 M518.6,466.2 Q523.4,466.3 525.1,469.8 M518.3,469.6 Q518.6,468.7 522.2,467.9 M553.5,467.2 Q549.9,467.4 550.0,471.0 M554.1,466.7 Q551.4,463.6 550.3,463.3" stroke="#5a4030" stroke-width="0.45" fill="none" opacity="0.55"/><path d="M559.4,446.7 L559.0,450.1 L558.4,452.9 L557.7,455.5 L556.9,457.9 L556.0,460.1 L554.9,462.1 L553.8,464.1 L552.6,465.8 L551.3,467.4 L549.9,468.9 L548.5,470.1 L546.9,471.2 L545.3,472.1 L543.7,472.9 L541.9,473.4 L540.1,473.8 L538.1,473.9 L535.7,473.8 L533.4,473.6 L531.5,473.1 L529.7,472.6 L528.0,471.8 L526.5,470.8 L525.0,469.7 L523.7,468.4 L522.4,466.9 L521.2,465.3 L520.2,463.6 L519.2,461.6 L518.4,459.6 L517.6,457.4 L517.0,455.1 L516.6,452.6 L516.2,450.0 L516.1,447.1 L516.1,443.7 L516.2,440.2 L516.4,437.4 L516.8,434.9 L517.4,432.5 L518.0,430.2 L518.8,428.1 L519.8,426.2 L520.9,424.4 L522.2,422.8 L523.5,421.4 L525.1,420.1 L526.7,419.0 L528.5,418.1 L530.4,417.4 L532.4,416.9 L534.6,416.6 L536.9,416.5 L539.8,416.6 L542.6,416.9 L544.9,417.3 L547.0,417.9 L548.9,418.7 L550.7,419.7 L552.3,420.8 L553.8,422.1 L555.1,423.6 L556.3,425.2 L557.3,427.0 L558.2,428.9 L558.9,430.9 L559.4,433.1 L559.7,435.4 L559.9,437.9 L559.9,440.5 L559.8,443.3Z" fill="url(#egb8)"/><g clip-path="url(#ceb8)"><rect x="515.5" y="416.1" width="44.1" height="58.4" fill="#8a1a10" filter="url(#mottle)" opacity="0.0"/><rect x="515.5" y="416.1" width="44.1" height="58.4" fill="url(#omm)" opacity="0.2"/></g></g>
<defs><radialGradient id="egb9" cx="0.45" cy="0.45" r="0.62"><stop offset="0" stop-color="#ec6468"/><stop offset="0.55" stop-color="#e8564e"/><stop offset="1" stop-color="#da4640"/></radialGradient><clipPath id="cpb9"><rect x="562.3" y="416.1" width="43.3" height="58.4"/></clipPath><clipPath id="ceb9"><path d="M605.2,447.4 L604.7,450.7 L604.1,453.4 L603.5,455.9 L602.7,458.2 L601.9,460.4 L600.9,462.4 L599.8,464.3 L598.7,466.0 L597.5,467.6 L596.2,469.0 L594.8,470.2 L593.4,471.3 L591.9,472.2 L590.3,472.9 L588.7,473.4 L587.0,473.7 L585.2,473.9 L583.0,473.8 L580.7,473.6 L578.9,473.2 L577.3,472.6 L575.8,471.9 L574.3,470.9 L573.0,469.8 L571.7,468.6 L570.5,467.2 L569.4,465.6 L568.4,463.9 L567.6,462.0 L566.8,460.0 L566.1,457.9 L565.5,455.6 L565.1,453.2 L564.8,450.7 L564.6,447.9 L564.6,444.5 L564.8,441.2 L565.0,438.4 L565.4,435.9 L565.9,433.6 L566.5,431.4 L567.3,429.4 L568.2,427.5 L569.2,425.8 L570.4,424.2 L571.7,422.8 L573.1,421.6 L574.7,420.5 L576.3,419.6 L578.1,418.9 L580.0,418.4 L582.0,418.1 L584.2,418.0 L586.8,418.1 L589.5,418.3 L591.6,418.8 L593.6,419.4 L595.4,420.1 L597.0,421.1 L598.6,422.2 L599.9,423.4 L601.2,424.9 L602.3,426.4 L603.2,428.2 L604.0,430.0 L604.6,432.0 L605.1,434.1 L605.4,436.4 L605.6,438.7 L605.6,441.3 L605.5,444.0Z"/></clipPath></defs><g clip-path="url(#cpb9)"><rect x="562.3" y="416.1" width="43.3" height="58.4" fill="#e4d4c4"/><rect x="562.3" y="416.1" width="43.3" height="58.4" fill="url(#bgshade)"/><path d="M607.5,447.5 L607.0,451.1 L606.4,454.1 L605.7,456.8 L604.9,459.3 L603.9,461.7 L602.8,463.9 L601.7,465.9 L600.4,467.7 L599.0,469.4 L597.6,471.0 L596.1,472.3 L594.5,473.5 L592.8,474.4 L591.0,475.2 L589.2,475.8 L587.3,476.1 L585.3,476.3 L582.8,476.2 L580.3,476.0 L578.3,475.5 L576.5,474.9 L574.7,474.1 L573.1,473.1 L571.6,471.9 L570.2,470.5 L568.9,469.0 L567.6,467.3 L566.5,465.4 L565.5,463.4 L564.7,461.2 L563.9,458.9 L563.3,456.4 L562.8,453.8 L562.4,451.0 L562.3,448.0 L562.3,444.4 L562.4,440.7 L562.7,437.8 L563.1,435.0 L563.6,432.5 L564.3,430.1 L565.2,427.9 L566.2,425.9 L567.3,424.0 L568.6,422.3 L570.1,420.8 L571.7,419.4 L573.4,418.3 L575.3,417.3 L577.2,416.6 L579.4,416.0 L581.6,415.7 L584.1,415.6 L587.0,415.7 L590.0,416.0 L592.4,416.5 L594.6,417.1 L596.6,417.9 L598.4,419.0 L600.1,420.2 L601.7,421.5 L603.1,423.1 L604.3,424.8 L605.3,426.7 L606.2,428.7 L606.9,430.8 L607.5,433.1 L607.8,435.6 L608.0,438.2 L608.1,440.9 L607.9,443.9Z" fill="#f0dfc0" opacity="0.85" filter="url(#blur1)"/><path d="M567.2,420.9 Q568.3,420.6 572.1,423.2 M569.3,422.9 Q572.5,425.9 573.2,424.9 M600.6,422.4 Q598.8,424.8 596.9,424.9 M601.6,425.0 Q599.2,423.1 597.4,423.4 M565.2,470.5 Q567.4,470.0 571.1,467.6 M565.5,469.1 Q566.8,468.9 570.4,469.6 M601.6,471.5 Q599.4,469.3 598.3,468.1 M599.9,467.4 Q597.1,464.7 593.8,465.9" stroke="#5a4030" stroke-width="0.45" fill="none" opacity="0.55"/><path d="M605.2,447.4 L604.7,450.7 L604.1,453.4 L603.5,455.9 L602.7,458.2 L601.9,460.4 L600.9,462.4 L599.8,464.3 L598.7,466.0 L597.5,467.6 L596.2,469.0 L594.8,470.2 L593.4,471.3 L591.9,472.2 L590.3,472.9 L588.7,473.4 L587.0,473.7 L585.2,473.9 L583.0,473.8 L580.7,473.6 L578.9,473.2 L577.3,472.6 L575.8,471.9 L574.3,470.9 L573.0,469.8 L571.7,468.6 L570.5,467.2 L569.4,465.6 L568.4,463.9 L567.6,462.0 L566.8,460.0 L566.1,457.9 L565.5,455.6 L565.1,453.2 L564.8,450.7 L564.6,447.9 L564.6,444.5 L564.8,441.2 L565.0,438.4 L565.4,435.9 L565.9,433.6 L566.5,431.4 L567.3,429.4 L568.2,427.5 L569.2,425.8 L570.4,424.2 L571.7,422.8 L573.1,421.6 L574.7,420.5 L576.3,419.6 L578.1,418.9 L580.0,418.4 L582.0,418.1 L584.2,418.0 L586.8,418.1 L589.5,418.3 L591.6,418.8 L593.6,419.4 L595.4,420.1 L597.0,421.1 L598.6,422.2 L599.9,423.4 L601.2,424.9 L602.3,426.4 L603.2,428.2 L604.0,430.0 L604.6,432.0 L605.1,434.1 L605.4,436.4 L605.6,438.7 L605.6,441.3 L605.5,444.0Z" fill="url(#egb9)"/><g clip-path="url(#ceb9)"><rect x="562.3" y="416.1" width="43.3" height="58.4" fill="#8a1a10" filter="url(#mottle)" opacity="0.0"/><rect x="562.3" y="416.1" width="43.3" height="58.4" fill="url(#omm)" opacity="0.2"/></g></g>
</svg></body></html>
